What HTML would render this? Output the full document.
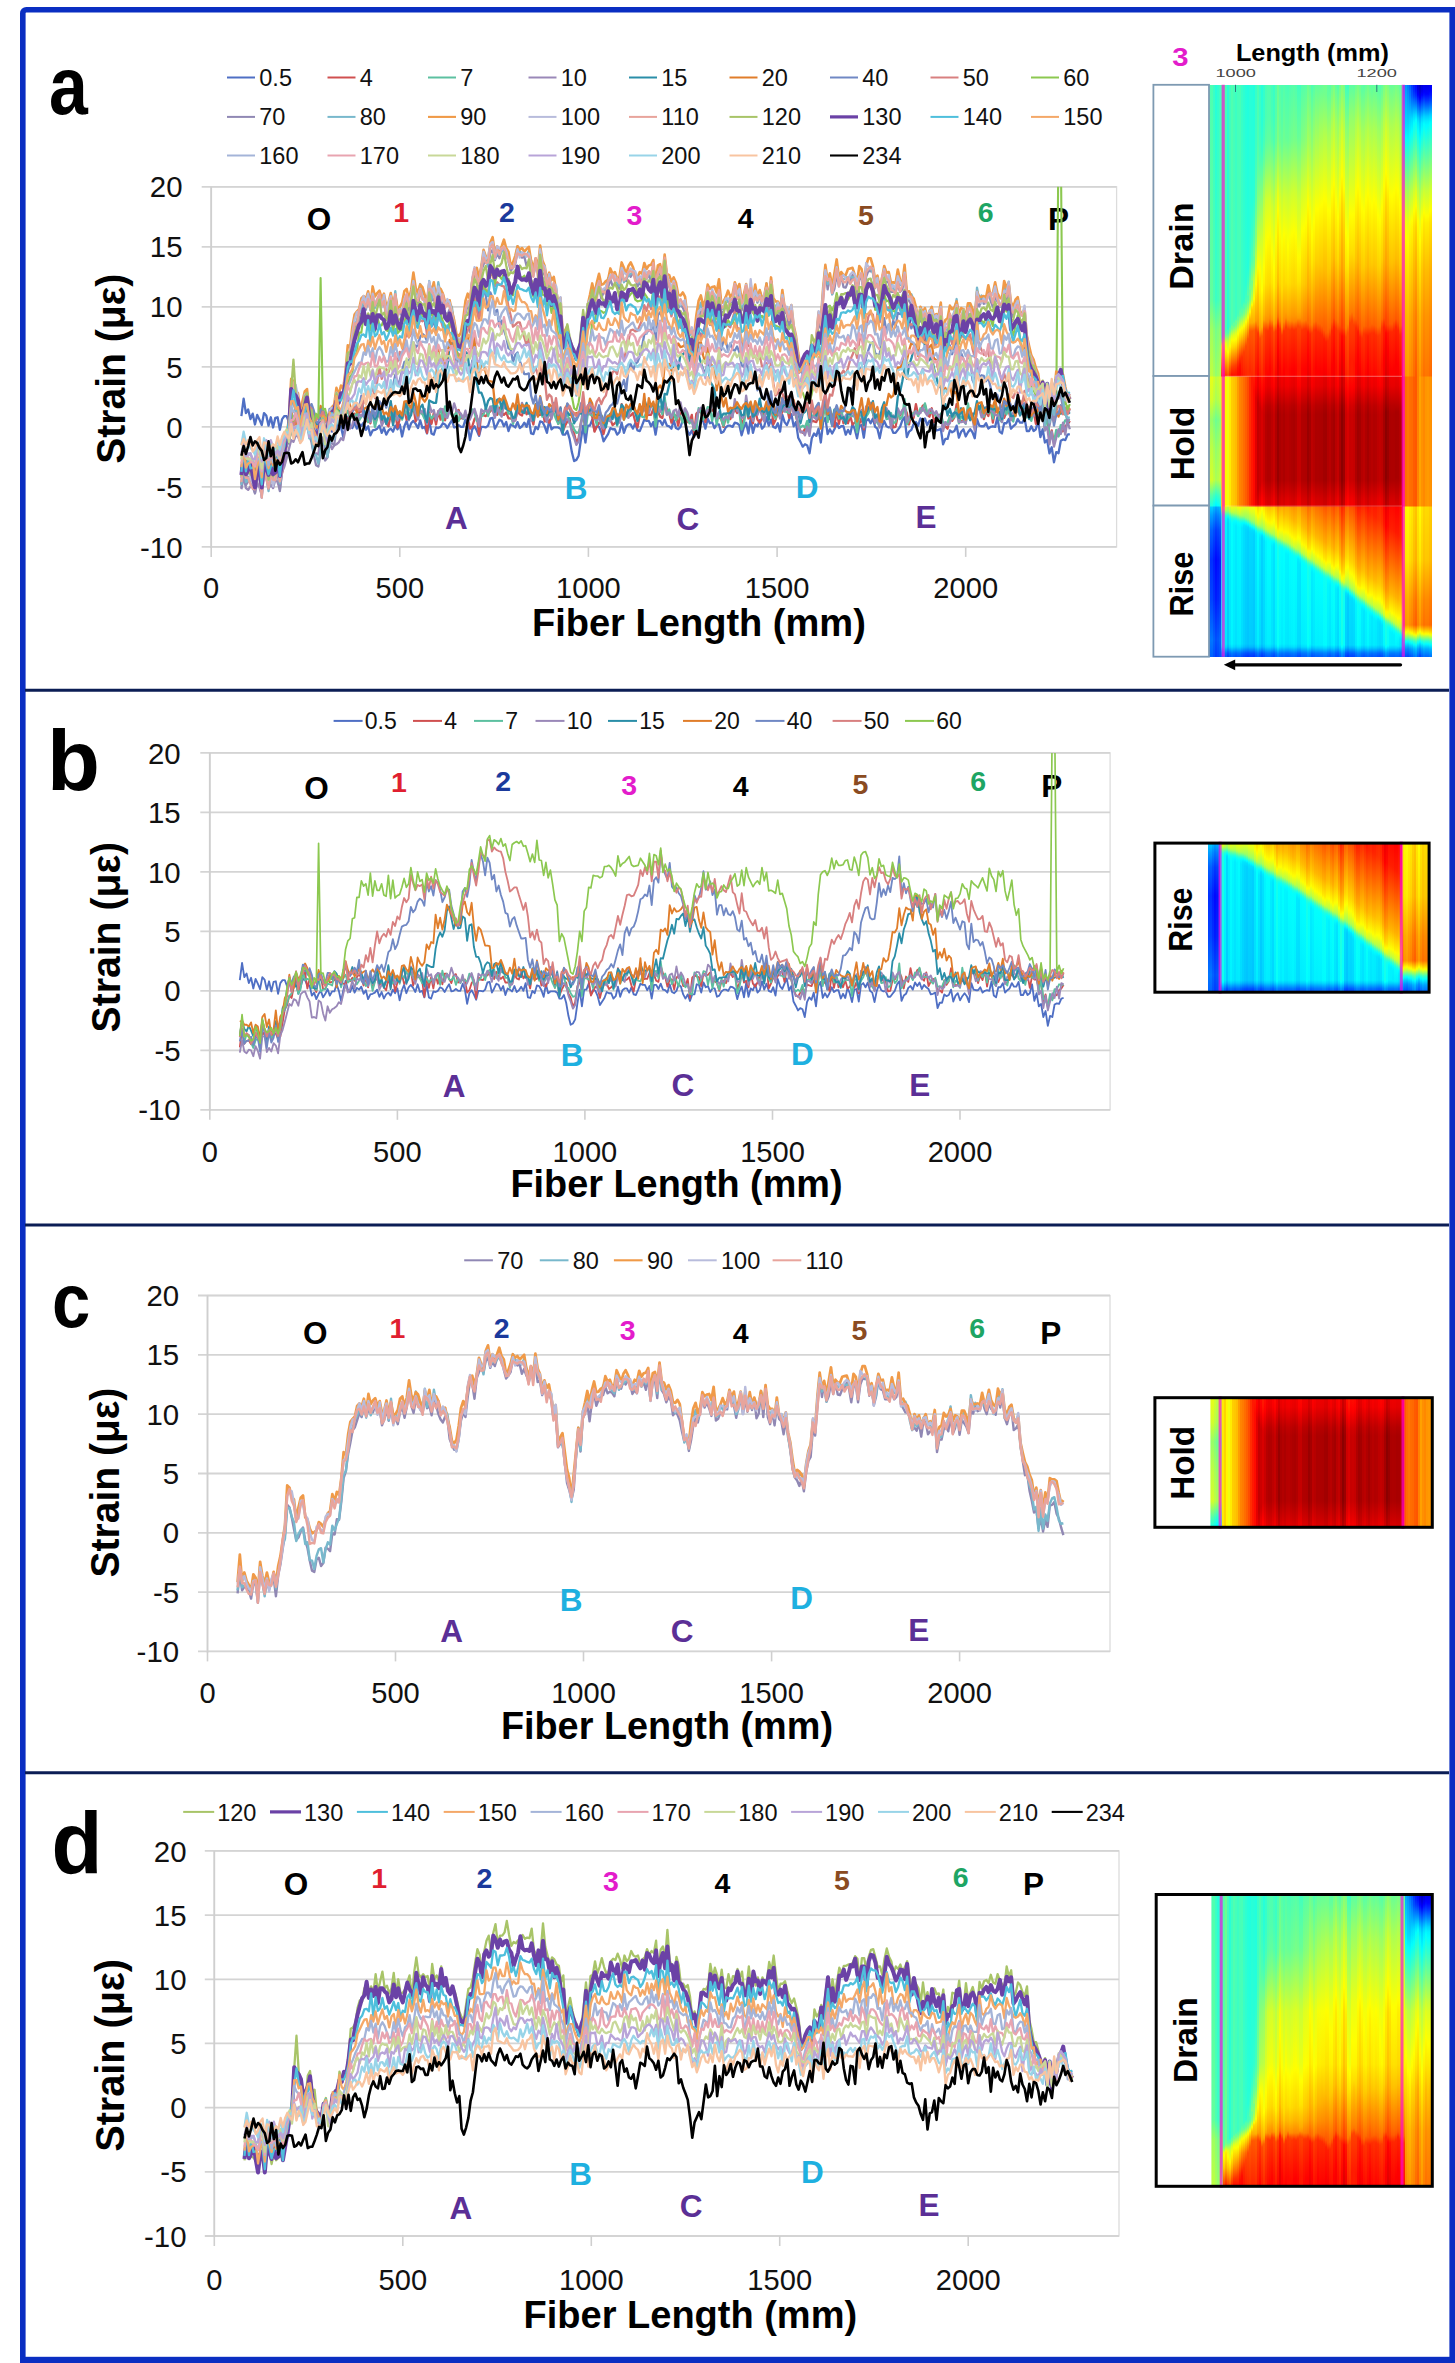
<!DOCTYPE html>
<html><head><meta charset="utf-8"><style>
html,body{margin:0;padding:0;background:#fff;}
#root{position:relative;width:1455px;height:2363px;overflow:hidden;background:#fff;font-family:"Liberation Sans", sans-serif;}
#root svg{position:absolute;left:0;top:0;}
.hm{position:absolute;}
.hm div{position:absolute;top:0;height:100%;}
</style></head><body><div id="root">
<div class="hm" style="left:1209.3px;top:84.8px;width:222.5px;height:571.9px"><div style="left:0.0px;width:2.6px;background:linear-gradient(#4effb1 0px,#63ff9c 215px,#a0ff5f 245px,#beff41 291px,#e7ff18 292px,#d3ff2c 315px,#96ff69 335px,#beff41 365px,#d3ff2c 395px,#5affa5 410px,#1cffe3 421px,#00ceff 422px,#00a1ff 430px,#0064ff 445px,#0030ff 475px,#04f 515px,#07f 555px,#0063ff 571px)"></div><div style="left:2.0px;width:2.6px;background:linear-gradient(#4effb1 0px,#63ff9c 215px,#a0ff5f 245px,#bfff40 291px,#e7ff18 292px,#d3ff2c 315px,#96ff69 335px,#beff41 365px,#d3ff2c 395px,#5affa5 410px,#1dffe2 421px,#00cfff 422px,#00a1ff 430px,#0064ff 445px,#0030ff 475px,#04f 515px,#07f 555px,#0063ff 571px)"></div><div style="left:4.0px;width:2.6px;background:linear-gradient(#3affc5 0px,#4effb1 215px,#8bff74 245px,#af5 291px,#d2ff2d 292px,#bfff40 315px,#82ff7d 335px,#af5 365px,#bfff40 395px,#46ffb9 410px,#08fff7 421px,#00baff 422px,#008dff 430px,#004fff 445px,#001cff 475px,#0030ff 515px,#0063ff 555px,#004fff 571px)"></div><div style="left:6.0px;width:2.6px;background:linear-gradient(#26ffd9 0px,#3bffc4 215px,#7f8 245px,#96ff69 291px,#bfff40 292px,#abff54 315px,#6eff91 335px,#96ff69 365px,#abff54 395px,#32ffcd 410px,#00feff 419px,#00f3ff 421px,#00a6ff 422px,#0079ff 430px,#003bff 445px,#0008ff 475px,#001cff 515px,#004fff 555px,#003bff 571px)"></div><div style="left:8.0px;width:2.6px;background:linear-gradient(#30ffcf 0px,#4fb 215px,#81ff7e 245px,#a0ff5f 291px,#c8ff37 292px,#b5ff4a 315px,#78ff87 335px,#a0ff5f 365px,#b4ff4b 395px,#3cffc3 410px,#04fffb 420px,#00fdff 421px,#00b0ff 422px,#007eff 431px,#0045ff 445px,#0012ff 475px,#0026ff 515px,#0058ff 555px,#0045ff 571px)"></div><div style="left:10.0px;width:2.6px;background:linear-gradient(#3effc1 0px,#52ffad 215px,#8fff70 245px,#aeff51 291px,#d6ff29 292px,#c3ff3c 315px,#86ff79 335px,#aeff51 365px,#c2ff3d 395px,#4affb5 410px,#0cfff3 421px,#00beff 422px,#0091ff 430px,#0053ff 445px,#0020ff 475px,#0034ff 515px,#06f 555px,#0053ff 571px)"></div><div style="left:12.0px;width:2.6px;background:linear-gradient(#56ffa9 0px,#56ffa9 250px,#5fffa0 252px,#85ff7a 255px,#a6ff59 257px,#ef1 260px,#feff01 263px,#ffd000 272px,#ff3b00 291px,#ffec00 292px,#ffec00 421px,#daff25 422px,#c2ff3d 424px,#5fa 428px,#2cffd3 430px,#13ffec 432px,#08fff7 435px,#00faff 559px,#00e6ff 562px,#0084ff 568px,#006bff 571px)"></div><div style="left:14.0px;width:2.6px;background:linear-gradient(#6cff93 0px,#6cff93 248px,#8dff72 252px,#f4ff0b 258px,#fff700 259px,#ffb900 271px,#ff1d00 291px,#ffd500 292px,#ffd500 421px,#f4ff0b 422px,#e1ff1e 424px,#cdff32 425px,#61ff9e 429px,#3bffc4 431px,#27ffd8 433px,#1effe1 436px,#1fe 559px,#09fff6 561px,#0ef 563px,#009bff 568px,#0082ff 571px)"></div><div style="left:16.0px;width:2.6px;background:linear-gradient(#46ffb9 0px,#46ffb9 245px,#4fffb0 247px,#5fffa0 248px,#5affa5 249px,#e4ff1b 258px,#feff01 264px,#ffd400 271px,#ff3800 291px,#fff800 292px,#fff800 421px,#d3ff2c 422px,#b6ff49 425px,#4bffb4 429px,#20ffdf 431px,#00feff 434px,#00f6ff 437px,#00eaff 559px,#00d6ff 562px,#0074ff 568px,#005bff 571px)"></div><div style="left:18.0px;width:2.6px;background:linear-gradient(#29ffd6 0px,#29ffd6 243px,#2cffd3 244px,#49ffb6 246px,#40ffbf 247px,#4cffb3 248px,#c2ff3d 256px,#fdff02 267px,#ff4a00 291px,#f0ff0f 292px,#f0ff0f 421px,#bf4 422px,#94ff6b 426px,#1fe 431px,#00fdff 432px,#00e4ff 434px,#00d9ff 438px,#00cdff 559px,#00b9ff 562px,#0057ff 568px,#003eff 571px)"></div><div style="left:20.0px;width:2.6px;background:linear-gradient(#40ffbf 0px,#40ffbf 241px,#46ffb9 242px,#67ff98 244px,#5bffa4 245px,#daff25 254px,#fdff02 261px,#ffda00 267px,#ff5a00 283px,#ff2700 291px,#ffeb00 292px,#ffeb00 421px,#d7ff28 422px,#b6ff49 426px,#a4ff5b 427px,#50ffaf 430px,#2fd 432px,#03fffc 434px,#00faff 435px,#00f1ff 439px,#00e5ff 559px,#00d1ff 562px,#006fff 568px,#0056ff 571px)"></div><div style="left:22.0px;width:2.6px;background:linear-gradient(#4fffb0 0px,#50ffaf 238px,#5cffa3 240px,#7dff82 242px,#6dff92 243px,#deff21 251px,#fcff03 255px,#ffdc00 262px,#ff4000 282px,#ff0c00 291px,#ffce00 292px,#ffce00 421px,#ecff13 422px,#c1ff3e 427px,#40ffbf 432px,#1bffe4 434px,#02fffd 438px,#00f4ff 559px,#00e0ff 562px,#007eff 568px,#0065ff 571px)"></div><div style="left:24.0px;width:2.6px;background:linear-gradient(#45ffba 0px,#46ffb9 235px,#52ffad 237px,#6dff92 239px,#5effa1 240px,#67ff98 241px,#e1ff1e 250px,#fdff02 255px,#ffd500 262px,#ff4000 281px,#ff0e00 291px,#ffc600 292px,#ffc600 421px,#e6ff19 422px,#caff35 426px,#b2ff4d 428px,#2fffd0 433px,#0dfff2 435px,#00fcff 437px,#00f6ff 440px,#00e9ff 559px,#00d6ff 562px,#0074ff 568px,#005bff 571px)"></div><div style="left:26.0px;width:2.6px;background:linear-gradient(#3cffc3 0px,#3cffc3 231px,#49ffb6 234px,#70ff8f 237px,#60ff9f 238px,#7eff81 241px,#dbff24 248px,#fcff03 254px,#ffda00 260px,#ff3f00 280px,#ff1f00 286px,#f10 291px,#fb0 292px,#fb0 421px,#e3ff1c 422px,#b4ff4b 428px,#a3ff5c 429px,#36ffc9 433px,#01fffe 436px,#00edff 441px,#00e1ff 559px,#00cdff 562px,#006bff 568px,#0052ff 571px)"></div><div style="left:28.0px;width:2.6px;background:linear-gradient(#46ffb9 0px,#46ffb9 228px,#53ffac 231px,#6aff95 233px,#61ff9e 234px,#a9ff56 241px,#ebff14 246px,#fdff02 249px,#ffd500 256px,#f30 277px,#ff1400 283px,#ff0700 289px,#ff0700 291px,#ff9c00 292px,#ff9c00 421px,#f1ff0e 422px,#b9ff46 429px,#38ffc7 434px,#13ffec 436px,#0ff 438px,#00f6ff 442px,#00eaff 559px,#00d6ff 562px,#0074ff 568px,#005bff 571px)"></div><div style="left:30.0px;width:2.6px;background:linear-gradient(#48ffb7 0px,#48ffb7 223px,#65ff9a 229px,#5dffa2 230px,#64ff9b 231px,#ff0 245px,#ffd300 252px,#ff3100 273px,#ff0f00 280px,#ff0500 286px,#ff0500 291px,#ff8300 292px,#ff8300 421px,#f8ff07 422px,#cdff32 428px,#b6ff49 430px,#3fc 435px,#1fe 437px,#0ff 439px,#00f8ff 442px,#00ecff 559px,#00d8ff 562px,#0076ff 568px,#005dff 571px)"></div><div style="left:32.0px;width:2.6px;background:linear-gradient(#38ffc7 0px,#39ffc6 218px,#42ffbd 221px,#5cffa3 225px,#53ffac 226px,#6aff95 230px,#fbff04 243px,#ffe200 248px,#ff6200 264px,#ff2f00 272px,#ff1400 289px,#ff1400 291px,#ff7a00 292px,#ff7a00 421px,#edff12 422px,#b1ff4e 430px,#a1ff5e 431px,#34ffcb 435px,#00fdff 438px,#00e9ff 443px,#0df 559px,#00c9ff 562px,#0067ff 568px,#004eff 571px)"></div><div style="left:34.0px;width:2.6px;background:linear-gradient(#2effd1 0px,#32ffcd 213px,#37ffc8 216px,#58ffa7 221px,#4effb1 222px,#7aff85 229px,#e3ff1c 238px,#fdff02 241px,#ff3e00 267px,#ff1f00 289px,#ff1f00 291px,#ff6c00 292px,#ff6c00 421px,#e8ff17 422px,#a2ff5d 431px,#2fd 436px,#00fcff 438px,#00e7ff 440px,#00dfff 443px,#00d2ff 559px,#00beff 562px,#005cff 568px,#0043ff 571px)"></div><div style="left:36.0px;width:2.6px;background:linear-gradient(#25ffda 0px,#2affd5 198px,#39ffc6 209px,#4fffb0 216px,#45ffba 217px,#93ff6c 228px,#fdff02 237px,#ff4b00 261px,#ff2700 287px,#ff2700 291px,#ff5d00 292px,#ff5d00 421px,#e5ff1a 422px,#9cff63 432px,#8bff74 433px,#1effe1 437px,#08fff7 438px,#00f6ff 439px,#00e0ff 441px,#00d6ff 445px,#00caff 559px,#00b6ff 562px,#0054ff 568px,#003bff 571px)"></div><div style="left:38.0px;width:2.6px;background:linear-gradient(#21ffde 0px,#25ffda 183px,#3bffc4 197px,#5dffa2 210px,#4bffb4 211px,#53ffac 215px,#90ff6f 223px,#f8ff07 232px,#fffa00 233px,#ff5600 254px,#ff2c00 287px,#ff2c00 291px,#ff4a00 292px,#ff4a00 421px,#e5ff1a 422px,#deff21 424px,#9bff64 433px,#8cff73 434px,#08fff7 439px,#00f5ff 440px,#00dcff 442px,#00d1ff 446px,#00c5ff 559px,#00b1ff 562px,#004fff 568px,#0036ff 571px)"></div><div style="left:40.0px;width:2.6px;background:linear-gradient(#28ffd7 0px,#28ffd7 144px,#36ffc9 175px,#51ffae 189px,#7eff81 204px,#6f9 205px,#7fff80 215px,#f5ff0a 226px,#fffd00 227px,#ffb900 234px,#fa0 238px,#ff6300 245px,#ff5700 247px,#ff2600 286px,#ff2c00 292px,#ff2c00 421px,#f0ff0f 422px,#dfff20 426px,#a4ff5b 434px,#97ff68 435px,#2bffd4 439px,#01fffe 441px,#00e5ff 443px,#00d8ff 447px,#0cf 559px,#00b8ff 562px,#0056ff 568px,#003dff 571px)"></div><div style="left:42.0px;width:2.6px;background:linear-gradient(#26ffd9 0px,#26ffd9 117px,#3affc5 154px,#52ffad 175px,#8cff73 195px,#73ff8c 196px,#85ff7a 204px,#beff41 215px,#f2ff0d 219px,#fffe00 220px,#ffe400 222px,#ffd000 225px,#ffab00 238px,#ff5900 246px,#ff2600 291px,#ff1800 292px,#ff1800 421px,#f3ff0c 422px,#dfff20 427px,#a5ff5a 435px,#83ff7c 437px,#18ffe7 441px,#03fffc 442px,#00f2ff 443px,#00dfff 445px,#00d7ff 448px,#00caff 559px,#00b7ff 562px,#0054ff 568px,#003cff 571px)"></div><div style="left:44.0px;width:2.6px;background:linear-gradient(#21ffde 0px,#2affd5 112px,#42ffbd 140px,#6eff91 171px,#61ff9e 172px,#76ff89 182px,#abff54 192px,#fdff02 214px,#ffd900 221px,#ffb100 237px,#ff6100 245px,#ff5d00 246px,#ff2b00 291px,#ff1c00 292px,#ff0a00 306px,#ff0a00 421px,#f3ff0c 422px,#dcff23 428px,#a3ff5c 436px,#85ff7a 438px,#31ffce 441px,#03fffc 443px,#00f1ff 444px,#00dbff 446px,#00d2ff 450px,#00c5ff 559px,#00b2ff 562px,#0050ff 568px,#0037ff 571px)"></div><div style="left:46.0px;width:2.6px;background:linear-gradient(#38ffc7 0px,#3dffc2 69px,#57ffa8 115px,#85ff7a 147px,#7fff80 148px,#89ff76 156px,#feff01 199px,#ffcb00 216px,#ff9b00 236px,#ff4700 245px,#ff1400 285px,#ff1400 291px,#ff0500 292px,#fe0000 300px,#e10000 313px,#e10000 410px,#ef0000 421px,#fff000 422px,#fffe00 426px,#f5ff0a 429px,#b2ff4d 438px,#a2ff5d 439px,#35ffca 443px,#00fdff 446px,#00efff 448px,#00e9ff 451px,#0df 559px,#00c9ff 562px,#0067ff 568px,#004eff 571px)"></div><div style="left:48.0px;width:2.6px;background:linear-gradient(#4affb5 0px,#4fffb0 56px,#62ff9d 87px,#9f6 129px,#feff01 182px,#ff9c00 234px,#ff8700 240px,#ff3600 248px,#ff0300 291px,#f20000 292px,#eb0000 301px,#c20000 318px,#c20000 404px,#de0000 421px,#ffda00 422px,#fffd00 431px,#c6ff39 439px,#b8ff47 440px,#4cffb3 444px,#2fd 446px,#08fff7 448px,#00feff 450px,#0ef 559px,#00daff 562px,#0078ff 568px,#005fff 571px)"></div><div style="left:50.0px;width:2.6px;background:linear-gradient(#38ffc7 0px,#3cffc3 47px,#4effb1 76px,#ff0 186px,#ffec00 208px,#ffaf00 239px,#ff9b00 245px,#ff4b00 253px,#ff4800 254px,#ff1a00 291px,#ff0700 292px,#fe0000 301px,#cb0000 323px,#cb0000 400px,#eb0000 414px,#f10000 421px,#ffe900 422px,#fffe00 428px,#efff10 432px,#b5ff4a 440px,#92ff6d 442px,#27ffd8 446px,#03fffc 448px,#00f6ff 449px,#00e7ff 453px,#00dbff 559px,#00c7ff 562px,#0065ff 568px,#004cff 571px)"></div><div style="left:52.0px;width:2.6px;background:linear-gradient(#26ffd9 0px,#2affd5 39px,#39ffc6 65px,#d1ff2e 154px,#ff0 205px,#ffc200 236px,#ffaf00 242px,#ff5b00 251px,#ff2800 291px,#ff1900 292px,#fe0000 309px,#d70000 327px,#d70000 396px,#fd0000 414px,#ff0500 421px,#fff700 422px,#fffe00 424px,#dfff20 433px,#a5ff5a 441px,#86ff79 443px,#32ffcd 446px,#05fffa 448px,#00f3ff 449px,#00deff 451px,#00d5ff 454px,#00c8ff 559px,#00b5ff 562px,#0053ff 568px,#003aff 571px)"></div><div style="left:54.0px;width:2.6px;background:linear-gradient(#34ffcb 0px,#37ffc8 32px,#4fb 55px,#60ff9f 75px,#a5ff5a 106px,#cbff34 128px,#ff0 182px,#fff200 198px,#ffb600 229px,#ffa200 235px,#ff4e00 244px,#ff1c00 284px,#ff1b00 291px,#ff0c00 292px,#fd0000 304px,#d30000 321px,#c90000 330px,#c90000 395px,#f10000 414px,#f70000 421px,#ffe500 422px,#fffe00 429px,#edff12 434px,#af5 443px,#9f6 444px,#16ffe9 449px,#04fffb 450px,#00f5ff 451px,#00e2ff 456px,#00d5ff 559px,#00c2ff 562px,#0060ff 568px,#0047ff 571px)"></div><div style="left:56.0px;width:2.6px;background:linear-gradient(#48ffb7 0px,#4cffb3 32px,#5bffa4 56px,#79ff86 75px,#cdff32 114px,#f6ff09 150px,#fffe00 161px,#ffdf00 199px,#ffa200 230px,#ff8e00 236px,#ff3b00 245px,#ff0900 284px,#ff0800 291px,#f80000 292px,#f00000 301px,#c00000 321px,#b60000 330px,#b60000 395px,#d00 414px,#e40000 421px,#ffce00 422px,#fffd00 435px,#c0ff3f 444px,#b1ff4e 445px,#2effd1 450px,#01fffe 453px,#00f5ff 457px,#00e8ff 559px,#00d5ff 562px,#0073ff 568px,#005aff 571px)"></div><div style="left:58.0px;width:2.6px;background:linear-gradient(#50ffaf 0px,#53ffac 32px,#63ff9c 57px,#82ff7d 76px,#d2ff2d 114px,#feff01 152px,#ffd900 200px,#ff9c00 231px,#f80 237px,#ff3400 246px,#ff0200 291px,#f20000 292px,#ea0000 301px,#ba0000 321px,#af0000 330px,#b00000 395px,#d70000 414px,#d00 421px,#ffc300 422px,#fffb00 437px,#d1ff2e 444px,#bf4 446px,#51ffae 450px,#26ffd9 452px,#0afff5 454px,#0ff 456px,#00efff 559px,#00dbff 562px,#0079ff 568px,#0060ff 571px)"></div><div style="left:60.0px;width:2.6px;background:linear-gradient(#4fffb0 0px,#53ffac 31px,#61ff9e 54px,#80ff7f 74px,#d4ff2b 114px,#fcff03 149px,#ffda00 197px,#ff9d00 228px,#ff8a00 234px,#ff3600 243px,#ff0300 283px,#ff0300 291px,#f30000 292px,#eb0000 301px,#b00 321px,#b10000 330px,#b10000 395px,#d80000 414px,#de0000 421px,#ffc000 422px,#fffb00 438px,#bdff42 447px,#28ffd7 453px,#0bfff4 455px,#0ff 457px,#0ef 559px,#00daff 562px,#0078ff 568px,#005fff 571px)"></div><div style="left:62.0px;width:2.6px;background:linear-gradient(#43ffbc 0px,#47ffb8 31px,#56ffa9 54px,#d4ff2b 123px,#ff0 167px,#ffe500 198px,#ffa800 229px,#ff9300 235px,#ff4200 243px,#ff0f00 283px,#ff0f00 291px,#f00 292px,#f70000 301px,#c60000 321px,#bc0000 330px,#bd0000 395px,#e40000 414px,#ea0000 421px,#ffc700 422px,#fffd00 437px,#f9ff06 439px,#b4ff4b 448px,#a3ff5c 449px,#36ffc9 453px,#01fffe 456px,#0ef 461px,#00e2ff 559px,#00ceff 562px,#006cff 568px,#0053ff 571px)"></div><div style="left:64.0px;width:2.6px;background:linear-gradient(#39ffc6 0px,#3effc1 33px,#4fffb0 58px,#c5ff3a 122px,#ff0 183px,#ffef00 202px,#ffb200 233px,#ff9e00 239px,#ff4e00 247px,#ff4b00 248px,#ff1900 291px,#ff0a00 292px,#fd0000 303px,#d10000 321px,#c60000 330px,#c70000 395px,#e00 414px,#f40000 421px,#ffce00 422px,#fffc00 435px,#f0ff0f 440px,#adff52 449px,#9eff61 450px,#1affe5 455px,#00f9ff 457px,#00eaff 459px,#00e4ff 462px,#00d8ff 559px,#00c4ff 562px,#0062ff 568px,#0049ff 571px)"></div><div style="left:66.0px;width:2.6px;background:linear-gradient(#4fffb0 0px,#5fa 32px,#65ff9a 57px,#cfff30 113px,#fcff03 152px,#ffd900 201px,#ff9c00 232px,#f80 238px,#ff3700 246px,#ff0300 291px,#f30000 292px,#eb0000 301px,#b00 321px,#b00000 330px,#b10000 395px,#d80000 414px,#de0000 421px,#ffb500 422px,#fffd00 442px,#c6ff39 450px,#b7ff48 451px,#4cffb3 455px,#21ffde 457px,#07fff8 459px,#00feff 461px,#0ef 559px,#00daff 562px,#0078ff 568px,#005fff 571px)"></div><div style="left:68.0px;width:2.6px;background:linear-gradient(#68ff97 0px,#7dff82 53px,#9cff63 73px,#e3ff1c 107px,#feff01 126px,#ffc100 195px,#ff8500 226px,#ff7100 232px,#ff1d00 241px,#f00 266px,#ea0000 281px,#ea0000 291px,#db0000 292px,#d30000 301px,#a50000 320px,#900 329px,#900 395px,#c00000 414px,#c60000 421px,#ff9b00 422px,#ffde00 442px,#fff900 446px,#e8ff17 450px,#d3ff2c 452px,#69ff96 456px,#3dffc2 458px,#21ffde 460px,#14ffeb 463px,#05fffa 560px,#00f2ff 562px,#0084ff 569px,#07f 571px)"></div><div style="left:70.0px;width:2.6px;background:linear-gradient(#5fa 0px,#6cff93 55px,#d5ff2a 112px,#feff01 147px,#ffd400 199px,#ff9600 230px,#ff8200 236px,#ff3100 244px,#fe0000 283px,#fc0000 291px,#ed0000 292px,#e50000 301px,#b70000 320px,#ab0000 329px,#ab0000 395px,#d20000 414px,#d90000 421px,#fa0 422px,#fffc00 445px,#c4ff3b 453px,#2fffd0 459px,#1fe 461px,#03fffc 464px,#00f4ff 559px,#00e0ff 562px,#007eff 568px,#0065ff 571px)"></div><div style="left:72.0px;width:2.6px;background:linear-gradient(#4dffb2 0px,#56ffa9 34px,#69ff96 61px,#c9ff36 113px,#faff05 156px,#ffdb00 205px,#ff9e00 236px,#ff8a00 242px,#ff3800 250px,#ff0500 291px,#f50000 292px,#ed0000 301px,#bd0000 321px,#b20000 330px,#b30000 395px,#da0000 414px,#e00000 421px,#ffaf00 422px,#fffb00 445px,#bfff40 454px,#aeff51 455px,#2bffd4 460px,#0cfff3 462px,#00feff 464px,#00ecff 559px,#00d8ff 562px,#0076ff 568px,#005dff 571px)"></div><div style="left:74.0px;width:2.6px;background:linear-gradient(#54ffab 0px,#70ff8f 57px,#d3ff2c 112px,#ff0 150px,#ffd500 200px,#ff9800 231px,#ff8500 237px,#ff3100 246px,#f00 285px,#fd0000 291px,#e00 292px,#e60000 301px,#b80000 320px,#ac0000 329px,#ac0000 395px,#d30000 414px,#d90000 421px,#ffa500 422px,#ffb600 429px,#fffa00 447px,#c9ff36 455px,#baff45 456px,#4dffb2 460px,#24ffdb 462px,#0bfff4 464px,#01fffe 467px,#00f3ff 559px,#00dfff 562px,#007dff 568px,#0064ff 571px)"></div><div style="left:76.0px;width:2.6px;background:linear-gradient(#4cffb3 0px,#6f9 53px,#cdff32 111px,#f8ff07 148px,#ffde00 196px,#ffa200 227px,#ff8e00 233px,#ff3a00 242px,#ff0800 282px,#ff0800 291px,#f70000 292px,#f00000 301px,#bf0000 321px,#b50000 330px,#b50000 395px,#d00 414px,#e30000 421px,#ffab00 422px,#ffbf00 430px,#fffb00 447px,#c2ff3d 456px,#b4ff4b 457px,#48ffb7 461px,#1effe1 463px,#03fffc 465px,#00fdff 466px,#00f5ff 469px,#00e9ff 559px,#00d6ff 562px,#0073ff 568px,#005bff 571px)"></div><div style="left:78.0px;width:2.6px;background:linear-gradient(#49ffb6 0px,#6f9 55px,#c9ff36 111px,#f6ff09 150px,#ff0 161px,#ffe000 198px,#ffa400 229px,#ff9000 235px,#ff3c00 244px,#ff0a00 284px,#ff0900 291px,#f90000 292px,#f10000 301px,#c10000 321px,#b70000 330px,#b70000 395px,#df0000 414px,#e50000 421px,#fa0 422px,#ffc300 432px,#fffc00 448px,#caff35 456px,#b5ff4a 458px,#20ffdf 464px,#03fffc 466px,#00fcff 467px,#00f4ff 470px,#00e7ff 559px,#00d4ff 562px,#0072ff 568px,#0059ff 571px)"></div><div style="left:80.0px;width:2.6px;background:linear-gradient(#4fffb0 0px,#6eff91 56px,#cf3 110px,#fbff04 151px,#ffdb00 199px,#ff9e00 230px,#ff8b00 236px,#ff3700 245px,#ff0400 285px,#ff0400 291px,#f40000 292px,#ec0000 301px,#bc0000 321px,#b10000 330px,#b20000 395px,#d90000 414px,#df0000 421px,#ffa200 422px,#ffbd00 433px,#fffb00 450px,#bdff42 459px,#29ffd6 465px,#0bfff4 467px,#00feff 469px,#00edff 559px,#00d9ff 562px,#07f 568px,#005eff 571px)"></div><div style="left:82.0px;width:2.6px;background:linear-gradient(#53ffac 0px,#73ff8c 55px,#cfff30 108px,#feff01 149px,#ffd500 199px,#ff9800 230px,#ff8400 236px,#f30 244px,#f00 285px,#f00 291px,#ef0000 292px,#e80000 301px,#b90000 320px,#ad0000 329px,#ae0000 395px,#d50000 414px,#db0000 421px,#ff9b00 422px,#ffb800 434px,#fffc00 452px,#c5ff3a 460px,#b5ff4a 461px,#48ffb7 465px,#20ffdf 467px,#08fff7 469px,#01fffe 471px,#00f1ff 559px,#0df 562px,#007bff 568px,#0062ff 571px)"></div><div style="left:84.0px;width:2.6px;background:linear-gradient(#57ffa8 0px,#79ff86 56px,#cfff30 106px,#feff01 146px,#ffd100 200px,#ff9400 231px,#ff8000 237px,#ff3000 245px,#f00 283px,#fb0000 291px,#ec0000 292px,#e40000 301px,#b60000 320px,#a00 329px,#a00 395px,#d10000 414px,#d80000 421px,#ff9400 422px,#ffb600 436px,#fffd00 454px,#ceff31 461px,#c1ff3e 462px,#56ffa9 466px,#2bffd4 468px,#0ffff0 470px,#03fffc 473px,#00f4ff 559px,#00e1ff 562px,#007fff 568px,#06f 571px)"></div><div style="left:86.0px;width:2.6px;background:linear-gradient(#51ffae 0px,#75ff8a 55px,#cdff32 107px,#feff01 150px,#ffeb00 175px,#ffd600 199px,#f90 230px,#ff8300 236px,#ff3600 244px,#ff0300 284px,#ff0300 291px,#f30000 292px,#eb0000 301px,#b00 321px,#b10000 330px,#b10000 395px,#d90000 414px,#df0000 421px,#ff9800 422px,#ffbc00 437px,#fffa00 454px,#c0ff3f 463px,#aeff51 464px,#2cffd3 469px,#0dfff2 471px,#0ff 473px,#00edff 559px,#00daff 562px,#0078ff 568px,#005fff 571px)"></div><div style="left:88.0px;width:2.6px;background:linear-gradient(#42ffbd 0px,#6f9 52px,#cbff34 115px,#fffb00 172px,#ffe500 196px,#ffa900 227px,#ff9600 233px,#ff4700 241px,#ff1500 281px,#ff1400 291px,#ff0500 292px,#fe0000 300px,#c00 321px,#c20000 330px,#c20000 395px,#ea0000 414px,#f00000 421px,#ffa500 422px,#ffcb00 438px,#fffe00 452px,#f6ff09 455px,#b5ff4a 464px,#a7ff58 465px,#24ffdb 470px,#01fffe 472px,#00f0ff 474px,#00e9ff 477px,#00dcff 559px,#00c9ff 562px,#0067ff 568px,#004eff 571px)"></div><div style="left:90.0px;width:2.6px;background:linear-gradient(#41ffbe 0px,#68ff97 52px,#caff35 114px,#fffb00 172px,#ffe400 196px,#ffa900 227px,#ff9600 233px,#ff4700 242px,#ff1700 281px,#ff1600 291px,#ff0700 292px,#fe0000 301px,#ce0000 321px,#c30000 330px,#c40000 395px,#eb0000 414px,#f10000 421px,#ffa300 422px,#ffcf00 440px,#fffd00 453px,#f1ff0e 457px,#acff53 466px,#98ff67 467px,#2cffd3 471px,#06fff9 473px,#00f8ff 474px,#00e7ff 479px,#00dbff 559px,#00c7ff 562px,#0065ff 568px,#004cff 571px)"></div><div style="left:92.0px;width:2.6px;background:linear-gradient(#53ffac 0px,#80ff7f 55px,#d1ff2e 106px,#feff01 146px,#ffe600 175px,#ffce00 199px,#ff9400 230px,#ff8200 236px,#ff3400 245px,#ff0400 284px,#ff0300 291px,#f30000 292px,#eb0000 301px,#b00 321px,#b10000 330px,#b10000 395px,#d80000 414px,#df0000 421px,#ff8d00 422px,#fb0 441px,#fffe00 459px,#c4ff3b 467px,#b6ff49 468px,#3fc 473px,#1fe 475px,#01fffe 477px,#00edff 559px,#00daff 562px,#0078ff 568px,#005fff 571px)"></div><div style="left:94.0px;width:2.6px;background:linear-gradient(#56ffa9 0px,#85ff7a 55px,#d6ff29 106px,#ff0 143px,#ffc900 199px,#ff7d00 236px,#f30 244px,#ff0200 284px,#ff0200 291px,#f20000 292px,#ea0000 301px,#ba0000 321px,#b00000 330px,#b00000 395px,#d70000 414px,#de0000 421px,#ff8900 422px,#fb0 443px,#fffa00 460px,#beff41 469px,#29ffd6 475px,#0bfff4 477px,#0ff 479px,#0ef 559px,#00dbff 562px,#0079ff 568px,#0060ff 571px)"></div><div style="left:96.0px;width:2.6px;background:linear-gradient(#5affa5 0px,#8dff72 55px,#daff25 105px,#ff0 138px,#ffc200 199px,#ff7a00 235px,#ff2f00 244px,#f00 284px,#f00 291px,#f00000 292px,#e80000 301px,#ba0000 320px,#ae0000 329px,#ae0000 395px,#d50000 414px,#db0000 421px,#ff8300 422px,#ffb800 444px,#fffc00 462px,#c6ff39 470px,#b7ff48 471px,#4affb5 475px,#21ffde 477px,#09fff6 479px,#01fffe 481px,#00f1ff 559px,#0df 562px,#007bff 568px,#0062ff 571px)"></div><div style="left:98.0px;width:2.6px;background:linear-gradient(#6cff93 0px,#a6ff59 58px,#ff0 119px,#fa0 202px,#ff6400 238px,#ff1b00 247px,#f00 271px,#eb0000 291px,#dc0000 292px,#d40000 301px,#a60000 320px,#900 329px,#9a0000 395px,#c10000 414px,#c70000 421px,#ff6c00 422px,#ffa500 446px,#ffdf00 462px,#fffa00 466px,#e7ff18 470px,#d3ff2c 472px,#3dffc2 478px,#21ffde 480px,#13ffec 483px,#04fffb 560px,#00f1ff 562px,#008fff 568px,#0076ff 571px)"></div><div style="left:100.0px;width:2.6px;background:linear-gradient(#62ff9d 0px,#a1ff5e 60px,#fffe00 129px,#ffd000 179px,#ffb000 204px,#ff6b00 240px,#ff2500 249px,#f00 281px,#f60000 291px,#e70000 292px,#df0000 301px,#b10000 320px,#a40000 329px,#a50000 395px,#c00 414px,#d20000 421px,#ff7300 422px,#ffaf00 447px,#ffec00 464px,#fffb00 466px,#ceff31 473px,#bdff42 474px,#50ffaf 478px,#28ffd7 480px,#1fe 482px,#09fff6 484px,#00faff 559px,#00e6ff 562px,#0084ff 568px,#006bff 571px)"></div><div style="left:102.0px;width:2.6px;background:linear-gradient(#4cffb3 0px,#8eff71 59px,#deff21 116px,#fffe00 150px,#ffe500 179px,#ff9000 233px,#ff7d00 240px,#ff3c00 248px,#ff0f00 291px,#fe0000 292px,#f70000 301px,#c60000 321px,#bc0000 330px,#bd0000 395px,#e40000 414px,#ea0000 421px,#f80 422px,#ffc500 448px,#ff0 464px,#bf4 474px,#96ff69 476px,#2cffd3 480px,#08fff7 482px,#00fcff 483px,#0ef 487px,#00e0ff 560px,#00c0ff 563px,#006cff 568px,#0053ff 571px)"></div><div style="left:104.0px;width:2.6px;background:linear-gradient(#57ffa8 0px,#e8ff17 113px,#ff0 137px,#ffdc00 176px,#ffb900 200px,#ff7600 237px,#ff3600 245px,#ff0900 284px,#ff0800 291px,#f80000 292px,#f00000 301px,#c00000 321px,#b50000 330px,#b60000 395px,#d00 414px,#e30000 421px,#ff7d00 422px,#ffc000 450px,#fffe00 467px,#bf4 476px,#a9ff56 477px,#27ffd8 482px,#00feff 485px,#00f4ff 489px,#00e7ff 560px,#00c7ff 563px,#0073ff 568px,#005aff 571px)"></div><div style="left:106.0px;width:2.6px;background:linear-gradient(#63ff9c 0px,#ff0 124px,#ffd000 175px,#ffad00 199px,#ff6b00 236px,#ff2b00 245px,#f00 283px,#fe0000 291px,#e00 292px,#e70000 301px,#b80000 320px,#ac0000 329px,#ad0000 395px,#d40000 414px,#da0000 421px,#ff7100 422px,#ffb600 451px,#fff900 469px,#caff35 477px,#bcff43 478px,#50ffaf 482px,#25ffda 484px,#0bfff4 486px,#02fffd 488px,#00f0ff 560px,#00d0ff 563px,#007cff 568px,#0063ff 571px)"></div><div style="left:108.0px;width:2.6px;background:linear-gradient(#61ff9e 0px,#ff0 124px,#ffce00 177px,#ffa900 201px,#ff6900 238px,#ff2b00 247px,#f00 286px,#f00 291px,#ef0000 292px,#e80000 301px,#b90000 320px,#ad0000 329px,#ae0000 395px,#d50000 414px,#db0000 421px,#ff6f00 422px,#ffb900 453px,#ff0 471px,#c0ff3f 479px,#2bffd4 485px,#0efff1 487px,#02fffd 489px,#00efff 560px,#00cfff 563px,#007bff 568px,#0062ff 571px)"></div><div style="left:110.0px;width:2.6px;background:linear-gradient(#62ff9d 0px,#a0ff5f 42px,#fffe00 121px,#ffc900 179px,#ff6500 239px,#ff2900 248px,#fe0000 286px,#fd0000 291px,#e00 292px,#e60000 301px,#b80000 320px,#ac0000 329px,#ac0000 395px,#d30000 414px,#da0000 421px,#ff6a00 422px,#ffb600 454px,#fffb00 472px,#c7ff38 480px,#b7ff48 481px,#4affb5 485px,#21ffde 487px,#09fff6 489px,#01fffe 491px,#00f1ff 560px,#00d1ff 563px,#007dff 568px,#0064ff 571px)"></div><div style="left:112.0px;width:2.6px;background:linear-gradient(#64ff9b 0px,#a5ff5a 45px,#ff0 119px,#ffc700 181px,#ff6200 241px,#ff2800 250px,#f00 287px,#fd0000 291px,#ed0000 292px,#e60000 301px,#b70000 320px,#ab0000 329px,#ac0000 395px,#d30000 414px,#d90000 421px,#f60 422px,#ffb500 455px,#ff0 474px,#cf3 481px,#beff41 482px,#53ffac 486px,#28ffd7 488px,#0dfff2 490px,#0ff 493px,#00f1ff 560px,#00d1ff 563px,#007dff 568px,#0064ff 571px)"></div><div style="left:114.0px;width:2.6px;background:linear-gradient(#6fff90 0px,#70ff8f 7px,#b0ff4f 48px,#ff0 114px,#fb0 185px,#ff5700 245px,#ff1e00 254px,#f00 282px,#f50000 291px,#e40000 292px,#d00 301px,#ae0000 320px,#a20000 329px,#a30000 395px,#ca0000 414px,#d00000 421px,#ff5a00 422px,#ffad00 457px,#ffe700 473px,#fffa00 476px,#cdff32 483px,#38ffc7 489px,#19ffe6 491px,#0afff5 494px,#00faff 560px,#00daff 563px,#0086ff 568px,#006eff 571px)"></div><div style="left:116.0px;width:2.6px;background:linear-gradient(#70ff8f 0px,#71ff8e 10px,#b5ff4a 52px,#fffe00 116px,#ffb900 188px,#f50 248px,#ff1d00 257px,#f00 284px,#f80000 291px,#e30000 292px,#dc0000 301px,#ad0000 320px,#a10000 329px,#a20000 395px,#c90000 414px,#cf0000 421px,#ff5600 422px,#ffab00 458px,#ffe800 475px,#fffd00 478px,#d3ff2c 484px,#c4ff3b 485px,#57ffa8 489px,#2dffd2 491px,#14ffeb 493px,#0cfff3 495px,#00fbff 560px,#00dbff 563px,#0087ff 568px,#006eff 571px)"></div><div style="left:118.0px;width:2.6px;background:linear-gradient(#61ff9e 0px,#62ff9d 9px,#a7ff58 51px,#ff0 125px,#ffc700 187px,#ff6300 247px,#ff2d00 256px,#ff0700 291px,#f30000 292px,#eb0000 301px,#b00 321px,#b10000 330px,#b10000 395px,#d80000 414px,#df0000 421px,#ff6200 422px,#ffba00 459px,#fffc00 477px,#d0ff2f 484px,#baff45 486px,#38ffc7 491px,#14ffeb 493px,#01fffe 495px,#00f7ff 499px,#00ecff 560px,#0cf 563px,#0078ff 568px,#005fff 571px)"></div><div style="left:120.0px;width:2.6px;background:linear-gradient(#5cffa3 0px,#5dffa2 5px,#a3ff5c 47px,#ff0 126px,#fc0 183px,#ff6700 243px,#ff3200 252px,#ff0a00 291px,#f90000 292px,#f20000 301px,#c10000 321px,#b70000 330px,#b80000 395px,#df0000 414px,#e50000 421px,#ff6500 422px,#ffc200 461px,#fffc00 477px,#b9ff46 487px,#a7ff58 488px,#24ffdb 493px,#05fffa 495px,#00fbff 496px,#00f1ff 500px,#00e5ff 560px,#00c5ff 563px,#0071ff 568px,#0058ff 571px)"></div><div style="left:122.0px;width:2.6px;background:linear-gradient(#6cff93 0px,#afff50 40px,#ff0 108px,#ffc000 176px,#ff5a00 237px,#ff2500 246px,#fe0000 282px,#fc0000 291px,#ed0000 292px,#e50000 301px,#b70000 320px,#ab0000 329px,#ab0000 395px,#d20000 414px,#d90000 421px,#ff5600 422px,#ffb500 462px,#fff800 480px,#ff0 481px,#cbff34 488px,#bcff43 489px,#4fffb0 493px,#25ffda 495px,#0bfff4 497px,#02fffd 499px,#00f2ff 560px,#00d2ff 563px,#007eff 568px,#0065ff 571px)"></div><div style="left:124.0px;width:2.6px;background:linear-gradient(#79ff86 0px,#b6ff49 36px,#ff0 99px,#ffb900 172px,#ff5300 233px,#ff1f00 242px,#f00 271px,#f60000 291px,#e60000 292px,#df0000 301px,#b00000 320px,#a40000 329px,#a50000 395px,#c00 414px,#d20000 421px,#ff4c00 422px,#ffad00 463px,#ffea00 480px,#fffd00 483px,#c8ff37 490px,#32ffcd 496px,#15ffea 498px,#06fff9 501px,#00f8ff 560px,#00d8ff 563px,#0084ff 568px,#006bff 571px)"></div><div style="left:126.0px;width:2.6px;background:linear-gradient(#61ff9e 0px,#a3ff5c 39px,#ff0 118px,#fc0 175px,#ff6700 235px,#f30 244px,#ff0b00 282px,#ff0b00 291px,#fb0000 292px,#f30000 301px,#c30000 321px,#b80000 330px,#b90000 395px,#e00000 414px,#e60000 421px,#ff5d00 422px,#ffc300 465px,#fffd00 481px,#b9ff46 491px,#a9ff56 492px,#25ffda 497px,#04fffb 499px,#00faff 500px,#0ef 504px,#00e4ff 560px,#00c4ff 563px,#0070ff 568px,#0057ff 571px)"></div><div style="left:128.0px;width:2.6px;background:linear-gradient(#54ffab 0px,#9f6 41px,#fffe00 132px,#ffd600 177px,#ff7200 237px,#ff3d00 246px,#ff1500 291px,#ff0500 292px,#fe0000 300px,#c00 321px,#c20000 330px,#c30000 395px,#ea0000 414px,#f00000 421px,#ff6400 422px,#fc0 466px,#fffe00 480px,#f5ff0a 483px,#b4ff4b 492px,#a6ff59 493px,#23ffdc 498px,#00feff 500px,#00edff 502px,#00e5ff 505px,#00daff 560px,#00baff 563px,#06f 568px,#004dff 571px)"></div><div style="left:130.0px;width:2.6px;background:linear-gradient(#6cff93 0px,#b3ff4c 43px,#fffe00 109px,#ffbc00 179px,#ff5600 240px,#f20 249px,#fe0000 282px,#f90000 291px,#ea0000 292px,#e20000 301px,#b40000 320px,#a80000 329px,#a80000 395px,#cf0000 414px,#d50000 421px,#ff4600 422px,#ffb300 468px,#ffec00 484px,#ff0 487px,#c8ff37 494px,#b5ff4a 495px,#32ffcd 500px,#13ffec 502px,#02fffd 505px,#00f5ff 560px,#00d5ff 563px,#0081ff 568px,#0068ff 571px)"></div><div style="left:132.0px;width:2.6px;background:linear-gradient(#89ff76 0px,#8aff75 5px,#d1ff2e 47px,#ff0 91px,#ffd700 120px,#ff9e00 183px,#ff3a00 243px,#ff0900 251px,#f00 257px,#dc0000 291px,#cd0000 292px,#c50000 301px,#970000 320px,#8b0000 329px,#8b0000 395px,#b20000 414px,#b90000 421px,#ff2500 422px,#ff9400 469px,#ffd100 486px,#fffa00 492px,#f5ff0a 494px,#dfff20 496px,#74ff8b 500px,#48ffb7 502px,#2cffd3 504px,#21ffde 506px,#14ffeb 559px,#01fffe 562px,#009eff 568px,#0085ff 571px)"></div><div style="left:134.0px;width:2.6px;background:linear-gradient(#78ff87 0px,#bfff40 46px,#ff0 103px,#ffe800 119px,#ffb000 182px,#ff4a00 243px,#ff1700 251px,#f00 272px,#ed0000 291px,#de0000 292px,#d60000 301px,#a80000 320px,#9c0000 329px,#9c0000 395px,#c30000 414px,#ca0000 421px,#ff3200 422px,#ffa600 471px,#ffe300 488px,#fff900 491px,#d8ff27 497px,#c8ff37 498px,#5affa5 502px,#30ffcf 504px,#17ffe8 506px,#0efff1 508px,#02fffd 560px,#00e1ff 563px,#008dff 568px,#0074ff 571px)"></div><div style="left:136.0px;width:2.6px;background:linear-gradient(#47ffb8 0px,#47ffb8 4px,#8fff70 46px,#e5ff1a 119px,#ff0 148px,#ffe100 182px,#ff7b00 243px,#ff4600 252px,#ff1f00 291px,#ff0f00 292px,#fe0000 305px,#d60000 321px,#c00 330px,#cd0000 395px,#f40000 414px,#fa0000 421px,#ff5f00 422px,#ffd500 472px,#fffc00 483px,#e8ff17 490px,#aeff51 498px,#8dff72 500px,#20ffdf 504px,#00f9ff 506px,#00e3ff 508px,#00d9ff 511px,#00d0ff 560px,#00b0ff 563px,#005cff 568px,#0043ff 571px)"></div><div style="left:138.0px;width:2.6px;background:linear-gradient(#3cffc3 0px,#83ff7c 42px,#daff25 115px,#ff0 157px,#ffec00 178px,#ff8600 239px,#ff5200 248px,#ff2a00 291px,#ff1b00 292px,#fd0000 310px,#d80000 329px,#d70000 393px,#f00 414px,#ff0600 421px,#f60 422px,#ffe100 474px,#fffd00 482px,#e0ff1f 491px,#9fff60 500px,#91ff6e 501px,#0cfff3 506px,#00f8ff 507px,#00dcff 509px,#00cdff 513px,#00c5ff 560px,#00a5ff 563px,#0051ff 568px,#0038ff 571px)"></div><div style="left:140.0px;width:2.6px;background:linear-gradient(#5cffa3 0px,#94ff6b 33px,#ff0 129px,#ffdb00 169px,#f70 229px,#ff4200 238px,#ff1a00 276px,#ff1a00 291px,#ff0a00 292px,#fe0000 303px,#d10000 321px,#c70000 330px,#c80000 395px,#ef0000 414px,#f50000 421px,#ff5200 422px,#ffd200 476px,#fffd00 488px,#efff10 493px,#af5 502px,#9f6 503px,#2bffd4 507px,#02fffd 509px,#00e9ff 511px,#0df 515px,#00d5ff 560px,#00b5ff 563px,#0061ff 568px,#0048ff 571px)"></div><div style="left:142.0px;width:2.6px;background:linear-gradient(#5dffa2 0px,#92ff6d 31px,#ff0 130px,#ffdf00 166px,#ff7900 227px,#ff4500 236px,#ff1d00 274px,#ff1c00 291px,#ff0d00 292px,#fe0000 304px,#d40000 321px,#ca0000 330px,#ca0000 395px,#f20000 414px,#f80000 421px,#ff5100 422px,#ffd300 477px,#fffd00 489px,#e9ff16 495px,#afff50 503px,#8cff73 505px,#1fffe0 509px,#00f8ff 511px,#00e4ff 513px,#00dbff 516px,#00d3ff 560px,#00b2ff 563px,#005fff 568px,#0046ff 571px)"></div><div style="left:144.0px;width:2.6px;background:linear-gradient(#5bffa4 0px,#96ff69 35px,#fffe00 129px,#ffd900 171px,#ff7400 231px,#ff4000 240px,#ff1800 278px,#ff1800 291px,#ff0800 292px,#fe0000 302px,#cf0000 321px,#c50000 330px,#c60000 395px,#ed0000 414px,#f30000 421px,#ff4900 422px,#ffcf00 479px,#fffe00 492px,#f2ff0d 496px,#b0ff4f 505px,#a1ff5e 506px,#1cffe3 511px,#00f8ff 513px,#00e7ff 515px,#00dfff 518px,#00d7ff 560px,#00b7ff 563px,#0063ff 568px,#004aff 571px)"></div><div style="left:146.0px;width:2.6px;background:linear-gradient(#6cff93 0px,#acff53 38px,#ff0 108px,#ffc300 174px,#ff5e00 234px,#ff2a00 243px,#ff0200 281px,#ff0100 291px,#f10000 292px,#ea0000 301px,#b90000 321px,#af0000 330px,#af0000 395px,#d70000 414px,#d00 421px,#ff2f00 422px,#ffba00 481px,#ff0 499px,#c1ff3e 507px,#aeff51 508px,#2affd5 513px,#01fffe 516px,#00f4ff 520px,#00edff 560px,#00cdff 563px,#007aff 568px,#0061ff 571px)"></div><div style="left:148.0px;width:2.6px;background:linear-gradient(#76ff89 0px,#bf4 41px,#ff0 101px,#ffb400 177px,#ff4e00 238px,#ff1a00 247px,#f00 271px,#f10000 291px,#e20000 292px,#da0000 301px,#ac0000 320px,#a00000 329px,#a00000 395px,#c70000 414px,#cd0000 421px,#ff1b00 422px,#ffa900 482px,#ffe600 499px,#fffa00 502px,#e1ff1e 507px,#cbff34 509px,#5fffa0 513px,#32ffcd 515px,#15ffea 517px,#09fff6 519px,#00fdff 560px,#0df 563px,#0089ff 568px,#0070ff 571px)"></div><div style="left:150.0px;width:2.6px;background:linear-gradient(#6fff90 0px,#70ff8f 5px,#b7ff48 47px,#ff0 110px,#ffb900 183px,#ff5200 244px,#ff2000 252px,#f00 282px,#f60000 291px,#e70000 292px,#df0000 301px,#b10000 320px,#a50000 329px,#a50000 395px,#c00 414px,#d20000 421px,#ff1d00 422px,#ffaf00 484px,#ffec00 501px,#fffa00 503px,#cfff30 510px,#c0ff3f 511px,#50ffaf 515px,#26ffd9 517px,#0cfff3 519px,#03fffc 521px,#00f8ff 560px,#00d8ff 563px,#0084ff 568px,#006bff 571px)"></div><div style="left:152.0px;width:2.6px;background:linear-gradient(#5fffa0 0px,#60ff9f 6px,#a7ff58 48px,#ff0 123px,#ffc800 184px,#ff6400 244px,#ff3000 253px,#ff0800 291px,#f70000 292px,#ef0000 301px,#bf0000 321px,#b50000 330px,#b50000 395px,#dc0000 414px,#e20000 421px,#ff2900 422px,#ffbd00 485px,#ff0 503px,#baff45 512px,#37ffc8 517px,#02fffd 520px,#0ef 524px,#00e8ff 560px,#00c8ff 563px,#0074ff 568px,#005bff 571px)"></div><div style="left:154.0px;width:2.6px;background:linear-gradient(#59ffa6 0px,#a0ff5f 44px,#fffe00 127px,#ffcf00 180px,#ff6900 241px,#ff3600 249px,#ff0d00 291px,#fd0000 292px,#f50000 301px,#c50000 321px,#b00 330px,#b00 395px,#e20000 414px,#e80000 421px,#ff2c00 422px,#ffc400 487px,#fffd00 503px,#bcff43 513px,#adff52 514px,#28ffd7 519px,#03fffc 521px,#00e7ff 526px,#00e2ff 560px,#00c2ff 563px,#006eff 568px,#05f 571px)"></div><div style="left:156.0px;width:2.6px;background:linear-gradient(#65ff9a 0px,#adff52 45px,#ff0 115px,#ffc200 181px,#ff5e00 241px,#ff2900 250px,#ff0100 291px,#f10000 292px,#e90000 301px,#b90000 321px,#ae0000 330px,#af0000 395px,#d60000 414px,#dc0000 421px,#ff1e00 422px,#ffb900 489px,#fffe00 507px,#c3ff3c 515px,#b1ff4e 516px,#2bffd4 521px,#0ff 524px,#00f3ff 528px,#0ef 560px,#00ceff 563px,#007aff 568px,#0061ff 571px)"></div><div style="left:158.0px;width:2.6px;background:linear-gradient(#6fff90 0px,#b7ff48 46px,#ff0 109px,#ffb800 182px,#ff5400 242px,#ff1f00 251px,#fe0000 281px,#f60000 291px,#e60000 292px,#df0000 301px,#b00000 320px,#a40000 329px,#a50000 395px,#c00 414px,#d20000 421px,#ff1200 422px,#ffad00 490px,#ffea00 507px,#fffe00 510px,#c7ff38 517px,#2dffd2 523px,#0ffff0 525px,#04fffb 527px,#00f8ff 560px,#00d8ff 563px,#0084ff 568px,#006bff 571px)"></div><div style="left:160.0px;width:2.6px;background:linear-gradient(#63ff9c 0px,#abff54 44px,#fffe00 116px,#ffc500 180px,#ff5e00 241px,#ff2c00 249px,#ff0300 291px,#f30000 292px,#eb0000 301px,#b00 321px,#b00000 330px,#b10000 395px,#d80000 414px,#de0000 421px,#ff1d00 422px,#ff2100 427px,#ffba00 492px,#ff0 510px,#c3ff3c 518px,#b4ff4b 519px,#2dffd2 524px,#00feff 527px,#00f1ff 531px,#00ecff 560px,#0cf 563px,#0078ff 568px,#005fff 571px)"></div><div style="left:162.0px;width:2.6px;background:linear-gradient(#5dffa2 0px,#a4ff5b 42px,#ff0 120px,#ffcb00 178px,#f60 239px,#ff3100 248px,#ff0900 291px,#f90000 292px,#f10000 301px,#c10000 321px,#b70000 330px,#b70000 395px,#de0000 414px,#e50000 421px,#f20 422px,#ff2900 429px,#ffbf00 493px,#fffc00 510px,#b7ff48 520px,#34ffcb 525px,#00fdff 528px,#00eaff 532px,#00e6ff 560px,#00c6ff 563px,#0072ff 568px,#0059ff 571px)"></div><div style="left:164.0px;width:2.6px;background:linear-gradient(#63ff9c 0px,#af5 43px,#ff0 115px,#ffc500 179px,#ff5f00 240px,#ff2c00 248px,#ff0300 291px,#f30000 292px,#eb0000 301px,#b00 321px,#b10000 330px,#b10000 395px,#d90000 414px,#df0000 421px,#ff1b00 422px,#ff2400 431px,#ffba00 495px,#fffe00 513px,#ceff31 520px,#b7ff48 522px,#30ffcf 527px,#0ff 530px,#00f0ff 534px,#00ecff 560px,#00cbff 563px,#0078ff 568px,#005fff 571px)"></div><div style="left:166.0px;width:2.6px;background:linear-gradient(#60ff9f 0px,#a7ff58 44px,#fffe00 119px,#ffc600 181px,#ff6200 241px,#ff2e00 250px,#ff0600 291px,#f50000 292px,#e00 301px,#bd0000 321px,#b30000 330px,#b40000 395px,#db0000 414px,#e10000 421px,#ff1b00 422px,#ff2500 432px,#fb0 496px,#fffc00 514px,#beff41 523px,#acff53 524px,#3cffc3 528px,#04fffb 531px,#00edff 536px,#00e9ff 560px,#00c9ff 563px,#0075ff 568px,#005cff 571px)"></div><div style="left:168.0px;width:2.6px;background:linear-gradient(#57ffa8 0px,#9fff60 46px,#ff0 130px,#ffd000 182px,#ff6c00 242px,#ff3700 251px,#ff0f00 291px,#f00 292px,#f70000 301px,#c70000 321px,#bc0000 330px,#bd0000 395px,#e40000 414px,#ea0000 421px,#ff2300 422px,#ff2f00 434px,#ffc600 498px,#ff0 514px,#c4ff3b 523px,#aeff51 525px,#29ffd6 530px,#02fffd 532px,#00edff 534px,#00e3ff 537px,#00e0ff 560px,#00c0ff 563px,#006cff 568px,#0053ff 571px)"></div><div style="left:170.0px;width:2.6px;background:linear-gradient(#52ffad 0px,#9aff65 45px,#fffe00 135px,#ffd500 181px,#ff7000 241px,#ff3c00 250px,#ff1400 291px,#ff0500 292px,#fe0000 300px,#c00 321px,#c10000 330px,#c20000 395px,#e90000 414px,#ef0000 421px,#ff2700 422px,#f30 435px,#ff8400 470px,#fc0 500px,#fffe00 514px,#f5ff0a 517px,#b2ff4d 526px,#a3ff5c 527px,#1bffe4 532px,#07fff8 533px,#00f7ff 534px,#00e6ff 536px,#00deff 539px,#00dbff 560px,#0bf 563px,#0067ff 568px,#004eff 571px)"></div><div style="left:172.0px;width:2.6px;background:linear-gradient(#5fffa0 0px,#9fff60 38px,#fffe00 122px,#ffcf00 174px,#ff6b00 234px,#ff3700 243px,#ff0f00 281px,#ff0f00 291px,#fe0000 292px,#f70000 301px,#c60000 321px,#bc0000 330px,#bd0000 395px,#e40000 414px,#ea0000 421px,#ff2000 422px,#ff2e00 437px,#ffc500 501px,#fffe00 517px,#f8ff07 519px,#b2ff4d 528px,#2dffd2 533px,#05fffa 535px,#00f7ff 536px,#00e3ff 540px,#00e0ff 560px,#00c0ff 563px,#006cff 568px,#0053ff 571px)"></div><div style="left:174.0px;width:2.6px;background:linear-gradient(#7f8 0px,#b6ff49 37px,#fffe00 101px,#ffb900 173px,#f50 233px,#ff2000 242px,#fe0000 273px,#f70000 291px,#e80000 292px,#e00000 301px,#b20000 320px,#a60000 329px,#a60000 395px,#cd0000 414px,#d30000 421px,#ff0800 422px,#ff1800 439px,#ffaf00 503px,#fffa00 522px,#daff25 528px,#c2ff3d 530px,#3bffc4 535px,#16ffe9 537px,#04fffb 539px,#00f7ff 560px,#00d7ff 563px,#0083ff 568px,#006aff 571px)"></div><div style="left:176.0px;width:2.6px;background:linear-gradient(#87ff78 0px,#cfff30 43px,#ff0 88px,#ffd800 116px,#ffa000 179px,#ff3c00 239px,#ff0700 248px,#f00 254px,#de0000 291px,#ce0000 292px,#c70000 301px,#8d0000 327px,#8c0000 393px,#ba0000 421px,#ec0000 422px,#f00 441px,#ff9700 505px,#ffd500 522px,#fff900 527px,#e5ff1a 531px,#d2ff2d 532px,#4bffb4 537px,#20ffdf 540px,#14ffeb 544px,#13ffec 559px,#00feff 562px,#009cff 568px,#0083ff 571px)"></div><div style="left:178.0px;width:2.6px;background:linear-gradient(#7bff84 0px,#c3ff3c 43px,#fffe00 98px,#ffe500 116px,#ffac00 179px,#ff4600 240px,#ff1400 248px,#fe0000 266px,#ea0000 291px,#da0000 292px,#d30000 301px,#900 327px,#980000 393px,#c60000 421px,#f70000 422px,#ff0900 441px,#ffa100 506px,#ffde00 523px,#fff900 527px,#e8ff17 531px,#d2ff2d 533px,#4bffb4 538px,#25ffda 540px,#1fe 542px,#08fff7 545px,#07fff8 559px,#00fdff 561px,#0090ff 568px,#07f 571px)"></div><div style="left:180.0px;width:2.6px;background:linear-gradient(#69ff96 0px,#b0ff4f 42px,#fffe00 110px,#ffbf00 178px,#ff5900 239px,#ff2600 247px,#fe0000 284px,#fc0000 291px,#ed0000 292px,#e50000 301px,#b70000 320px,#ab0000 329px,#ab0000 395px,#d20000 414px,#d90000 421px,#ff0900 422px,#ff1c00 443px,#ffb500 508px,#fffa00 526px,#c7ff38 534px,#b7ff48 535px,#2fffd0 540px,#02fffd 543px,#00f4ff 547px,#00f2ff 560px,#00d2ff 563px,#007eff 568px,#0065ff 571px)"></div><div style="left:182.0px;width:2.6px;background:linear-gradient(#67ff98 0px,#aeff51 42px,#ff0 111px,#ffc100 178px,#ff5b00 239px,#ff2800 247px,#fe0000 286px,#fe0000 291px,#ef0000 292px,#e70000 301px,#b90000 320px,#ad0000 329px,#ad0000 395px,#d40000 414px,#da0000 421px,#ff0a00 422px,#ff1f00 445px,#ffb600 509px,#ff0 528px,#bfff40 536px,#39ffc6 541px,#05fffa 544px,#00f2ff 548px,#00f0ff 560px,#00d0ff 563px,#007cff 568px,#0063ff 571px)"></div><div style="left:184.0px;width:2.6px;background:linear-gradient(#6cff93 0px,#afff50 40px,#ff0 108px,#ffc000 176px,#ff5c00 236px,#ff2700 245px,#fe0000 283px,#fe0000 291px,#e00 292px,#e70000 301px,#b80000 320px,#ac0000 329px,#ad0000 395px,#d40000 414px,#da0000 421px,#ff0800 422px,#ff1d00 446px,#ffb600 511px,#fffa00 529px,#c8ff37 537px,#b8ff47 538px,#30ffcf 543px,#01fffe 546px,#00f2ff 550px,#00f0ff 560px,#00d0ff 563px,#007cff 568px,#0063ff 571px)"></div><div style="left:186.0px;width:2.6px;background:linear-gradient(#75ff8a 0px,#b3ff4c 37px,#fffe00 103px,#ffbc00 173px,#ff5600 234px,#ff2300 242px,#fe0000 276px,#f90000 291px,#ea0000 292px,#e20000 301px,#a90000 327px,#a80000 393px,#d60000 421px,#ff0200 422px,#ff1800 447px,#ffb100 512px,#fff900 531px,#c6ff39 539px,#2bffd4 545px,#02fffd 548px,#00f5ff 560px,#00d4ff 563px,#0081ff 568px,#0068ff 571px)"></div><div style="left:188.0px;width:2.6px;background:linear-gradient(#6fff90 0px,#b3ff4c 40px,#ff0 106px,#ffbc00 176px,#ff5800 236px,#ff2400 245px,#f00 279px,#fa0000 291px,#eb0000 292px,#e30000 301px,#a00 327px,#a90000 393px,#d60000 421px,#ff0200 422px,#ff1a00 449px,#ffb200 514px,#fffd00 533px,#d6ff29 539px,#beff41 541px,#35ffca 546px,#05fffa 549px,#00edff 561px,#0080ff 568px,#0067ff 571px)"></div><div style="left:190.0px;width:2.6px;background:linear-gradient(#60ff9f 0px,#a7ff58 44px,#fffe00 119px,#ffc800 180px,#ff6200 241px,#ff2e00 250px,#ff0600 291px,#f60000 292px,#e00 301px,#be0000 321px,#b30000 330px,#b40000 395px,#db0000 414px,#e10000 421px,#ff0b00 422px,#ff2400 451px,#ffbd00 516px,#fffb00 533px,#c0ff3f 542px,#b1ff4e 543px,#28ffd7 548px,#04fffb 550px,#00ecff 554px,#00e2ff 561px,#0075ff 568px,#005cff 571px)"></div><div style="left:192.0px;width:2.6px;background:linear-gradient(#57ffa8 0px,#9fff60 44px,#ff0 128px,#ffd000 180px,#ff6c00 240px,#ff3700 249px,#ff0f00 291px,#f00 292px,#f70000 301px,#c70000 321px,#bd0000 330px,#bd0000 395px,#e40000 414px,#eb0000 421px,#ff1200 422px,#ff2f00 454px,#ffc600 518px,#fffc00 533px,#f5ff0a 536px,#baff45 544px,#acff53 545px,#24ffdb 550px,#00feff 552px,#00e6ff 555px,#00d9ff 561px,#006cff 568px,#0053ff 571px)"></div><div style="left:194.0px;width:2.6px;background:linear-gradient(#00a5ff 0px,#01fffe 47px,#b8ff47 106px,#feff01 136px,#fff900 142px,#ffa200 232px,#ff8300 291px,#ff5b00 292px,#ff5b00 421px,#ffe900 422px,#ffd500 475px,#ff9800 515px,#ff8300 540px,#ff0 548px,#d5ff2a 550px,#26ffd9 556px,#02fffd 558px,#009eff 564px,#005eff 571px)"></div><div style="left:196.0px;width:2.6px;background:linear-gradient(#0093ff 0px,#00e0ff 42px,#00feff 52px,#a7ff58 106px,#efff10 137px,#ff0 152px,#ffef00 167px,#ffb300 232px,#ff9400 291px,#ff6e00 292px,#ff6e00 421px,#fffa00 422px,#ffe600 475px,#ffa900 515px,#ff9400 540px,#fff000 546px,#feff01 547px,#deff21 549px,#15ffea 556px,#02fffd 557px,#008dff 564px,#004dff 571px)"></div><div style="left:198.0px;width:2.6px;background:linear-gradient(#007aff 0px,#02fffd 55px,#a1ff5e 106px,#e9ff16 137px,#ff0 158px,#fff500 167px,#ffb900 232px,#ff9b00 291px,#ff7800 292px,#ff7800 421px,#feff01 422px,#ffec00 475px,#ffaf00 515px,#ff9b00 540px,#fff600 546px,#d8ff27 549px,#0ffff0 556px,#00fbff 557px,#0087ff 564px,#0047ff 571px)"></div><div style="left:200.0px;width:2.6px;background:linear-gradient(#0061ff 0px,#007cff 11px,#00d6ff 34px,#02fffd 50px,#b1ff4e 106px,#f8ff07 137px,#ffe600 167px,#fa0 232px,#ff8b00 291px,#ff6e00 292px,#ff6e00 421px,#fff100 422px,#fd0 475px,#ffa000 515px,#ff8b00 540px,#fff700 547px,#e7ff18 549px,#1effe1 556px,#00f9ff 558px,#0096ff 564px,#0056ff 571px)"></div><div style="left:202.0px;width:2.6px;background:linear-gradient(#0039ff 0px,#0059ff 11px,#00dcff 34px,#0ff 46px,#baff45 106px,#fdff02 135px,#fff600 142px,#ffa000 232px,#ff8100 291px,#ff6b00 292px,#ff6b00 421px,#ffe700 422px,#ffd300 475px,#ff9600 515px,#ff8100 540px,#fffd00 548px,#f1ff0e 549px,#d7ff28 550px,#28ffd7 556px,#04fffb 558px,#00a0ff 564px,#0060ff 571px)"></div><div style="left:204.0px;width:2.6px;background:linear-gradient(#001fff 0px,#002cff 6px,#0045ff 11px,#00d6ff 30px,#01fffe 38px,#d3ff2c 107px,#ff0 126px,#ffe000 142px,#ff8a00 232px,#ff6b00 291px,#ff5d00 292px,#ff5d00 421px,#ffd100 422px,#ffbd00 475px,#ff8000 515px,#ff6b00 540px,#fff700 549px,#edff12 550px,#3effc1 556px,#0afff5 559px,#00f8ff 560px,#00b6ff 564px,#0076ff 571px)"></div><div style="left:206.0px;width:2.6px;background:linear-gradient(#0009ff 0px,#0017ff 6px,#03f 11px,#00d4ff 29px,#0ff 35px,#e0ff1f 107px,#fffe00 121px,#ffd300 142px,#ff7d00 232px,#ff5800 292px,#ff5800 421px,#ffc400 422px,#ffb000 475px,#ff7300 515px,#ff5e00 540px,#ffea00 549px,#faff05 550px,#4bffb4 556px,#06fff9 560px,#00c3ff 564px,#0083ff 571px)"></div><div style="left:208.0px;width:2.6px;background:linear-gradient(#0000da 0px,#0000e4 5px,#0000fe 10px,#00ceff 33px,#00eaff 38px,#0ff 46px,#bf4 106px,#fffe00 136px,#ffa000 232px,#ff8100 291px,#ff8300 421px,#ffe700 422px,#ffd300 475px,#ff9600 515px,#ff8100 540px,#fffd00 548px,#f1ff0e 549px,#d7ff28 550px,#28ffd7 556px,#04fffb 558px,#00a0ff 564px,#0060ff 571px)"></div><div style="left:210.0px;width:2.6px;background:linear-gradient(#0000c3 0px,#0000d6 7px,#0000fe 13px,#008fff 28px,#00beff 34px,#00d6ff 39px,#01fffe 54px,#a4ff5b 106px,#ebff14 137px,#fffe00 156px,#ffb600 232px,#ff9800 291px,#ffa300 292px,#ffa300 421px,#fffd00 422px,#ffe900 475px,#ffac00 515px,#ff9800 540px,#fff400 546px,#faff05 547px,#dbff24 549px,#1fe 556px,#00fdff 557px,#0089ff 564px,#0049ff 571px)"></div><div style="left:212.0px;width:2.6px;background:linear-gradient(#0000dc 0px,#0000e6 5px,#0001ff 10px,#00d0ff 33px,#00ecff 38px,#00feff 45px,#bdff42 106px,#ff0 135px,#ffc700 185px,#ff9e00 232px,#ff7f00 291px,#ff9200 292px,#ff9200 421px,#ffe500 422px,#ffd100 475px,#ff9400 515px,#ff7f00 540px,#fffb00 548px,#f3ff0c 549px,#d9ff26 550px,#2affd5 556px,#06fff9 558px,#00a2ff 564px,#0062ff 571px)"></div><div style="left:214.0px;width:2.6px;background:linear-gradient(#0000ec 0px,#0000fe 7px,#01f 10px,#00d1ff 31px,#0ff 39px,#cf3 106px,#ff0 128px,#ffe900 138px,#ffb600 186px,#ff8e00 232px,#ff6f00 291px,#ff8900 292px,#ff8900 421px,#ffd500 422px,#ffc100 475px,#ff8400 515px,#ff6f00 540px,#fffb00 549px,#3affc5 556px,#06fff9 559px,#00b2ff 564px,#0072ff 571px)"></div><div style="left:216.0px;width:2.6px;background:linear-gradient(#0000e5 0px,#0004ff 9px,#0032ff 15px,#00cbff 31px,#00ecff 36px,#00fbff 40px,#02fffd 43px,#c6ff39 106px,#fffe00 131px,#ffef00 138px,#ffbd00 185px,#ff9400 232px,#ff7600 291px,#ff9600 292px,#ff9600 421px,#ffdb00 422px,#ffc700 475px,#ff8a00 515px,#ff7600 540px,#fff100 548px,#fdff02 549px,#3fc 556px,#00feff 559px,#00abff 564px,#006bff 571px)"></div><div style="left:218.0px;width:2.6px;background:linear-gradient(#0000e6 0px,#0005ff 9px,#03f 15px,#0cf 31px,#00edff 36px,#00fcff 40px,#c7ff38 106px,#fffd00 131px,#fe0 138px,#ffbc00 185px,#ff9300 232px,#ff7500 291px,#ff9a00 292px,#ff9a00 421px,#ffda00 422px,#ffc600 475px,#ff8900 515px,#ff7500 540px,#fff000 548px,#feff01 549px,#34ffcb 556px,#0ff 559px,#00acff 564px,#006cff 571px)"></div><div style="left:220.0px;width:2.5px;background:linear-gradient(#0000f0 0px,#0000fe 6px,#0015ff 10px,#0046ff 16px,#00cdff 30px,#01fffe 38px,#d1ff2e 106px,#ff0 126px,#ffe400 138px,#ffb100 186px,#ff8a00 232px,#ff6b00 291px,#ff9300 292px,#ff9300 421px,#ffd000 422px,#ffbc00 475px,#ff7f00 515px,#ff6b00 540px,#fff600 549px,#edff12 550px,#3effc1 556px,#0afff5 559px,#00f8ff 560px,#00b6ff 564px,#0076ff 571px)"></div><div style="left:222.0px;width:0.5px;background:linear-gradient(#0000f5 0px,#0001ff 5px,#001bff 10px,#004cff 16px,#00d3ff 30px,#02fffd 37px,#d6ff29 106px,#fffe00 124px,#ffe000 137px,#ffad00 185px,#ff8400 232px,#f60 291px,#ff8e00 292px,#ff8e00 421px,#ffcb00 422px,#ffb700 475px,#ff7a00 515px,#f60 540px,#fff100 549px,#f2ff0d 550px,#4fb 556px,#00feff 560px,#0bf 564px,#007bff 571px)"></div></div><div class="hm" style="left:1207.5px;top:843.0px;width:222.6px;height:149.0px"><div style="left:0.0px;width:2.6px;background:linear-gradient(#00d3ff 0px,#00a0ff 9px,#0062ff 24px,#0030ff 53px,#04f 93px,#07f 132px,#0063ff 149px)"></div><div style="left:2.0px;width:2.6px;background:linear-gradient(#00d3ff 0px,#00a0ff 9px,#0062ff 24px,#0031ff 53px,#04f 93px,#07f 132px,#0063ff 149px)"></div><div style="left:4.0px;width:2.6px;background:linear-gradient(#00bfff 0px,#008bff 9px,#004eff 24px,#001cff 53px,#0030ff 93px,#0062ff 132px,#004eff 149px)"></div><div style="left:6.0px;width:2.6px;background:linear-gradient(#00abff 0px,#07f 9px,#003aff 24px,#0008ff 53px,#001cff 93px,#004eff 132px,#003bff 149px)"></div><div style="left:8.0px;width:2.6px;background:linear-gradient(#00b5ff 0px,#0081ff 9px,#04f 24px,#0012ff 53px,#0026ff 93px,#0058ff 132px,#04f 149px)"></div><div style="left:10.0px;width:2.6px;background:linear-gradient(#00c3ff 0px,#008fff 9px,#0052ff 24px,#0020ff 53px,#0034ff 93px,#06f 132px,#0052ff 149px)"></div><div style="left:12.0px;width:2.6px;background:linear-gradient(#e0ff1f 0px,#bdff42 3px,#4effb1 7px,#27ffd8 9px,#1fe 11px,#08fff7 14px,#00f9ff 137px,#00dbff 140px,#0079ff 146px,#006bff 149px)"></div><div style="left:14.0px;width:2.6px;background:linear-gradient(#faff05 0px,#df2 3px,#72ff8d 7px,#37ffc8 10px,#1fffe0 14px,#1fe 136px,#0ff 139px,#0090ff 146px,#0082ff 149px)"></div><div style="left:16.0px;width:2.6px;background:linear-gradient(#d9ff26 0px,#b2ff4d 4px,#2dffd2 9px,#0cfff3 11px,#00fdff 13px,#00e9ff 137px,#00cbff 140px,#0069ff 146px,#005bff 149px)"></div><div style="left:18.0px;width:2.6px;background:linear-gradient(#c1ff3e 0px,#a0ff5f 4px,#8eff71 5px,#20ffdf 9px,#00f8ff 11px,#00e2ff 13px,#00daff 16px,#0cf 137px,#00aeff 140px,#004cff 146px,#003eff 149px)"></div><div style="left:20.0px;width:2.6px;background:linear-gradient(#df2 0px,#b3ff4c 5px,#30ffcf 10px,#0ff 13px,#00f1ff 17px,#00e4ff 137px,#00c6ff 140px,#0064ff 146px,#0056ff 149px)"></div><div style="left:22.0px;width:2.6px;background:linear-gradient(#f1ff0e 0px,#d4ff2b 4px,#bdff42 6px,#4fffb0 10px,#17ffe8 13px,#02fffd 17px,#00f3ff 137px,#00d5ff 140px,#0073ff 146px,#0065ff 149px)"></div><div style="left:24.0px;width:2.6px;background:linear-gradient(#ecff13 0px,#bdff42 6px,#acff53 7px,#28ffd7 12px,#0ff 15px,#00f6ff 19px,#00e8ff 137px,#00cbff 140px,#0069ff 146px,#005bff 149px)"></div><div style="left:26.0px;width:2.6px;background:linear-gradient(#e8ff17 0px,#b0ff4f 7px,#2effd1 12px,#09fff6 14px,#00fcff 15px,#00edff 19px,#00e0ff 137px,#00c2ff 140px,#0060ff 146px,#0052ff 149px)"></div><div style="left:28.0px;width:2.6px;background:linear-gradient(#f6ff09 0px,#cbff34 6px,#b4ff4b 8px,#30ffcf 13px,#0efff1 15px,#00fdff 17px,#00f6ff 20px,#00e9ff 137px,#00cbff 140px,#0069ff 146px,#005bff 149px)"></div><div style="left:30.0px;width:2.6px;background:linear-gradient(#fdff02 0px,#c0ff3f 8px,#b0ff4f 9px,#2cffd3 14px,#0cfff3 16px,#00feff 18px,#00ebff 137px,#00cdff 140px,#006bff 146px,#005dff 149px)"></div><div style="left:32.0px;width:2.6px;background:linear-gradient(#f3ff0c 0px,#adff52 9px,#2bffd4 14px,#06fff9 16px,#00f8ff 17px,#00e9ff 21px,#00dcff 137px,#00beff 140px,#005cff 146px,#004eff 149px)"></div><div style="left:34.0px;width:2.6px;background:linear-gradient(#ecff13 0px,#b4ff4b 8px,#9dff62 10px,#1affe5 15px,#06fff9 16px,#00f6ff 17px,#00e5ff 19px,#00deff 22px,#00d1ff 137px,#00b3ff 140px,#0051ff 146px,#0043ff 149px)"></div><div style="left:36.0px;width:2.6px;background:linear-gradient(#e8ff17 0px,#adff52 9px,#98ff67 11px,#2dffd2 15px,#01fffe 17px,#00e4ff 19px,#00d6ff 23px,#00c9ff 137px,#00abff 140px,#0049ff 146px,#003bff 149px)"></div><div style="left:38.0px;width:2.6px;background:linear-gradient(#e8ff17 0px,#dcff23 3px,#96ff69 12px,#0ff 18px,#00e1ff 20px,#00d1ff 24px,#00c4ff 137px,#00a6ff 140px,#04f 146px,#0036ff 149px)"></div><div style="left:40.0px;width:2.6px;background:linear-gradient(#f3ff0c 0px,#e4ff1b 4px,#a0ff5f 13px,#8fff70 14px,#21ffde 18px,#00f8ff 20px,#00e2ff 22px,#00d8ff 26px,#00cbff 137px,#00adff 140px,#004bff 146px,#003dff 149px)"></div><div style="left:42.0px;width:2.6px;background:linear-gradient(#f6ff09 0px,#e4ff1b 5px,#a1ff5e 14px,#93ff6c 15px,#25ffda 19px,#00faff 21px,#00e1ff 23px,#00d6ff 27px,#00c9ff 137px,#00abff 140px,#004aff 146px,#003bff 149px)"></div><div style="left:44.0px;width:2.6px;background:linear-gradient(#f5ff0a 0px,#daff25 7px,#9fff60 15px,#91ff6e 16px,#26ffd9 20px,#00f9ff 22px,#00deff 24px,#00d2ff 28px,#00c4ff 137px,#00a7ff 140px,#0045ff 146px,#0037ff 149px)"></div><div style="left:46.0px;width:2.6px;background:linear-gradient(#ffed00 0px,#f8ff07 7px,#b9ff46 16px,#97ff68 18px,#42ffbd 21px,#16ffe9 23px,#00f8ff 25px,#00e9ff 29px,#00dcff 137px,#00beff 140px,#005cff 146px,#004eff 149px)"></div><div style="left:48.0px;width:2.6px;background:linear-gradient(#ffd700 0px,#ff0 10px,#cf3 17px,#aeff51 19px,#5affa5 22px,#2bffd4 24px,#0dfff2 26px,#0ff 28px,#00edff 137px,#00cfff 140px,#006dff 146px,#005fff 149px)"></div><div style="left:50.0px;width:2.6px;background:linear-gradient(#ffe600 0px,#ff0 7px,#f4ff0b 10px,#baff45 18px,#a1ff5e 20px,#3fc 24px,#0afff5 26px,#00fbff 27px,#00e7ff 32px,#00daff 137px,#00bcff 140px,#005aff 146px,#004cff 149px)"></div><div style="left:52.0px;width:2.6px;background:linear-gradient(#fff400 0px,#ff0 3px,#e2ff1d 11px,#a1ff5e 20px,#92ff6d 21px,#26ffd9 25px,#00faff 27px,#00e0ff 29px,#00d5ff 33px,#00c7ff 137px,#0af 140px,#0048ff 146px,#003aff 149px)"></div><div style="left:54.0px;width:2.6px;background:linear-gradient(#ffe200 0px,#feff01 8px,#f0ff0f 12px,#b0ff4f 21px,#8cff73 23px,#20ffdf 27px,#00fbff 29px,#00e9ff 31px,#00e2ff 34px,#00d4ff 137px,#00b7ff 140px,#05f 146px,#0047ff 149px)"></div><div style="left:56.0px;width:2.6px;background:linear-gradient(#ffcb00 0px,#ff0 14px,#c5ff3a 22px,#a5ff5a 24px,#51ffae 27px,#23ffdc 29px,#06fff9 31px,#00fdff 32px,#00f5ff 36px,#00e8ff 137px,#00caff 140px,#0068ff 146px,#005aff 149px)"></div><div style="left:58.0px;width:2.6px;background:linear-gradient(#ffc000 0px,#fffe00 16px,#cdff32 23px,#b2ff4d 25px,#2effd1 30px,#0efff1 32px,#01fffe 34px,#0ef 137px,#00d0ff 140px,#006eff 146px,#0060ff 149px)"></div><div style="left:60.0px;width:2.6px;background:linear-gradient(#ffbd00 0px,#fffe00 17px,#ceff31 24px,#b5ff4a 26px,#47ffb8 30px,#1effe1 32px,#01fffe 35px,#00edff 137px,#00cfff 140px,#006dff 146px,#005fff 149px)"></div><div style="left:62.0px;width:2.6px;background:linear-gradient(#ffc500 0px,#ff0 16px,#c3ff3c 25px,#adff52 27px,#29ffd6 32px,#06fff9 34px,#00faff 35px,#0ef 39px,#00e1ff 137px,#00c3ff 140px,#0061ff 146px,#0053ff 149px)"></div><div style="left:64.0px;width:2.6px;background:linear-gradient(#fc0 0px,#fdff02 15px,#edff12 19px,#bf4 26px,#a6ff59 28px,#23ffdc 33px,#00feff 35px,#00ecff 37px,#00e4ff 40px,#00d7ff 137px,#00b9ff 140px,#0057ff 146px,#0049ff 149px)"></div><div style="left:66.0px;width:2.6px;background:linear-gradient(#ffb300 0px,#fdff02 21px,#beff41 29px,#28ffd7 35px,#0bfff4 37px,#0ff 39px,#00edff 137px,#00cfff 140px,#006dff 146px,#005fff 149px)"></div><div style="left:68.0px;width:2.6px;background:linear-gradient(#f90 0px,#ffe000 21px,#faff05 26px,#e4ff1b 29px,#c8ff37 31px,#5affa5 35px,#32ffcd 37px,#1cffe3 39px,#13ffec 42px,#07fff8 136px,#0ff 138px,#00e7ff 140px,#0085ff 146px,#07f 149px)"></div><div style="left:70.0px;width:2.6px;background:linear-gradient(#ffa800 0px,#ffb700 6px,#ff0 24px,#caff35 31px,#bf4 32px,#4cffb3 36px,#23ffdc 38px,#0bfff4 40px,#01fffe 43px,#00f3ff 137px,#00d5ff 140px,#0073ff 146px,#0065ff 149px)"></div><div style="left:72.0px;width:2.6px;background:linear-gradient(#ffad00 0px,#ffbe00 7px,#fffe00 24px,#cdff32 31px,#b6ff49 33px,#32ffcd 38px,#10ffef 40px,#0ff 42px,#00f8ff 45px,#00ebff 137px,#00cdff 140px,#006bff 146px,#005dff 149px)"></div><div style="left:74.0px;width:2.6px;background:linear-gradient(#ffa300 0px,#ffb700 8px,#f9ff06 27px,#c0ff3f 34px,#5fa 38px,#29ffd6 40px,#0efff1 42px,#01fffe 45px,#00f2ff 137px,#00d4ff 140px,#0072ff 146px,#0064ff 149px)"></div><div style="left:76.0px;width:2.6px;background:linear-gradient(#fa0 0px,#ffbf00 9px,#fffe00 26px,#b9ff46 35px,#23ffdc 41px,#00feff 44px,#00f6ff 47px,#00e8ff 137px,#00caff 140px,#0069ff 146px,#005aff 149px)"></div><div style="left:78.0px;width:2.6px;background:linear-gradient(#ffa900 0px,#ffc100 10px,#ff0 27px,#baff45 36px,#a9ff56 37px,#54ffab 40px,#25ffda 42px,#06fff9 44px,#00fdff 45px,#00f4ff 49px,#00e6ff 137px,#00c9ff 140px,#0067ff 146px,#0059ff 149px)"></div><div style="left:80.0px;width:2.6px;background:linear-gradient(#ffa000 0px,#ffbe00 12px,#ff0 29px,#c2ff3d 37px,#b3ff4c 38px,#2effd1 43px,#0efff1 45px,#0ff 47px,#00ecff 137px,#00ceff 140px,#006cff 146px,#005eff 149px)"></div><div style="left:82.0px;width:2.6px;background:linear-gradient(#f90 0px,#ffb900 13px,#feff01 31px,#c9ff36 38px,#bf4 39px,#4fffb0 43px,#24ffdb 45px,#0afff5 47px,#02fffd 49px,#00f0ff 137px,#00d2ff 140px,#0070ff 146px,#0062ff 149px)"></div><div style="left:84.0px;width:2.6px;background:linear-gradient(#ff9200 0px,#ffb400 14px,#fdff02 33px,#c5ff3a 40px,#2fffd0 46px,#12ffed 48px,#03fffc 51px,#00f4ff 137px,#00d6ff 140px,#0074ff 146px,#06f 149px)"></div><div style="left:86.0px;width:2.6px;background:linear-gradient(#ff9600 0px,#ffbd00 16px,#fffe00 33px,#c4ff3b 41px,#b5ff4a 42px,#31ffce 47px,#0ffff0 49px,#01fffe 51px,#00ecff 137px,#00cfff 140px,#006dff 146px,#005fff 149px)"></div><div style="left:88.0px;width:2.6px;background:linear-gradient(#ffa400 0px,#ffcd00 17px,#fffc00 30px,#f2ff0d 34px,#abff54 43px,#29ffd6 48px,#04fffb 50px,#00f7ff 51px,#00e9ff 55px,#00dbff 137px,#00bdff 140px,#005cff 146px,#004dff 149px)"></div><div style="left:90.0px;width:2.6px;background:linear-gradient(#ffa200 0px,#ffcd00 18px,#fffc00 31px,#f3ff0c 35px,#afff50 44px,#a0ff5f 45px,#1bffe4 50px,#00faff 52px,#00e7ff 57px,#00daff 137px,#00bcff 140px,#005aff 146px,#004cff 149px)"></div><div style="left:92.0px;width:2.6px;background:linear-gradient(#ff8c00 0px,#ffbc00 20px,#fbff04 38px,#baff45 46px,#4effb1 50px,#23ffdc 52px,#08fff7 54px,#00fdff 56px,#00ecff 137px,#00cfff 140px,#006dff 146px,#005fff 149px)"></div><div style="left:94.0px;width:2.6px;background:linear-gradient(#ff8700 0px,#ffba00 21px,#ff0 39px,#c1ff3e 47px,#afff50 48px,#5affa5 51px,#2cffd3 53px,#0dfff2 55px,#01fffe 57px,#0ef 137px,#00d0ff 140px,#006eff 146px,#0060ff 149px)"></div><div style="left:96.0px;width:2.6px;background:linear-gradient(#ff8100 0px,#ffb900 23px,#fdff02 41px,#c9ff36 48px,#bf4 49px,#4effb1 53px,#24ffdb 55px,#0afff5 57px,#01fffe 59px,#00f0ff 137px,#00d2ff 140px,#0070ff 146px,#0062ff 149px)"></div><div style="left:98.0px;width:2.6px;background:linear-gradient(#ff6a00 0px,#ffa400 24px,#ffde00 40px,#ff0 45px,#d5ff2a 50px,#3fffc0 56px,#2fd 58px,#14ffeb 61px,#00feff 138px,#00e6ff 140px,#0084ff 146px,#0076ff 149px)"></div><div style="left:100.0px;width:2.6px;background:linear-gradient(#ff7100 0px,#ffae00 25px,#ffeb00 42px,#feff01 45px,#daff25 50px,#c1ff3e 52px,#3dffc2 57px,#1fe 60px,#06fff9 64px,#0ff 97px,#00f9ff 137px,#00dbff 140px,#0079ff 146px,#006bff 149px)"></div><div style="left:102.0px;width:2.6px;background:linear-gradient(#ff8600 0px,#ffc700 27px,#fdff02 43px,#b0ff4f 53px,#2effd1 58px,#00fcff 61px,#0ef 65px,#00e1ff 137px,#00c3ff 140px,#0061ff 146px,#0053ff 149px)"></div><div style="left:104.0px;width:2.6px;background:linear-gradient(#ff7c00 0px,#ffbf00 28px,#fffd00 45px,#bdff42 54px,#adff52 55px,#29ffd6 60px,#00feff 63px,#00f4ff 67px,#00e8ff 137px,#00caff 140px,#0068ff 146px,#005aff 149px)"></div><div style="left:106.0px;width:2.6px;background:linear-gradient(#ff6f00 0px,#ffb800 30px,#ff0 48px,#beff41 56px,#52ffad 60px,#26ffd9 62px,#0bfff4 64px,#02fffd 66px,#00f1ff 137px,#00d3ff 140px,#0071ff 146px,#0063ff 149px)"></div><div style="left:108.0px;width:2.6px;background:linear-gradient(#ff6d00 0px,#ffb700 31px,#fffd00 49px,#c2ff3d 57px,#2cffd3 63px,#0efff1 65px,#02fffd 67px,#00f0ff 137px,#00d2ff 140px,#0070ff 146px,#0062ff 149px)"></div><div style="left:110.0px;width:2.6px;background:linear-gradient(#ff6800 0px,#ffb500 32px,#feff01 51px,#c8ff37 58px,#b9ff46 59px,#4bffb4 63px,#2fd 65px,#09fff6 67px,#01fffe 69px,#00f2ff 137px,#00d4ff 140px,#0072ff 146px,#0064ff 149px)"></div><div style="left:112.0px;width:2.6px;background:linear-gradient(#ff6400 0px,#ffb600 34px,#fffd00 52px,#c0ff3f 60px,#54ffab 64px,#28ffd7 66px,#0dfff2 68px,#0ff 71px,#00f2ff 137px,#00d4ff 140px,#0072ff 146px,#0064ff 149px)"></div><div style="left:114.0px;width:2.6px;background:linear-gradient(#ff5800 0px,#ffac00 35px,#ffe600 51px,#feff01 55px,#ceff31 61px,#bf4 62px,#6f9 65px,#38ffc7 67px,#19ffe6 69px,#0afff5 72px,#00fbff 137px,#0df 140px,#007bff 146px,#006dff 149px)"></div><div style="left:116.0px;width:2.6px;background:linear-gradient(#ff5400 0px,#fa0 36px,#ffe800 53px,#faff05 57px,#df2 61px,#c5ff3a 63px,#57ffa8 67px,#2dffd2 69px,#14ffeb 71px,#0cfff3 73px,#00fcff 137px,#00deff 140px,#007cff 146px,#006eff 149px)"></div><div style="left:118.0px;width:2.6px;background:linear-gradient(#ff6000 0px,#ffbc00 38px,#fffb00 55px,#d0ff2f 62px,#bf4 64px,#38ffc7 69px,#13ffec 71px,#01fffe 73px,#00f7ff 76px,#00ecff 137px,#00cfff 140px,#006dff 146px,#005fff 149px)"></div><div style="left:120.0px;width:2.6px;background:linear-gradient(#ff6400 0px,#ffc100 39px,#ff0 56px,#baff45 65px,#a8ff57 66px,#39ffc6 70px,#04fffb 73px,#00f1ff 78px,#00e6ff 137px,#00c8ff 140px,#06f 146px,#0058ff 149px)"></div><div style="left:122.0px;width:2.6px;background:linear-gradient(#ff5400 0px,#ffb400 40px,#ff0 59px,#f8ff07 60px,#cbff34 66px,#bcff43 67px,#4effb1 71px,#24ffdb 73px,#0afff5 75px,#01fffe 77px,#00f3ff 137px,#00d5ff 140px,#0073ff 146px,#0065ff 149px)"></div><div style="left:124.0px;width:2.6px;background:linear-gradient(#ff4a00 0px,#ffaf00 42px,#faff05 62px,#c8ff37 68px,#30ffcf 74px,#14ffeb 76px,#06fff9 79px,#00f9ff 137px,#00dbff 140px,#0079ff 146px,#006bff 149px)"></div><div style="left:126.0px;width:2.6px;background:linear-gradient(#ff5b00 0px,#ffc200 43px,#feff01 60px,#b9ff46 69px,#a8ff57 70px,#39ffc6 74px,#03fffc 77px,#0ef 82px,#00e5ff 137px,#00c7ff 140px,#0065ff 146px,#0057ff 149px)"></div><div style="left:128.0px;width:2.6px;background:linear-gradient(#ff6200 0px,#ffcb00 44px,#fdff02 59px,#f0ff0f 62px,#b4ff4b 70px,#a6ff59 71px,#38ffc7 75px,#0dfff2 77px,#00fcff 78px,#00ecff 80px,#00e4ff 83px,#00dbff 137px,#00bdff 140px,#005bff 146px,#004dff 149px)"></div><div style="left:130.0px;width:2.6px;background:linear-gradient(#f40 0px,#ffb200 46px,#ffec00 62px,#ff0 65px,#c7ff38 72px,#30ffcf 78px,#1fe 80px,#02fffd 83px,#00f6ff 137px,#00d8ff 140px,#0076ff 146px,#0068ff 149px)"></div><div style="left:132.0px;width:2.6px;background:linear-gradient(#ff2300 0px,#ff9700 48px,#ffd100 64px,#fcff03 71px,#deff21 74px,#70ff8f 78px,#45ffba 80px,#2affd5 82px,#20ffdf 84px,#14ffeb 136px,#03fffc 139px,#0093ff 146px,#0085ff 149px)"></div><div style="left:134.0px;width:2.6px;background:linear-gradient(#ff3000 0px,#ffa500 49px,#ffe300 66px,#feff01 70px,#d6ff29 75px,#c5ff3a 76px,#56ffa9 80px,#2dffd2 82px,#16ffe9 84px,#0efff1 86px,#03fffc 137px,#00e4ff 140px,#0082ff 146px,#0074ff 149px)"></div><div style="left:136.0px;width:2.6px;background:linear-gradient(#ff5d00 0px,#ffd400 50px,#ff0 62px,#e8ff17 68px,#adff52 76px,#8aff75 78px,#34ffcb 81px,#07fff8 83px,#00e2ff 86px,#00d9ff 89px,#00d1ff 137px,#00b3ff 140px,#0051ff 146px,#0043ff 149px)"></div><div style="left:138.0px;width:2.6px;background:linear-gradient(#ff6500 0px,#ffe100 52px,#fdff02 61px,#e0ff1f 69px,#9dff62 78px,#8eff71 79px,#08fff7 84px,#00daff 87px,#00ceff 90px,#00c6ff 137px,#00a8ff 140px,#0046ff 146px,#0038ff 149px)"></div><div style="left:140.0px;width:2.6px;background:linear-gradient(#ff5100 0px,#ffd100 54px,#fdff02 67px,#ef1 71px,#a8ff57 80px,#10ffef 86px,#00fdff 87px,#00e8ff 89px,#00deff 92px,#00d6ff 137px,#00b8ff 140px,#0056ff 146px,#0048ff 149px)"></div><div style="left:142.0px;width:2.6px;background:linear-gradient(#ff4f00 0px,#ffd200 55px,#fdff02 68px,#e9ff16 73px,#adff52 81px,#9fff60 82px,#32ffcd 86px,#06fff9 88px,#00e9ff 90px,#00daff 94px,#00d3ff 137px,#00b6ff 140px,#0054ff 146px,#0046ff 149px)"></div><div style="left:144.0px;width:2.6px;background:linear-gradient(#ff4700 0px,#ffcf00 57px,#fdff02 71px,#f2ff0d 74px,#adff52 83px,#9dff62 84px,#16ffe9 89px,#03fffc 90px,#00f4ff 91px,#00dfff 96px,#00d8ff 137px,#00baff 140px,#0058ff 146px,#004aff 149px)"></div><div style="left:146.0px;width:2.6px;background:linear-gradient(#ff2d00 0px,#ffba00 59px,#feff01 77px,#beff41 85px,#24ffdb 91px,#00feff 94px,#00f4ff 98px,#0ef 137px,#00d0ff 140px,#006fff 146px,#0060ff 149px)"></div><div style="left:148.0px;width:2.6px;background:linear-gradient(#ff1a00 0px,#ffa900 60px,#ffe600 77px,#fcff03 81px,#dfff20 85px,#c7ff38 87px,#57ffa8 91px,#2cffd3 93px,#1fe 95px,#08fff7 97px,#00feff 137px,#00e0ff 140px,#007eff 146px,#0070ff 149px)"></div><div style="left:150.0px;width:2.6px;background:linear-gradient(#ff1b00 0px,#ffae00 62px,#ffe900 78px,#fbff04 82px,#cbff34 88px,#b8ff47 89px,#62ff9d 92px,#32ffcd 94px,#13ffec 96px,#05fffa 98px,#00f9ff 137px,#00dbff 140px,#0079ff 146px,#006bff 149px)"></div><div style="left:152.0px;width:2.6px;background:linear-gradient(#ff2700 0px,#ffbd00 63px,#feff01 81px,#cf3 88px,#b5ff4a 90px,#2fffd0 95px,#00fdff 98px,#0ef 102px,#00e9ff 137px,#00cbff 140px,#0069ff 146px,#005bff 149px)"></div><div style="left:154.0px;width:2.6px;background:linear-gradient(#ff2b00 0px,#ffc400 65px,#fcff03 82px,#b8ff47 91px,#a8ff57 92px,#37ffc8 96px,#00fdff 99px,#0ef 101px,#00e7ff 104px,#00e3ff 137px,#00c5ff 140px,#0063ff 146px,#05f 149px)"></div><div style="left:156.0px;width:2.6px;background:linear-gradient(#ff1d00 0px,#ffb900 67px,#feff01 85px,#beff41 93px,#23ffdc 99px,#05fffa 101px,#00fdff 102px,#00f3ff 105px,#00efff 137px,#00d1ff 140px,#006fff 146px,#0061ff 149px)"></div><div style="left:158.0px;width:2.6px;background:linear-gradient(#f10 0px,#ffad00 68px,#ffeb00 85px,#feff01 88px,#daff25 93px,#c2ff3d 95px,#39ffc6 100px,#16ffe9 102px,#06fff9 104px,#00f9ff 137px,#00dbff 140px,#0079ff 146px,#006bff 149px)"></div><div style="left:160.0px;width:2.6px;background:linear-gradient(#ff1c00 0px,#f20 6px,#fb0 70px,#feff01 88px,#bfff40 96px,#24ffdb 102px,#05fffa 104px,#00fbff 105px,#00f0ff 109px,#00edff 137px,#00cfff 140px,#006dff 146px,#005fff 149px)"></div><div style="left:162.0px;width:2.6px;background:linear-gradient(#ff2100 0px,#ff2a00 8px,#ffc000 71px,#fbff04 89px,#c9ff36 96px,#b1ff4e 98px,#2affd5 103px,#05fffa 105px,#00f8ff 106px,#00eaff 110px,#00e7ff 137px,#00c9ff 140px,#0067ff 146px,#0059ff 149px)"></div><div style="left:164.0px;width:2.6px;background:linear-gradient(#ff1a00 0px,#f20 9px,#fb0 73px,#feff01 91px,#c0ff3f 99px,#aeff51 100px,#27ffd8 105px,#05fffa 107px,#00fbff 108px,#00efff 112px,#00ecff 137px,#00cfff 140px,#006dff 146px,#005fff 149px)"></div><div style="left:166.0px;width:2.6px;background:linear-gradient(#ff1b00 0px,#ff2600 11px,#ffbc00 74px,#f9ff06 93px,#b8ff47 101px,#31ffce 106px,#00fdff 109px,#00edff 113px,#00eaff 137px,#0cf 140px,#006aff 146px,#005cff 149px)"></div><div style="left:168.0px;width:2.6px;background:linear-gradient(#ff2300 0px,#ff2e00 12px,#ff8000 47px,#ffc600 76px,#feff01 92px,#b7ff48 102px,#a7ff58 103px,#1effe1 108px,#00faff 110px,#00e4ff 114px,#00e1ff 137px,#00c3ff 140px,#0061ff 146px,#0053ff 149px)"></div><div style="left:170.0px;width:2.6px;background:linear-gradient(#ff2600 0px,#ff3400 14px,#fc0 78px,#ff0 92px,#f3ff0c 95px,#acff53 104px,#26ffd9 109px,#00fdff 111px,#00e8ff 113px,#00deff 116px,#00dcff 137px,#00beff 140px,#005cff 146px,#004eff 149px)"></div><div style="left:172.0px;width:2.6px;background:linear-gradient(#ff2000 0px,#ff2f00 16px,#ffc500 79px,#ff0 95px,#b9ff46 105px,#af5 106px,#21ffde 111px,#00fcff 113px,#00e4ff 117px,#00e1ff 137px,#00c3ff 140px,#0061ff 146px,#0053ff 149px)"></div><div style="left:174.0px;width:2.6px;background:linear-gradient(#ff0700 0px,#ff1700 17px,#ffb000 81px,#faff05 101px,#caff35 107px,#b6ff49 108px,#5fffa0 111px,#2fffd0 113px,#06fff9 116px,#00f8ff 137px,#00daff 140px,#0078ff 146px,#006aff 149px)"></div><div style="left:176.0px;width:2.6px;background:linear-gradient(#ec0000 0px,#ff0100 20px,#ff4f00 53px,#ff9800 83px,#ffd200 99px,#fffc00 105px,#df2 109px,#5fa 114px,#2fffd0 116px,#1dffe2 118px,#14ffeb 121px,#12ffed 137px,#02fffd 139px,#0091ff 146px,#0083ff 149px)"></div><div style="left:178.0px;width:2.6px;background:linear-gradient(#f60000 0px,#ff0a00 20px,#ff5c00 55px,#ffa200 84px,#ffe000 101px,#fffd00 105px,#d9ff26 110px,#c7ff38 111px,#3fffc0 116px,#13ffec 119px,#08fff7 122px,#0ff 138px,#00e7ff 140px,#0085ff 146px,#07f 149px)"></div><div style="left:180.0px;width:2.6px;background:linear-gradient(#ff0900 0px,#ff1d00 22px,#ffb300 85px,#faff05 105px,#bfff40 112px,#38ffc7 117px,#05fffa 120px,#00f4ff 124px,#00f2ff 137px,#00d5ff 140px,#0073ff 146px,#0065ff 149px)"></div><div style="left:182.0px;width:2.6px;background:linear-gradient(#ff0900 0px,#ff1e00 23px,#ffb600 87px,#fcff03 106px,#c6ff39 113px,#b5ff4a 114px,#2bffd4 119px,#00feff 122px,#00f2ff 125px,#00f1ff 137px,#00d3ff 140px,#0071ff 146px,#0063ff 149px)"></div><div style="left:184.0px;width:2.6px;background:linear-gradient(#ff0700 0px,#ff1f00 25px,#ffb700 89px,#fffe00 107px,#bfff40 115px,#38ffc7 120px,#04fffb 123px,#00f2ff 127px,#00ebff 138px,#00d3ff 140px,#0071ff 146px,#0063ff 149px)"></div><div style="left:186.0px;width:2.6px;background:linear-gradient(#ff0100 0px,#ff1900 26px,#ffb100 90px,#ffef00 107px,#fffd00 109px,#cbff34 116px,#bcff43 117px,#32ffcd 122px,#04fffb 125px,#00f0ff 138px,#00d8ff 140px,#0076ff 146px,#0068ff 149px)"></div><div style="left:188.0px;width:2.6px;background:linear-gradient(#ff0100 0px,#ff1b00 28px,#ffb300 92px,#fffa00 110px,#d9ff26 116px,#c4ff3b 118px,#27ffd8 124px,#01fffe 127px,#00efff 138px,#00d7ff 140px,#0075ff 146px,#0067ff 149px)"></div><div style="left:190.0px;width:2.6px;background:linear-gradient(#ff0a00 0px,#ff2600 30px,#ffbc00 93px,#ff0 111px,#cdff32 118px,#b6ff49 120px,#2effd1 125px,#08fff7 127px,#00faff 128px,#00ecff 131px,#00e4ff 138px,#0cf 140px,#006aff 146px,#005cff 149px)"></div><div style="left:192.0px;width:2.6px;background:linear-gradient(#f10 0px,#ff2f00 32px,#ffc700 96px,#fffe00 111px,#f8ff07 113px,#b1ff4e 122px,#2affd5 127px,#02fffd 129px,#00e7ff 132px,#00dbff 138px,#00c3ff 140px,#0061ff 146px,#0053ff 149px)"></div><div style="left:194.0px;width:2.6px;background:linear-gradient(#ffe900 0px,#ffd500 53px,#ff9800 93px,#ff8400 117px,#ff8900 118px,#fff900 125px,#dfff20 127px,#2effd1 133px,#06fff9 135px,#00a1ff 141px,#0056ff 149px)"></div><div style="left:196.0px;width:2.6px;background:linear-gradient(#fffa00 0px,#ffe600 53px,#ffa900 93px,#ff9500 117px,#ff9a00 118px,#fffa00 124px,#ceff31 127px,#06fff9 134px,#0090ff 141px,#0045ff 149px)"></div><div style="left:198.0px;width:2.6px;background:linear-gradient(#feff01 0px,#ffec00 53px,#ffaf00 93px,#ff9b00 117px,#ffa000 118px,#feff01 124px,#c8ff37 127px,#0ff 134px,#008aff 141px,#003eff 149px)"></div><div style="left:200.0px;width:2.6px;background:linear-gradient(#fff100 0px,#fd0 53px,#ff9f00 93px,#ff8c00 117px,#ff9000 118px,#fff100 124px,#fdff02 125px,#d7ff28 127px,#26ffd9 133px,#00feff 135px,#09f 141px,#004eff 149px)"></div><div style="left:202.0px;width:2.6px;background:linear-gradient(#ffe700 0px,#ffd300 53px,#ff9600 93px,#ff8200 117px,#ff8700 118px,#fff700 125px,#f7ff08 126px,#e1ff1e 127px,#30ffcf 133px,#08fff7 135px,#00f7ff 136px,#0097ff 142px,#0058ff 149px)"></div><div style="left:204.0px;width:2.6px;background:linear-gradient(#ffd100 0px,#ffbd00 53px,#ff7f00 93px,#ff6c00 117px,#ff7100 118px,#fff100 126px,#f7ff08 127px,#46ffb9 133px,#00fcff 137px,#00adff 142px,#006eff 149px)"></div><div style="left:206.0px;width:2.6px;background:linear-gradient(#ffc400 0px,#ffb000 53px,#ff7200 93px,#ff5e00 117px,#ff6300 118px,#fffa00 127px,#53ffac 133px,#0afff5 137px,#00f8ff 138px,#00baff 142px,#007bff 149px)"></div><div style="left:208.0px;width:2.6px;background:linear-gradient(#ffe700 0px,#ffd300 53px,#ff9500 93px,#ff8200 117px,#ff8700 118px,#fff700 125px,#f7ff08 126px,#e1ff1e 127px,#30ffcf 133px,#09fff6 135px,#00f7ff 136px,#0097ff 142px,#0058ff 149px)"></div><div style="left:210.0px;width:2.6px;background:linear-gradient(#fffe00 0px,#ffe900 53px,#ffac00 93px,#ff9800 117px,#ff9d00 118px,#fffe00 124px,#caff35 127px,#03fffc 134px,#008cff 141px,#0041ff 149px)"></div><div style="left:212.0px;width:2.6px;background:linear-gradient(#ffe500 0px,#ffd100 53px,#ff9300 93px,#ff8000 117px,#ff8500 118px,#fff500 125px,#f9ff06 126px,#e3ff1c 127px,#32ffcd 133px,#0bfff4 135px,#00f9ff 136px,#09f 142px,#005aff 149px)"></div><div style="left:214.0px;width:2.6px;background:linear-gradient(#ffd500 0px,#ffc100 53px,#ff8300 93px,#ff7000 117px,#ff7500 118px,#fff500 126px,#f3ff0c 127px,#42ffbd 133px,#0afff5 136px,#00f8ff 137px,#00a9ff 142px,#006aff 149px)"></div><div style="left:216.0px;width:2.6px;background:linear-gradient(#ffdc00 0px,#ffc700 53px,#ff8a00 93px,#ff7600 117px,#ff7b00 118px,#fffc00 126px,#ecff13 127px,#3cffc3 133px,#03fffc 136px,#00a2ff 142px,#0063ff 149px)"></div><div style="left:218.0px;width:2.6px;background:linear-gradient(#ffdb00 0px,#ffc600 53px,#ff8900 93px,#ff7500 117px,#ff7a00 118px,#fffa00 126px,#ef1 127px,#3dffc2 133px,#04fffb 136px,#00a3ff 142px,#0064ff 149px)"></div><div style="left:220.0px;width:2.6px;background:linear-gradient(#ffd100 0px,#ffbd00 53px,#ff7f00 93px,#ff6b00 117px,#ff7000 118px,#fff100 126px,#f7ff08 127px,#46ffb9 133px,#00fcff 137px,#00adff 142px,#006eff 149px)"></div><div style="left:222.0px;width:0.6px;background:linear-gradient(#ffcb00 0px,#ffb700 53px,#ff7a00 93px,#f60 117px,#ff6b00 118px,#ffeb00 126px,#fdff02 127px,#4cffb3 133px,#03fffc 137px,#00b3ff 142px,#0073ff 149px)"></div></div><div class="hm" style="left:1210.4px;top:1397.5px;width:223.0px;height:129.5px"><div style="left:0.0px;width:2.6px;background:linear-gradient(#e7ff18 0px,#d3ff2c 24px,#96ff69 44px,#bfff40 74px,#d3ff2c 103px,#56ffa9 119px,#1effe1 129px)"></div><div style="left:2.0px;width:2.6px;background:linear-gradient(#e7ff18 0px,#d3ff2c 24px,#96ff69 44px,#bfff40 74px,#d3ff2c 103px,#56ffa9 119px,#1effe1 129px)"></div><div style="left:4.0px;width:2.6px;background:linear-gradient(#d3ff2c 0px,#beff41 24px,#82ff7d 44px,#af5 74px,#beff41 103px,#42ffbd 119px,#0afff5 129px)"></div><div style="left:6.0px;width:2.6px;background:linear-gradient(#bfff40 0px,#abff54 24px,#6eff91 44px,#97ff68 74px,#af5 103px,#2effd1 119px,#01fffe 127px,#00f5ff 129px)"></div><div style="left:8.0px;width:2.6px;background:linear-gradient(#c9ff36 0px,#b4ff4b 24px,#78ff87 44px,#a0ff5f 74px,#b4ff4b 103px,#38ffc7 119px,#0ff 129px)"></div><div style="left:10.0px;width:2.6px;background:linear-gradient(#d7ff28 0px,#c2ff3d 24px,#86ff79 44px,#aeff51 74px,#c2ff3d 103px,#46ffb9 119px,#0efff1 129px)"></div><div style="left:12.0px;width:2.6px;background:linear-gradient(#ffec00 0px,#ffec00 129px)"></div><div style="left:14.0px;width:2.6px;background:linear-gradient(#ffd500 0px,#ffd500 129px)"></div><div style="left:16.0px;width:2.6px;background:linear-gradient(#fff900 0px,#fff900 129px)"></div><div style="left:18.0px;width:2.6px;background:linear-gradient(#f0ff0f 0px,#f0ff0f 129px)"></div><div style="left:20.0px;width:2.6px;background:linear-gradient(#ffec00 0px,#ffec00 129px)"></div><div style="left:22.0px;width:2.6px;background:linear-gradient(#ffce00 0px,#ffce00 129px)"></div><div style="left:24.0px;width:2.6px;background:linear-gradient(#ffc700 0px,#ffc700 129px)"></div><div style="left:26.0px;width:2.6px;background:linear-gradient(#ffbc00 0px,#ffbc00 129px)"></div><div style="left:28.0px;width:2.6px;background:linear-gradient(#ff9d00 0px,#ff9d00 129px)"></div><div style="left:30.0px;width:2.6px;background:linear-gradient(#ff8400 0px,#ff8400 129px)"></div><div style="left:32.0px;width:2.6px;background:linear-gradient(#ff7b00 0px,#ff7b00 129px)"></div><div style="left:34.0px;width:2.6px;background:linear-gradient(#ff6d00 0px,#ff6d00 129px)"></div><div style="left:36.0px;width:2.6px;background:linear-gradient(#ff5e00 0px,#ff5e00 129px)"></div><div style="left:38.0px;width:2.6px;background:linear-gradient(#ff4b00 0px,#ff4b00 129px)"></div><div style="left:40.0px;width:2.6px;background:linear-gradient(#ff2d00 0px,#ff2d00 129px)"></div><div style="left:42.0px;width:2.6px;background:linear-gradient(#ff1900 0px,#ff1900 129px)"></div><div style="left:44.0px;width:2.6px;background:linear-gradient(#ff1c00 0px,#ff0b00 15px,#ff0b00 129px)"></div><div style="left:46.0px;width:2.6px;background:linear-gradient(#ff0500 0px,#f00 8px,#e20000 21px,#e20000 118px,#ef0000 129px)"></div><div style="left:48.0px;width:2.6px;background:linear-gradient(#f20000 0px,#ea0000 10px,#c30000 26px,#c30000 113px,#de0000 129px)"></div><div style="left:50.0px;width:2.6px;background:linear-gradient(#ff0700 0px,#fe0000 10px,#c00 31px,#c00 109px,#ea0000 122px,#f10000 129px)"></div><div style="left:52.0px;width:2.6px;background:linear-gradient(#ff1900 0px,#ff1400 8px,#ff0100 17px,#da0000 33px,#d80000 43px,#d80000 105px,#f00 123px,#ff0500 129px)"></div><div style="left:54.0px;width:2.6px;background:linear-gradient(#ff0c00 0px,#f00 12px,#d20000 30px,#c90000 39px,#c90000 103px,#f70000 129px)"></div><div style="left:56.0px;width:2.6px;background:linear-gradient(#f80000 0px,#f20000 9px,#c10000 29px,#b60000 38px,#b60000 103px,#e40000 129px)"></div><div style="left:58.0px;width:2.6px;background:linear-gradient(#f20000 0px,#eb0000 9px,#b00 29px,#af0000 38px,#b00000 103px,#d00 129px)"></div><div style="left:60.0px;width:2.6px;background:linear-gradient(#f30000 0px,#ed0000 9px,#bc0000 29px,#b10000 38px,#b10000 103px,#de0000 129px)"></div><div style="left:62.0px;width:2.6px;background:linear-gradient(#f00 0px,#f80000 9px,#c80000 29px,#bc0000 38px,#bd0000 103px,#ea0000 129px)"></div><div style="left:64.0px;width:2.6px;background:linear-gradient(#ff0a00 0px,#f00 11px,#d00000 30px,#c60000 39px,#c70000 103px,#f40000 129px)"></div><div style="left:66.0px;width:2.6px;background:linear-gradient(#f30000 0px,#ec0000 9px,#bc0000 29px,#b10000 38px,#b10000 103px,#de0000 129px)"></div><div style="left:68.0px;width:2.6px;background:linear-gradient(#db0000 0px,#d40000 9px,#a40000 29px,#900 38px,#900 103px,#c60000 129px)"></div><div style="left:70.0px;width:2.6px;background:linear-gradient(#ed0000 0px,#e70000 9px,#b60000 29px,#ab0000 38px,#ab0000 103px,#d90000 129px)"></div><div style="left:72.0px;width:2.6px;background:linear-gradient(#f50000 0px,#e00 9px,#be0000 29px,#b30000 38px,#b30000 103px,#e00000 129px)"></div><div style="left:74.0px;width:2.6px;background:linear-gradient(#e00 0px,#e70000 9px,#b70000 29px,#ac0000 38px,#ac0000 103px,#d90000 129px)"></div><div style="left:76.0px;width:2.6px;background:linear-gradient(#f70000 0px,#f10000 9px,#c10000 29px,#b50000 38px,#b50000 103px,#e30000 129px)"></div><div style="left:78.0px;width:2.6px;background:linear-gradient(#f90000 0px,#f30000 9px,#c20000 29px,#b70000 38px,#b70000 103px,#e50000 129px)"></div><div style="left:80.0px;width:2.6px;background:linear-gradient(#f40000 0px,#ed0000 9px,#bd0000 29px,#b20000 38px,#b20000 103px,#df0000 129px)"></div><div style="left:82.0px;width:2.6px;background:linear-gradient(#ef0000 0px,#e90000 9px,#b90000 29px,#ad0000 38px,#ad0000 103px,#db0000 129px)"></div><div style="left:84.0px;width:2.6px;background:linear-gradient(#ec0000 0px,#e60000 9px,#b50000 29px,#a00 38px,#a00 103px,#d80000 129px)"></div><div style="left:86.0px;width:2.6px;background:linear-gradient(#f30000 0px,#ed0000 9px,#bc0000 29px,#b10000 38px,#b10000 103px,#df0000 129px)"></div><div style="left:88.0px;width:2.6px;background:linear-gradient(#ff0500 0px,#fe0000 9px,#cd0000 29px,#c20000 38px,#c20000 103px,#f00000 129px)"></div><div style="left:90.0px;width:2.6px;background:linear-gradient(#ff0700 0px,#fe0000 10px,#cf0000 29px,#c30000 38px,#c40000 103px,#f10000 129px)"></div><div style="left:92.0px;width:2.6px;background:linear-gradient(#f30000 0px,#ed0000 9px,#bc0000 29px,#b10000 38px,#b10000 103px,#df0000 129px)"></div><div style="left:94.0px;width:2.6px;background:linear-gradient(#f20000 0px,#ec0000 9px,#b00 29px,#b00000 38px,#b00000 103px,#de0000 129px)"></div><div style="left:96.0px;width:2.6px;background:linear-gradient(#f00000 0px,#e90000 9px,#b90000 29px,#ad0000 38px,#ae0000 103px,#db0000 129px)"></div><div style="left:98.0px;width:2.6px;background:linear-gradient(#dc0000 0px,#d50000 9px,#a50000 29px,#900 38px,#9a0000 103px,#c70000 129px)"></div><div style="left:100.0px;width:2.6px;background:linear-gradient(#e70000 0px,#e00000 9px,#b00000 29px,#a40000 38px,#a50000 103px,#d20000 129px)"></div><div style="left:102.0px;width:2.6px;background:linear-gradient(#fe0000 0px,#f80000 9px,#c80000 29px,#bc0000 38px,#bc0000 103px,#ea0000 129px)"></div><div style="left:104.0px;width:2.6px;background:linear-gradient(#f80000 0px,#f10000 9px,#c10000 29px,#b60000 38px,#b60000 103px,#e30000 129px)"></div><div style="left:106.0px;width:2.6px;background:linear-gradient(#e00 0px,#e80000 9px,#b80000 29px,#ac0000 38px,#ac0000 103px,#da0000 129px)"></div><div style="left:108.0px;width:2.6px;background:linear-gradient(#ef0000 0px,#e90000 9px,#b90000 29px,#ad0000 38px,#ad0000 103px,#db0000 129px)"></div><div style="left:110.0px;width:2.6px;background:linear-gradient(#e00 0px,#e80000 9px,#b70000 29px,#ac0000 38px,#ac0000 103px,#da0000 129px)"></div><div style="left:112.0px;width:2.6px;background:linear-gradient(#ed0000 0px,#e70000 9px,#b70000 29px,#ab0000 38px,#ab0000 103px,#d90000 129px)"></div><div style="left:114.0px;width:2.6px;background:linear-gradient(#e40000 0px,#de0000 9px,#ae0000 29px,#a20000 38px,#a20000 103px,#d00000 129px)"></div><div style="left:116.0px;width:2.6px;background:linear-gradient(#e30000 0px,#d00 9px,#ad0000 29px,#a10000 38px,#a10000 103px,#cf0000 129px)"></div><div style="left:118.0px;width:2.6px;background:linear-gradient(#f30000 0px,#ed0000 9px,#bc0000 29px,#b10000 38px,#b10000 103px,#df0000 129px)"></div><div style="left:120.0px;width:2.6px;background:linear-gradient(#f90000 0px,#f30000 9px,#c30000 29px,#b70000 38px,#b70000 103px,#e50000 129px)"></div><div style="left:122.0px;width:2.6px;background:linear-gradient(#ed0000 0px,#e70000 9px,#b60000 29px,#ab0000 38px,#ab0000 103px,#d90000 129px)"></div><div style="left:124.0px;width:2.6px;background:linear-gradient(#e60000 0px,#e00000 9px,#b00000 29px,#a40000 38px,#a40000 103px,#d20000 129px)"></div><div style="left:126.0px;width:2.6px;background:linear-gradient(#fb0000 0px,#f40000 9px,#c40000 29px,#b80000 38px,#b90000 103px,#e60000 129px)"></div><div style="left:128.0px;width:2.6px;background:linear-gradient(#ff0500 0px,#fe0000 9px,#ce0000 29px,#c20000 38px,#c20000 103px,#f00000 129px)"></div><div style="left:130.0px;width:2.6px;background:linear-gradient(#ea0000 0px,#e30000 9px,#b30000 29px,#a80000 38px,#a80000 103px,#d50000 129px)"></div><div style="left:132.0px;width:2.6px;background:linear-gradient(#cd0000 0px,#c70000 9px,#960000 29px,#8b0000 38px,#8b0000 103px,#b90000 129px)"></div><div style="left:134.0px;width:2.6px;background:linear-gradient(#de0000 0px,#d80000 9px,#a70000 29px,#9c0000 38px,#9c0000 103px,#ca0000 129px)"></div><div style="left:136.0px;width:2.6px;background:linear-gradient(#ff0f00 0px,#fe0000 14px,#d60000 30px,#c00 39px,#c00 103px,#fa0000 129px)"></div><div style="left:138.0px;width:2.6px;background:linear-gradient(#ff1b00 0px,#ff1600 8px,#f00 18px,#d00 32px,#d70000 43px,#d80000 103px,#fe0000 122px,#ff0600 129px)"></div><div style="left:140.0px;width:2.6px;background:linear-gradient(#ff0a00 0px,#f00 11px,#d10000 30px,#c70000 39px,#c70000 103px,#f50000 129px)"></div><div style="left:142.0px;width:2.6px;background:linear-gradient(#ff0d00 0px,#fe0000 13px,#d30000 30px,#ca0000 39px,#ca0000 103px,#f80000 129px)"></div><div style="left:144.0px;width:2.6px;background:linear-gradient(#ff0800 0px,#f00 10px,#cf0000 30px,#c50000 39px,#c50000 103px,#f30000 129px)"></div><div style="left:146.0px;width:2.6px;background:linear-gradient(#f10000 0px,#eb0000 9px,#b00 29px,#af0000 38px,#af0000 103px,#d00 129px)"></div><div style="left:148.0px;width:2.6px;background:linear-gradient(#e20000 0px,#dc0000 9px,#ab0000 29px,#a00000 38px,#a00000 103px,#cd0000 129px)"></div><div style="left:150.0px;width:2.6px;background:linear-gradient(#e70000 0px,#e00000 9px,#b00000 29px,#a40000 38px,#a50000 103px,#d20000 129px)"></div><div style="left:152.0px;width:2.6px;background:linear-gradient(#f70000 0px,#f10000 9px,#c00000 29px,#b50000 38px,#b50000 103px,#e20000 129px)"></div><div style="left:154.0px;width:2.6px;background:linear-gradient(#fd0000 0px,#f70000 9px,#c60000 29px,#b00 38px,#b00 103px,#e80000 129px)"></div><div style="left:156.0px;width:2.6px;background:linear-gradient(#f10000 0px,#eb0000 9px,#ba0000 29px,#af0000 38px,#af0000 103px,#dc0000 129px)"></div><div style="left:158.0px;width:2.6px;background:linear-gradient(#e60000 0px,#e00000 9px,#b00000 29px,#a40000 38px,#a40000 103px,#d20000 129px)"></div><div style="left:160.0px;width:2.6px;background:linear-gradient(#f30000 0px,#ec0000 9px,#bc0000 29px,#b00000 38px,#b10000 103px,#de0000 129px)"></div><div style="left:162.0px;width:2.6px;background:linear-gradient(#f90000 0px,#f30000 9px,#c20000 29px,#b70000 38px,#b70000 103px,#e50000 129px)"></div><div style="left:164.0px;width:2.6px;background:linear-gradient(#f30000 0px,#ed0000 9px,#bc0000 29px,#b10000 38px,#b10000 103px,#df0000 129px)"></div><div style="left:166.0px;width:2.6px;background:linear-gradient(#f50000 0px,#ef0000 9px,#bf0000 29px,#b30000 38px,#b30000 103px,#e10000 129px)"></div><div style="left:168.0px;width:2.6px;background:linear-gradient(#f00 0px,#f80000 9px,#c80000 29px,#bd0000 38px,#bd0000 103px,#ea0000 129px)"></div><div style="left:170.0px;width:2.6px;background:linear-gradient(#ff0500 0px,#fd0000 9px,#cd0000 29px,#c20000 38px,#c20000 103px,#ef0000 129px)"></div><div style="left:172.0px;width:2.6px;background:linear-gradient(#fe0000 0px,#f80000 9px,#c80000 29px,#bc0000 38px,#bd0000 103px,#ea0000 129px)"></div><div style="left:174.0px;width:2.6px;background:linear-gradient(#e80000 0px,#e10000 9px,#b10000 29px,#a50000 38px,#a60000 103px,#d30000 129px)"></div><div style="left:176.0px;width:2.6px;background:linear-gradient(#ce0000 0px,#c80000 9px,#980000 29px,#8c0000 38px,#8c0000 103px,#ba0000 129px)"></div><div style="left:178.0px;width:2.6px;background:linear-gradient(#da0000 0px,#d40000 9px,#a40000 29px,#980000 38px,#980000 103px,#c60000 129px)"></div><div style="left:180.0px;width:2.6px;background:linear-gradient(#ed0000 0px,#e70000 9px,#b60000 29px,#ab0000 38px,#ab0000 103px,#d90000 129px)"></div><div style="left:182.0px;width:2.6px;background:linear-gradient(#ef0000 0px,#e90000 9px,#b80000 29px,#ad0000 38px,#ad0000 103px,#da0000 129px)"></div><div style="left:184.0px;width:2.6px;background:linear-gradient(#e00 0px,#e80000 9px,#b80000 29px,#ac0000 38px,#ac0000 103px,#da0000 129px)"></div><div style="left:186.0px;width:2.6px;background:linear-gradient(#ea0000 0px,#e40000 9px,#b30000 29px,#a80000 38px,#a80000 103px,#d60000 129px)"></div><div style="left:188.0px;width:2.6px;background:linear-gradient(#eb0000 0px,#e50000 9px,#b40000 29px,#a90000 38px,#a90000 103px,#d60000 129px)"></div><div style="left:190.0px;width:2.6px;background:linear-gradient(#f60000 0px,#ef0000 9px,#bf0000 29px,#b30000 38px,#b40000 103px,#e10000 129px)"></div><div style="left:192.0px;width:2.6px;background:linear-gradient(#f00 0px,#f90000 9px,#c80000 29px,#bd0000 38px,#bd0000 103px,#eb0000 129px)"></div><div style="left:194.0px;width:2.6px;background:linear-gradient(#ff5b00 0px,#ff5b00 129px)"></div><div style="left:196.0px;width:2.6px;background:linear-gradient(#ff6d00 0px,#ff6d00 129px)"></div><div style="left:198.0px;width:2.6px;background:linear-gradient(#f70 0px,#f70 129px)"></div><div style="left:200.0px;width:2.6px;background:linear-gradient(#ff6d00 0px,#ff6d00 129px)"></div><div style="left:202.0px;width:2.6px;background:linear-gradient(#ff6900 0px,#ff6900 129px)"></div><div style="left:204.0px;width:2.6px;background:linear-gradient(#ff5b00 0px,#ff5b00 129px)"></div><div style="left:206.0px;width:2.6px;background:linear-gradient(#ff5600 0px,#ff5600 129px)"></div><div style="left:208.0px;width:2.6px;background:linear-gradient(#ff8100 0px,#ff8100 129px)"></div><div style="left:210.0px;width:2.6px;background:linear-gradient(#ffa100 0px,#ffa100 129px)"></div><div style="left:212.0px;width:2.6px;background:linear-gradient(#ff9000 0px,#ff9000 129px)"></div><div style="left:214.0px;width:2.6px;background:linear-gradient(#f80 0px,#f80 129px)"></div><div style="left:216.0px;width:2.6px;background:linear-gradient(#ff9500 0px,#ff9500 129px)"></div><div style="left:218.0px;width:2.6px;background:linear-gradient(#f90 0px,#f90 129px)"></div><div style="left:220.0px;width:2.6px;background:linear-gradient(#ff9200 0px,#ff9200 129px)"></div><div style="left:222.0px;width:1.0px;background:linear-gradient(#ff8e00 0px,#ff8e00 129px)"></div></div><div class="hm" style="left:1211.4px;top:1894.3px;width:222.0px;height:291.8px"><div style="left:0.0px;width:2.6px;background:linear-gradient(#4effb1 0px,#63ff9c 226px,#a0ff5f 246px,#beff41 291px)"></div><div style="left:2.0px;width:2.6px;background:linear-gradient(#4effb1 0px,#63ff9c 226px,#a0ff5f 246px,#beff41 291px)"></div><div style="left:4.0px;width:2.6px;background:linear-gradient(#3affc5 0px,#4effb1 226px,#8cff73 246px,#af5 291px)"></div><div style="left:6.0px;width:2.6px;background:linear-gradient(#26ffd9 0px,#3bffc4 226px,#78ff87 246px,#96ff69 291px)"></div><div style="left:8.0px;width:2.6px;background:linear-gradient(#30ffcf 0px,#4fb 226px,#82ff7d 246px,#a0ff5f 291px)"></div><div style="left:10.0px;width:2.6px;background:linear-gradient(#3effc1 0px,#52ffad 226px,#90ff6f 246px,#aeff51 291px)"></div><div style="left:12.0px;width:2.6px;background:linear-gradient(#56ffa9 0px,#56ffa9 249px,#5bffa4 251px,#74ff8b 253px,#afff50 256px,#eaff15 258px,#f6ff09 259px,#feff01 262px,#ffca00 274px,#ff3f00 291px)"></div><div style="left:14.0px;width:2.6px;background:linear-gradient(#6cff93 0px,#6cff93 248px,#85ff7a 251px,#fffe00 257px,#fff000 258px,#ffd600 266px,#ffac00 274px,#ff2100 291px)"></div><div style="left:16.0px;width:2.6px;background:linear-gradient(#46ffb9 0px,#46ffb9 246px,#5dffa2 248px,#5bffa4 249px,#e9ff16 257px,#feff01 263px,#ffc600 274px,#ff3c00 291px)"></div><div style="left:18.0px;width:2.6px;background:linear-gradient(#29ffd6 0px,#29ffd6 244px,#2fffd0 245px,#5affa5 247px,#4affb5 248px,#a7ff58 253px,#cdff32 256px,#fffa00 268px,#ffce00 275px,#ff4e00 291px)"></div><div style="left:20.0px;width:2.6px;background:linear-gradient(#40ffbf 0px,#40ffbf 242px,#46ffb9 243px,#6fff90 245px,#61ff9e 246px,#d8ff27 253px,#fcff03 259px,#ffea00 264px,#ffac00 274px,#ff5200 285px,#ff2a00 291px)"></div><div style="left:22.0px;width:2.6px;background:linear-gradient(#4fffb0 0px,#4fffb0 240px,#54ffab 241px,#7cff83 243px,#6fff90 244px,#e4ff1b 251px,#fcff03 254px,#fa0 269px,#ff3800 284px,#ff0e00 291px)"></div><div style="left:24.0px;width:2.6px;background:linear-gradient(#45ffba 0px,#45ffba 238px,#49ffb6 239px,#6dff92 241px,#64ff9b 242px,#e4ff1b 250px,#fdff02 254px,#ff7e00 274px,#ff3200 284px,#ff0f00 291px)"></div><div style="left:26.0px;width:2.6px;background:linear-gradient(#3cffc3 0px,#3cffc3 236px,#3fffc0 237px,#5dffa2 239px,#5affa5 240px,#daff25 248px,#fcff03 253px,#ff3800 282px,#ff1200 291px)"></div><div style="left:28.0px;width:2.6px;background:linear-gradient(#46ffb9 0px,#46ffb9 234px,#52ffad 236px,#64ff9b 237px,#63ff9c 238px,#d8ff27 245px,#f1ff0e 247px,#feff01 249px,#ffb000 259px,#ff2600 280px,#ff0d00 286px,#ff0700 291px)"></div><div style="left:30.0px;width:2.6px;background:linear-gradient(#48ffb7 0px,#48ffb7 231px,#68ff97 235px,#64ff9b 236px,#faff05 245px,#ffdf00 250px,#ff8d00 259px,#ff2000 277px,#ff0b00 282px,#ff0500 291px)"></div><div style="left:32.0px;width:2.6px;background:linear-gradient(#38ffc7 0px,#38ffc7 227px,#3dffc2 229px,#58ffa7 232px,#54ffab 233px,#6f9 235px,#e4ff1b 242px,#fcff03 244px,#ffe200 248px,#ff7b00 259px,#ff4000 269px,#ff2b00 274px,#ff1400 291px)"></div><div style="left:34.0px;width:2.6px;background:linear-gradient(#2effd1 0px,#30ffcf 222px,#34ffcb 226px,#5bffa4 230px,#53ffac 231px,#5dffa2 232px,#8dff72 236px,#df2 240px,#fbff04 242px,#ff6e00 258px,#ff4100 266px,#ff1f00 291px)"></div><div style="left:36.0px;width:2.6px;background:linear-gradient(#25ffda 0px,#28ffd7 210px,#49ffb6 226px,#43ffbc 227px,#91ff6e 234px,#f2ff0d 239px,#fffd00 240px,#ff8400 252px,#ff4b00 259px,#ff2700 291px)"></div><div style="left:38.0px;width:2.6px;background:linear-gradient(#21ffde 0px,#25ffda 197px,#38ffc7 210px,#5fffa0 222px,#4dffb2 223px,#54ffab 226px,#90ff6f 231px,#ebff14 236px,#fffe00 237px,#ffae00 243px,#ff5700 253px,#ff2c00 291px)"></div><div style="left:40.0px;width:2.6px;background:linear-gradient(#28ffd7 0px,#28ffd7 170px,#2effd1 184px,#4effb1 202px,#7fff80 217px,#67ff98 218px,#7cff83 225px,#8cff73 227px,#f8ff07 233px,#ffb700 238px,#ffac00 240px,#ff5700 247px,#ff2500 291px)"></div><div style="left:42.0px;width:2.6px;background:linear-gradient(#26ffd9 0px,#26ffd9 119px,#30ffcf 170px,#53ffac 191px,#8bff74 209px,#73ff8c 210px,#83ff7c 216px,#96ff69 220px,#bf4 225px,#c4ff3b 226px,#edff12 228px,#fffb00 229px,#ffe600 230px,#ffd200 232px,#ffad00 240px,#ff5f00 246px,#ff5900 247px,#ff2600 291px)"></div><div style="left:44.0px;width:2.6px;background:linear-gradient(#21ffde 0px,#24ffdb 93px,#4fb 170px,#6dff92 188px,#61ff9e 189px,#71ff8e 195px,#fdff02 225px,#ffd800 230px,#ffaf00 240px,#ff8000 243px,#ff5e00 246px,#ff2b00 291px)"></div><div style="left:46.0px;width:2.6px;background:linear-gradient(#38ffc7 0px,#40ffbf 80px,#7fff80 174px,#8aff75 179px,#a2ff5d 184px,#feff01 213px,#ff9c00 239px,#ff6400 243px,#ff4600 246px,#ff1400 291px)"></div><div style="left:48.0px;width:2.6px;background:linear-gradient(#4affb5 0px,#4effb1 55px,#60ff9f 86px,#85ff7a 118px,#aeff51 169px,#ff0 197px,#ffd800 217px,#ff9b00 238px,#ff8200 242px,#ff3700 248px,#ff0300 291px)"></div><div style="left:50.0px;width:2.6px;background:linear-gradient(#38ffc7 0px,#3cffc3 46px,#4cffb3 75px,#8bff74 118px,#b6ff49 169px,#f5ff0a 194px,#ff0 201px,#ffeb00 221px,#ffaf00 241px,#ff9800 246px,#ff4800 253px,#ff1a00 291px)"></div><div style="left:52.0px;width:2.6px;background:linear-gradient(#26ffd9 0px,#2affd5 39px,#38ffc7 65px,#53ffac 85px,#93ff6c 118px,#bdff42 169px,#e0ff1f 187px,#ff0 218px,#ffbf00 240px,#ffa700 244px,#ff5e00 250px,#ff5a00 251px,#ff2900 291px)"></div><div style="left:54.0px;width:2.6px;background:linear-gradient(#34ffcb 0px,#37ffc8 33px,#45ffba 57px,#63ff9c 78px,#b7ff48 118px,#daff25 170px,#ff0 198px,#fff200 213px,#ffb500 235px,#ffa000 239px,#ff6100 243px,#ff4e00 245px,#ff1b00 285px,#ff1b00 291px)"></div><div style="left:56.0px;width:2.6px;background:linear-gradient(#49ffb6 0px,#4cffb3 32px,#5affa5 56px,#78ff87 76px,#cfff30 118px,#ecff13 169px,#fffe00 183px,#ffdf00 213px,#ffbd00 227px,#ff8f00 239px,#ff3c00 245px,#ff0800 291px)"></div><div style="left:58.0px;width:2.6px;background:linear-gradient(#50ffaf 0px,#53ffac 32px,#62ff9d 57px,#80ff7f 77px,#d4ff2b 118px,#f1ff0e 169px,#ff0 178px,#ffd900 214px,#ffb900 227px,#ff8700 240px,#ff3500 246px,#ff0200 291px)"></div><div style="left:60.0px;width:2.6px;background:linear-gradient(#4fffb0 0px,#52ffad 31px,#61ff9e 55px,#7fff80 75px,#d6ff29 118px,#f3ff0c 169px,#fffe00 178px,#ffd900 212px,#ffb400 227px,#ff8a00 238px,#ff4c00 242px,#ff3600 244px,#ff0300 284px,#ff0300 291px)"></div><div style="left:62.0px;width:2.6px;background:linear-gradient(#43ffbc 0px,#47ffb8 31px,#56ffa9 55px,#74ff8b 75px,#caff35 118px,#e7ff18 169px,#fffe00 187px,#ffe500 212px,#fa0 234px,#ff9600 238px,#ff4200 244px,#ff0f00 284px,#ff0f00 291px)"></div><div style="left:64.0px;width:2.6px;background:linear-gradient(#39ffc6 0px,#3effc1 34px,#4fffb0 59px,#bf4 118px,#d8ff27 169px,#ff0 199px,#ffef00 216px,#ffb300 237px,#ff9e00 241px,#ff4b00 248px,#ff1900 291px)"></div><div style="left:66.0px;width:2.6px;background:linear-gradient(#4fffb0 0px,#5fa 33px,#65ff9a 58px,#d3ff2c 118px,#efff10 169px,#fffe00 180px,#ffd900 215px,#fb0 227px,#ff8a00 240px,#ff3500 247px,#ff0300 291px)"></div><div style="left:68.0px;width:2.6px;background:linear-gradient(#68ff97 0px,#7dff82 54px,#f1ff0e 118px,#ff0 141px,#fff000 170px,#ffc100 210px,#ff9b00 226px,#ff8500 233px,#ff6d00 237px,#ff1e00 242px,#f00 265px,#ea0000 282px,#ea0000 291px)"></div><div style="left:70.0px;width:2.6px;background:linear-gradient(#5fa 0px,#6cff93 56px,#dbff24 118px,#feff01 174px,#ffd400 213px,#ffb400 226px,#ff8300 239px,#ff3000 245px,#ff0100 283px,#fc0000 291px)"></div><div style="left:72.0px;width:2.6px;background:linear-gradient(#4dffb2 0px,#56ffa9 35px,#69ff96 62px,#cf3 117px,#e9ff16 169px,#fffe00 184px,#ffdb00 218px,#ffc500 227px,#ff8a00 243px,#ff3800 250px,#ff0500 291px)"></div><div style="left:74.0px;width:2.6px;background:linear-gradient(#54ffab 0px,#6fff90 58px,#d7ff28 117px,#ff0 176px,#ffd500 214px,#ffb800 226px,#ff8400 240px,#f30 246px,#ff3000 247px,#fd0000 291px)"></div><div style="left:76.0px;width:2.6px;background:linear-gradient(#4cffb3 0px,#6f9 54px,#d2ff2d 117px,#efff10 169px,#ff0 180px,#ffde00 211px,#ffb700 227px,#ff9000 237px,#ff3a00 243px,#ff0800 283px,#ff0800 291px)"></div><div style="left:78.0px;width:2.6px;background:linear-gradient(#49ffb6 0px,#6f9 56px,#ceff31 117px,#ebff14 169px,#ff0 183px,#ffe000 213px,#ffbd00 227px,#ff8e00 239px,#ff4f00 243px,#ff3c00 245px,#ff0900 285px,#ff0900 291px)"></div><div style="left:80.0px;width:2.6px;background:linear-gradient(#4fffb0 0px,#6eff91 57px,#d3ff2c 117px,#f0ff0f 169px,#ff0 179px,#ffda00 214px,#ffb900 227px,#ff8c00 239px,#ff5300 243px,#ff3600 246px,#ff0400 291px)"></div><div style="left:82.0px;width:2.6px;background:linear-gradient(#53ffac 0px,#73ff8c 56px,#d8ff27 117px,#fffe00 176px,#ffd600 213px,#ffb600 226px,#ff8500 239px,#ff3200 245px,#f00 285px,#f00 291px)"></div><div style="left:84.0px;width:2.6px;background:linear-gradient(#57ffa8 0px,#79ff86 57px,#dcff23 117px,#ff0 174px,#ffd100 214px,#ffb400 226px,#ff8400 239px,#ff2f00 246px,#f00 284px,#fb0000 291px)"></div><div style="left:86.0px;width:2.6px;background:linear-gradient(#51ffae 0px,#75ff8a 56px,#d8ff27 118px,#f3ff0c 169px,#fffe00 177px,#ffd600 213px,#ffb400 227px,#ff8600 239px,#ff4800 243px,#ff3500 245px,#ff0300 285px,#ff0300 291px)"></div><div style="left:88.0px;width:2.6px;background:linear-gradient(#42ffbd 0px,#6f9 53px,#cf3 118px,#e7ff18 169px,#ff0 187px,#ffe400 211px,#ffab00 233px,#ff9700 237px,#ff4c00 242px,#ff4500 243px,#ff1500 282px,#ff1400 291px)"></div><div style="left:90.0px;width:2.6px;background:linear-gradient(#41ffbe 0px,#69ff96 54px,#cf3 118px,#e7ff18 169px,#ff0 187px,#ffe300 211px,#ffab00 233px,#ff8e00 238px,#ff4700 243px,#ff1700 282px,#ff1600 291px)"></div><div style="left:92.0px;width:2.6px;background:linear-gradient(#53ffac 0px,#81ff7e 57px,#deff21 118px,#fffe00 174px,#ffce00 213px,#ffad00 227px,#ff8200 239px,#ff3500 245px,#ff0300 291px)"></div><div style="left:94.0px;width:2.6px;background:linear-gradient(#56ffa9 0px,#86ff79 56px,#e1ff1e 117px,#feff01 171px,#ffc900 213px,#ffab00 226px,#ff7e00 239px,#ff3200 245px,#ff0200 285px,#ff0200 291px)"></div><div style="left:96.0px;width:2.6px;background:linear-gradient(#5affa5 0px,#8dff72 56px,#e7ff18 117px,#fffc00 170px,#ffc200 213px,#ffa100 227px,#f70 239px,#ff3f00 243px,#ff2f00 245px,#ff0100 284px,#f00 291px)"></div><div style="left:98.0px;width:2.6px;background:linear-gradient(#6cff93 0px,#a6ff59 59px,#fcff03 118px,#ffe900 170px,#ffab00 215px,#ff9200 226px,#ff6100 241px,#ff1d00 247px,#ff1a00 248px,#f00 271px,#eb0000 291px)"></div><div style="left:100.0px;width:2.6px;background:linear-gradient(#62ff9d 0px,#a1ff5e 61px,#f2ff0d 118px,#ff0 144px,#fff300 170px,#fb0 210px,#ff9c00 226px,#ff6900 242px,#ff2500 249px,#f00 282px,#f60000 291px)"></div><div style="left:102.0px;width:2.6px;background:linear-gradient(#4cffb3 0px,#8eff71 60px,#deff21 118px,#ff0 175px,#ffcf00 210px,#ffac00 227px,#ff8100 241px,#ff3c00 248px,#ff0f00 291px)"></div><div style="left:104.0px;width:2.6px;background:linear-gradient(#57ffa8 0px,#eaff15 117px,#fffb00 170px,#ffc000 210px,#ff9d00 227px,#ff7900 239px,#ff3500 246px,#ff0800 291px)"></div><div style="left:106.0px;width:2.6px;background:linear-gradient(#63ff9c 0px,#f6ff09 117px,#fe0 170px,#ffb200 210px,#ff8f00 227px,#ff6b00 239px,#ff3f00 243px,#ff2a00 246px,#f00 284px,#fe0000 291px)"></div><div style="left:108.0px;width:2.6px;background:linear-gradient(#61ff9e 0px,#f7ff08 117px,#ffef00 170px,#ffb200 210px,#ff8f00 227px,#ff6a00 240px,#ff2b00 247px,#f00 291px)"></div><div style="left:110.0px;width:2.6px;background:linear-gradient(#63ff9c 0px,#a0ff5f 43px,#faff05 118px,#ffec00 170px,#ffaf00 210px,#ff8c00 227px,#ff6500 241px,#ff2900 248px,#fd0000 291px)"></div><div style="left:112.0px;width:2.6px;background:linear-gradient(#64ff9b 0px,#a4ff5b 45px,#fbff04 118px,#ffeb00 170px,#ffc700 196px,#ff8b00 227px,#ff6300 242px,#ff2800 250px,#fd0000 291px)"></div><div style="left:114.0px;width:2.6px;background:linear-gradient(#6fff90 0px,#70ff8f 7px,#b1ff4e 49px,#ff0 116px,#ffe300 170px,#fb0 200px,#ff8500 227px,#f50 246px,#ff1e00 253px,#ff0100 282px,#f60000 291px)"></div><div style="left:116.0px;width:2.6px;background:linear-gradient(#71ff8e 0px,#71ff8e 10px,#b5ff4a 53px,#ff0 118px,#ffe300 170px,#ffb900 203px,#ff8d00 224px,#ff5200 249px,#ff1d00 256px,#f80000 291px)"></div><div style="left:118.0px;width:2.6px;background:linear-gradient(#62ff9d 0px,#62ff9d 9px,#a7ff58 52px,#f2ff0d 118px,#ff0 137px,#fff100 170px,#ffc700 202px,#ff9200 227px,#ff6100 248px,#ff2c00 255px,#ff0800 291px)"></div><div style="left:120.0px;width:2.6px;background:linear-gradient(#5cffa3 0px,#5dffa2 5px,#a3ff5c 48px,#f3ff0c 118px,#ff0 140px,#fff200 170px,#fc0 198px,#ff9000 227px,#ff6700 244px,#f30 251px,#ff0a00 291px)"></div><div style="left:122.0px;width:2.6px;background:linear-gradient(#6cff93 0px,#afff50 41px,#feff01 110px,#ffdf00 170px,#ffc000 192px,#ff6400 236px,#ff5900 240px,#ff2600 246px,#f00 282px,#fc0000 291px)"></div><div style="left:124.0px;width:2.6px;background:linear-gradient(#79ff86 0px,#b7ff48 37px,#ff0 101px,#ffeb00 118px,#ffd500 170px,#ffb800 190px,#ff5c00 234px,#ff5400 237px,#ff1f00 243px,#f00 271px,#f60000 291px)"></div><div style="left:126.0px;width:2.6px;background:linear-gradient(#61ff9e 0px,#a2ff5d 39px,#f9ff06 114px,#ffeb00 170px,#ffcd00 191px,#ff7100 235px,#ff6500 239px,#ff3d00 243px,#f30 245px,#ff0b00 283px,#ff0b00 291px)"></div><div style="left:128.0px;width:2.6px;background:linear-gradient(#54ffab 0px,#9f6 42px,#f0ff0f 117px,#fff700 170px,#ffd600 193px,#ff7c00 236px,#ff7100 240px,#ff3c00 247px,#ff1500 291px)"></div><div style="left:130.0px;width:2.6px;background:linear-gradient(#6cff93 0px,#b3ff4c 44px,#ff0 111px,#ffde00 170px,#fb0 195px,#ff6000 238px,#ff5400 242px,#f20 249px,#f00 282px,#f90000 291px)"></div><div style="left:132.0px;width:2.6px;background:linear-gradient(#89ff76 0px,#8aff75 5px,#d1ff2e 48px,#ff0 93px,#fd0 118px,#ffc400 170px,#ff9f00 198px,#ff3a00 244px,#ff0600 251px,#ff0100 255px,#dc0000 291px)"></div><div style="left:134.0px;width:2.6px;background:linear-gradient(#78ff87 0px,#bfff40 47px,#ff0 105px,#ffe900 125px,#ffd500 170px,#ffaf00 198px,#ff7200 227px,#ff4900 244px,#ff1700 251px,#f00 273px,#ed0000 291px)"></div><div style="left:136.0px;width:2.6px;background:linear-gradient(#47ffb8 0px,#47ffb8 4px,#8fff70 47px,#e0ff1f 118px,#fffe00 175px,#ffe000 198px,#ff8400 240px,#ff7b00 244px,#ff4700 251px,#ff1f00 291px)"></div><div style="left:138.0px;width:2.6px;background:linear-gradient(#3cffc3 0px,#83ff7c 43px,#daff25 118px,#f0ff0f 169px,#ff0 180px,#ffeb00 194px,#ff9100 237px,#ff8600 241px,#ff5200 248px,#ff2a00 291px)"></div><div style="left:140.0px;width:2.6px;background:linear-gradient(#5cffa3 0px,#94ff6b 34px,#eaff15 108px,#ff0 146px,#fff500 170px,#ffdb00 188px,#ff7f00 232px,#f70 235px,#ff4600 240px,#ff3f00 242px,#ff1a00 278px,#ff1a00 291px)"></div><div style="left:142.0px;width:2.6px;background:linear-gradient(#5dffa2 0px,#91ff6e 31px,#e8ff17 106px,#ff0 147px,#fff500 170px,#ffdf00 186px,#ffc700 194px,#ff8300 230px,#f70 234px,#ff4500 239px,#ff3f00 242px,#ff1d00 275px,#ff1c00 291px)"></div><div style="left:144.0px;width:2.6px;background:linear-gradient(#5bffa4 0px,#95ff6a 35px,#edff12 110px,#ff0 145px,#fff400 170px,#ffd900 189px,#ff7d00 233px,#ff7500 236px,#ff3f00 242px,#ff1800 279px,#ff1800 291px)"></div><div style="left:146.0px;width:2.6px;background:linear-gradient(#6cff93 0px,#acff53 39px,#feff01 110px,#ffe100 170px,#ffc300 191px,#ff6900 234px,#ff5e00 238px,#ff2a00 244px,#ff0200 282px,#ff0100 291px)"></div><div style="left:148.0px;width:2.6px;background:linear-gradient(#76ff89 0px,#bf4 42px,#ff0 103px,#ffeb00 118px,#ffd400 170px,#ffb400 193px,#ff5a00 236px,#ff4f00 240px,#ff1a00 247px,#ff0100 271px,#f10000 291px)"></div><div style="left:150.0px;width:2.6px;background:linear-gradient(#6fff90 0px,#6fff90 5px,#b7ff48 48px,#feff01 112px,#ffde00 170px,#ffb700 199px,#ff7c00 227px,#ff5400 244px,#ff1f00 252px,#ff0100 282px,#f60000 291px)"></div><div style="left:152.0px;width:2.6px;background:linear-gradient(#5fffa0 0px,#5fffa0 6px,#a7ff58 49px,#f5ff0a 118px,#ff0 134px,#ffef00 170px,#ffc900 199px,#ff8e00 227px,#ff6400 245px,#ff3100 252px,#ff0800 291px)"></div><div style="left:154.0px;width:2.6px;background:linear-gradient(#59ffa6 0px,#a0ff5f 45px,#f5ff0a 118px,#fff200 170px,#ffce00 196px,#ff7400 238px,#ff6a00 242px,#ff3600 249px,#ff0d00 291px)"></div><div style="left:156.0px;width:2.6px;background:linear-gradient(#65ff9a 0px,#adff52 46px,#ff0 117px,#ffe600 170px,#ffc300 196px,#ff6900 238px,#ff5b00 243px,#ff2900 250px,#ff0100 291px)"></div><div style="left:158.0px;width:2.6px;background:linear-gradient(#6fff90 0px,#b7ff48 47px,#ff0 111px,#fff100 125px,#fd0 170px,#ffb700 198px,#ff7a00 227px,#ff5100 244px,#ff1f00 251px,#f00 281px,#f60000 291px)"></div><div style="left:160.0px;width:2.6px;background:linear-gradient(#63ff9c 0px,#abff54 45px,#ff0 118px,#ffe800 170px,#ffc400 196px,#ff6a00 238px,#ff5f00 242px,#ff2c00 249px,#ff0300 291px)"></div><div style="left:162.0px;width:2.6px;background:linear-gradient(#5dffa2 0px,#a4ff5b 43px,#fbff04 118px,#ffed00 170px,#ffcb00 194px,#ff7000 237px,#f60 241px,#ff3100 248px,#ff0900 291px)"></div><div style="left:164.0px;width:2.6px;background:linear-gradient(#63ff9c 0px,#af5 44px,#ff0 117px,#ffe700 170px,#ffc400 195px,#ff6c00 237px,#ff6100 241px,#ff2b00 249px,#ff0300 291px)"></div><div style="left:166.0px;width:2.6px;background:linear-gradient(#60ff9f 0px,#a7ff58 45px,#fbff04 118px,#ffeb00 170px,#ffc700 196px,#ff6e00 238px,#ff5e00 243px,#ff2d00 250px,#ff0600 291px)"></div><div style="left:168.0px;width:2.6px;background:linear-gradient(#57ffa8 0px,#9fff60 47px,#f0ff0f 118px,#ff0 148px,#fff500 170px,#ffd100 197px,#ff9300 227px,#ff6c00 243px,#ff3700 251px,#ff0f00 291px)"></div><div style="left:170.0px;width:2.6px;background:linear-gradient(#52ffad 0px,#9f6 45px,#edff12 118px,#fff900 170px,#ffd500 196px,#ff7c00 238px,#ff6c00 243px,#ff3c00 250px,#ff1400 291px)"></div><div style="left:172.0px;width:2.6px;background:linear-gradient(#5fffa0 0px,#9eff61 38px,#f5ff0a 113px,#ff0 130px,#fe0 170px,#ffd200 190px,#ff7600 234px,#ff6b00 238px,#ff3700 244px,#ff0f00 282px,#ff0f00 291px)"></div><div style="left:174.0px;width:2.6px;background:linear-gradient(#7f8 0px,#b6ff49 38px,#ff0 103px,#ffed00 118px,#ffd600 170px,#ffba00 190px,#ff5e00 234px,#ff5100 238px,#ff2100 243px,#f00 273px,#f70000 291px)"></div><div style="left:176.0px;width:2.6px;background:linear-gradient(#87ff78 0px,#cfff30 44px,#ff0 90px,#ffd900 118px,#ffc200 170px,#ffa100 194px,#f40 238px,#ff3c00 241px,#ff0700 248px,#f00 253px,#de0000 291px)"></div><div style="left:178.0px;width:2.6px;background:linear-gradient(#7bff84 0px,#c3ff3c 44px,#fffe00 100px,#ffe500 119px,#ffcf00 170px,#ffab00 195px,#ff5100 238px,#ff4300 242px,#ff1200 249px,#f00 265px,#ea0000 291px)"></div><div style="left:180.0px;width:2.6px;background:linear-gradient(#69ff96 0px,#b0ff4f 43px,#ff0 112px,#ffe000 170px,#ffbe00 194px,#ff6400 237px,#ff5900 241px,#ff2500 248px,#fc0000 291px)"></div><div style="left:182.0px;width:2.6px;background:linear-gradient(#67ff98 0px,#aeff51 43px,#ff0 113px,#ffe200 170px,#ffc000 194px,#f60 237px,#ff5b00 241px,#ff2700 248px,#fe0000 291px)"></div><div style="left:184.0px;width:2.6px;background:linear-gradient(#6cff93 0px,#afff50 41px,#feff01 110px,#ffe000 170px,#ffc100 192px,#ff6400 236px,#ff5700 240px,#ff2700 246px,#f00 283px,#fe0000 291px)"></div><div style="left:186.0px;width:2.6px;background:linear-gradient(#75ff8a 0px,#b3ff4c 38px,#fffe00 105px,#ffef00 118px,#ffd900 170px,#ffbd00 190px,#ff6100 234px,#f50 238px,#ff2300 243px,#f00 276px,#f90000 291px)"></div><div style="left:188.0px;width:2.6px;background:linear-gradient(#6fff90 0px,#b3ff4c 41px,#ff0 108px,#fff300 118px,#ffdc00 170px,#ffbd00 192px,#ff6100 236px,#ff5300 240px,#ff2300 246px,#ff0100 279px,#fa0000 291px)"></div><div style="left:190.0px;width:2.6px;background:linear-gradient(#60ff9f 0px,#a7ff58 45px,#fcff03 118px,#ffeb00 170px,#ffc700 196px,#ff6d00 238px,#ff6300 242px,#ff2f00 249px,#ff0600 291px)"></div><div style="left:192.0px;width:2.6px;background:linear-gradient(#57ffa8 0px,#9eff61 44px,#f3ff0c 118px,#fff400 170px,#ffd100 195px,#ff7600 238px,#ff6a00 242px,#ff3700 249px,#ff0f00 291px)"></div><div style="left:194.0px;width:2.6px;background:linear-gradient(#00a5ff 0px,#0ff 48px,#cf3 117px,#ff0 162px,#ffa200 237px,#ff8400 291px)"></div><div style="left:196.0px;width:2.6px;background:linear-gradient(#0091ff 0px,#00e0ff 43px,#01fffe 54px,#bf4 117px,#ff0 177px,#ffe300 194px,#ffb300 237px,#ff9500 291px)"></div><div style="left:198.0px;width:2.6px;background:linear-gradient(#0072ff 0px,#01fffe 56px,#b5ff4a 117px,#ff0 181px,#ffb900 237px,#ff9b00 291px)"></div><div style="left:200.0px;width:2.6px;background:linear-gradient(#0056ff 0px,#0071ff 11px,#00d6ff 35px,#02fffd 51px,#c4ff3b 117px,#f8ff07 163px,#fffe00 172px,#ffd900 194px,#ffa900 237px,#ff8b00 291px)"></div><div style="left:202.0px;width:2.6px;background:linear-gradient(#002dff 0px,#004eff 11px,#00dcff 35px,#03fffc 48px,#ceff31 117px,#ff0 160px,#ffa000 237px,#ff8200 291px)"></div><div style="left:204.0px;width:2.6px;background:linear-gradient(#0015ff 0px,#02f 6px,#003bff 11px,#00d6ff 31px,#01fffe 39px,#d2ff2d 109px,#e6ff19 118px,#ff0 140px,#ffe200 170px,#ffba00 194px,#ff8a00 237px,#ff6b00 291px)"></div><div style="left:206.0px;width:2.6px;background:linear-gradient(#0004ff 0px,#0012ff 6px,#002dff 11px,#00d6ff 30px,#01fffe 36px,#df2 108px,#feff01 128px,#ffd500 170px,#ffac00 194px,#ff7c00 237px,#ff5e00 291px)"></div><div style="left:208.0px;width:2.6px;background:linear-gradient(#0000da 0px,#0000e4 5px,#0004ff 11px,#00d0ff 34px,#00eaff 39px,#0ff 47px,#ceff31 117px,#ff0 160px,#ff9f00 237px,#ff8100 291px)"></div><div style="left:210.0px;width:2.6px;background:linear-gradient(#0000c3 0px,#0000d5 7px,#0000fc 13px,#0092ff 29px,#00c0ff 35px,#00d4ff 39px,#01fffe 55px,#b8ff47 117px,#ff0 179px,#ffb600 237px,#ff9800 291px)"></div><div style="left:212.0px;width:2.6px;background:linear-gradient(#0000dc 0px,#0000e6 5px,#00f 10px,#00d2ff 34px,#00ecff 39px,#02fffd 47px,#beff41 109px,#d2ff2d 118px,#feff01 158px,#ff9e00 237px,#ff7f00 291px)"></div><div style="left:214.0px;width:2.6px;background:linear-gradient(#0000ec 0px,#0000fe 7px,#0010ff 10px,#003fff 16px,#0cf 31px,#00efff 36px,#0ff 40px,#ceff31 109px,#e2ff1d 118px,#ff0 144px,#ffe600 170px,#ffbe00 194px,#ff8e00 237px,#ff7000 291px)"></div><div style="left:216.0px;width:2.6px;background:linear-gradient(#0000e5 0px,#0003ff 9px,#002fff 15px,#00d5ff 33px,#00f2ff 38px,#02fffd 44px,#c8ff37 109px,#dcff23 118px,#ff0 150px,#ff9400 237px,#ff7600 291px)"></div><div style="left:218.0px;width:2.6px;background:linear-gradient(#0000e6 0px,#0004ff 9px,#0031ff 15px,#00d6ff 33px,#00f3ff 38px,#0ff 43px,#c9ff36 109px,#df2 118px,#ff0 149px,#ffeb00 170px,#ffc300 194px,#ff9300 237px,#ff7500 291px)"></div><div style="left:220.0px;width:2.0px;background:linear-gradient(#0000f0 0px,#0000fe 6px,#0014ff 10px,#0043ff 16px,#00d0ff 31px,#01fffe 39px,#d3ff2c 109px,#e6ff19 118px,#ff0 140px,#ffe100 170px,#ffb900 194px,#ff8900 237px,#ff6b00 291px)"></div></div>
<svg width="1455" height="2363" viewBox="0 0 1455 2363" font-family='"Liberation Sans", sans-serif'>
<defs><clipPath id="clipa"><rect x="211.2" y="186.8" width="905.4" height="360.1"/></clipPath><clipPath id="clipb"><rect x="209.8" y="752.9" width="900.3" height="356.9"/></clipPath><clipPath id="clipc"><rect x="207.5" y="1295.5" width="902.5" height="355.9"/></clipPath><clipPath id="clipd"><rect x="214.3" y="1850.9" width="904.7" height="385.1"/></clipPath></defs>
<rect x="211.2" y="186.8" width="905.4" height="360.1" fill="none" stroke="#dcdcdc" stroke-width="1.3"/>
<line x1="201.7" y1="546.9" x2="1116.6" y2="546.9" stroke="#d4d4d4" stroke-width="1.8"/>
<text transform="translate(182.5,557.5) scale(0.98,1)" font-size="30" text-anchor="end" fill="#111">-10</text>
<line x1="201.7" y1="486.9" x2="1116.6" y2="486.9" stroke="#d4d4d4" stroke-width="1.8"/>
<text transform="translate(182.5,497.5) scale(0.98,1)" font-size="30" text-anchor="end" fill="#111">-5</text>
<line x1="201.7" y1="426.9" x2="1116.6" y2="426.9" stroke="#d4d4d4" stroke-width="1.8"/>
<text transform="translate(182.5,437.5) scale(0.98,1)" font-size="30" text-anchor="end" fill="#111">0</text>
<line x1="201.7" y1="366.9" x2="1116.6" y2="366.9" stroke="#d4d4d4" stroke-width="1.8"/>
<text transform="translate(182.5,377.5) scale(0.98,1)" font-size="30" text-anchor="end" fill="#111">5</text>
<line x1="201.7" y1="306.8" x2="1116.6" y2="306.8" stroke="#d4d4d4" stroke-width="1.8"/>
<text transform="translate(182.5,317.4) scale(0.98,1)" font-size="30" text-anchor="end" fill="#111">10</text>
<line x1="201.7" y1="246.8" x2="1116.6" y2="246.8" stroke="#d4d4d4" stroke-width="1.8"/>
<text transform="translate(182.5,257.4) scale(0.98,1)" font-size="30" text-anchor="end" fill="#111">15</text>
<line x1="201.7" y1="186.8" x2="1116.6" y2="186.8" stroke="#d4d4d4" stroke-width="1.8"/>
<text transform="translate(182.5,197.4) scale(0.98,1)" font-size="30" text-anchor="end" fill="#111">20</text>
<line x1="211.2" y1="186.8" x2="211.2" y2="547.9" stroke="#cfcfcf" stroke-width="1.8"/>
<line x1="211.2" y1="546.9" x2="211.2" y2="556.9" stroke="#cfcfcf" stroke-width="1.6"/>
<text transform="translate(211.2,598.1) scale(0.97,1)" font-size="30" text-anchor="middle" fill="#111">0</text>
<line x1="399.8" y1="546.9" x2="399.8" y2="556.9" stroke="#cfcfcf" stroke-width="1.6"/>
<text transform="translate(399.8,598.1) scale(0.97,1)" font-size="30" text-anchor="middle" fill="#111">500</text>
<line x1="588.4" y1="546.9" x2="588.4" y2="556.9" stroke="#cfcfcf" stroke-width="1.6"/>
<text transform="translate(588.4,598.1) scale(0.97,1)" font-size="30" text-anchor="middle" fill="#111">1000</text>
<line x1="777.1" y1="546.9" x2="777.1" y2="556.9" stroke="#cfcfcf" stroke-width="1.6"/>
<text transform="translate(777.1,598.1) scale(0.97,1)" font-size="30" text-anchor="middle" fill="#111">1500</text>
<line x1="965.7" y1="546.9" x2="965.7" y2="556.9" stroke="#cfcfcf" stroke-width="1.6"/>
<text transform="translate(965.7,598.1) scale(0.97,1)" font-size="30" text-anchor="middle" fill="#111">2000</text>
<text x="531.9" y="635.7" font-size="39" font-weight="bold" textLength="334.0" lengthAdjust="spacingAndGlyphs">Fiber Length (mm)</text>
<text transform="translate(125.3,463.7) rotate(-90)" x="0" y="0" font-size="40" font-weight="bold" textLength="189.9" lengthAdjust="spacingAndGlyphs">Strain (με)</text>
<text transform="translate(48.9,114.2) scale(0.853,1)" x="0" y="0" font-size="81.8" font-weight="bold">a</text>
<text x="319.0" y="229.5" font-size="31.5" text-anchor="middle" font-weight="bold" fill="#000" >O</text>
<text x="401.3" y="222.4" font-size="28.5" text-anchor="middle" font-weight="bold" fill="#e01f30" >1</text>
<text x="507.0" y="222.0" font-size="28.5" text-anchor="middle" font-weight="bold" fill="#1b3a9c" >2</text>
<text x="634.4" y="225.0" font-size="28.5" text-anchor="middle" font-weight="bold" fill="#e31ccb" >3</text>
<text x="745.7" y="228.0" font-size="28.5" text-anchor="middle" font-weight="bold" fill="#000" >4</text>
<text x="866.0" y="225.0" font-size="28.5" text-anchor="middle" font-weight="bold" fill="#8a4b22" >5</text>
<text x="985.6" y="222.0" font-size="28.5" text-anchor="middle" font-weight="bold" fill="#1ea564" >6</text>
<text x="1058.5" y="230.0" font-size="31.5" text-anchor="middle" font-weight="bold" fill="#000" >P</text>
<text x="456.3" y="529.3" font-size="31.5" text-anchor="middle" font-weight="bold" fill="#5b2f96" >A</text>
<text x="576.0" y="498.7" font-size="31.5" text-anchor="middle" font-weight="bold" fill="#1eb0e0" >B</text>
<text x="687.8" y="529.6" font-size="31.5" text-anchor="middle" font-weight="bold" fill="#5b2f96" >C</text>
<text x="807.0" y="497.8" font-size="31.5" text-anchor="middle" font-weight="bold" fill="#1eb0e0" >D</text>
<text x="926.0" y="528.3" font-size="31.5" text-anchor="middle" font-weight="bold" fill="#5b2f96" >E</text>
<rect x="209.8" y="752.9" width="900.3" height="356.9" fill="none" stroke="#dcdcdc" stroke-width="1.3"/>
<line x1="200.3" y1="1109.8" x2="1110.1" y2="1109.8" stroke="#d4d4d4" stroke-width="1.8"/>
<text transform="translate(180.7,1120.4) scale(0.98,1)" font-size="30" text-anchor="end" fill="#111">-10</text>
<line x1="200.3" y1="1050.3" x2="1110.1" y2="1050.3" stroke="#d4d4d4" stroke-width="1.8"/>
<text transform="translate(180.7,1060.9) scale(0.98,1)" font-size="30" text-anchor="end" fill="#111">-5</text>
<line x1="200.3" y1="990.8" x2="1110.1" y2="990.8" stroke="#d4d4d4" stroke-width="1.8"/>
<text transform="translate(180.7,1001.4) scale(0.98,1)" font-size="30" text-anchor="end" fill="#111">0</text>
<line x1="200.3" y1="931.3" x2="1110.1" y2="931.3" stroke="#d4d4d4" stroke-width="1.8"/>
<text transform="translate(180.7,941.9) scale(0.98,1)" font-size="30" text-anchor="end" fill="#111">5</text>
<line x1="200.3" y1="871.9" x2="1110.1" y2="871.9" stroke="#d4d4d4" stroke-width="1.8"/>
<text transform="translate(180.7,882.5) scale(0.98,1)" font-size="30" text-anchor="end" fill="#111">10</text>
<line x1="200.3" y1="812.4" x2="1110.1" y2="812.4" stroke="#d4d4d4" stroke-width="1.8"/>
<text transform="translate(180.7,823.0) scale(0.98,1)" font-size="30" text-anchor="end" fill="#111">15</text>
<line x1="200.3" y1="752.9" x2="1110.1" y2="752.9" stroke="#d4d4d4" stroke-width="1.8"/>
<text transform="translate(180.7,763.5) scale(0.98,1)" font-size="30" text-anchor="end" fill="#111">20</text>
<line x1="209.8" y1="752.9" x2="209.8" y2="1110.8" stroke="#cfcfcf" stroke-width="1.8"/>
<line x1="209.8" y1="1109.8" x2="209.8" y2="1119.8" stroke="#cfcfcf" stroke-width="1.6"/>
<text transform="translate(209.8,1161.6) scale(0.97,1)" font-size="30" text-anchor="middle" fill="#111">0</text>
<line x1="397.4" y1="1109.8" x2="397.4" y2="1119.8" stroke="#cfcfcf" stroke-width="1.6"/>
<text transform="translate(397.4,1161.6) scale(0.97,1)" font-size="30" text-anchor="middle" fill="#111">500</text>
<line x1="584.9" y1="1109.8" x2="584.9" y2="1119.8" stroke="#cfcfcf" stroke-width="1.6"/>
<text transform="translate(584.9,1161.6) scale(0.97,1)" font-size="30" text-anchor="middle" fill="#111">1000</text>
<line x1="772.5" y1="1109.8" x2="772.5" y2="1119.8" stroke="#cfcfcf" stroke-width="1.6"/>
<text transform="translate(772.5,1161.6) scale(0.97,1)" font-size="30" text-anchor="middle" fill="#111">1500</text>
<line x1="960.0" y1="1109.8" x2="960.0" y2="1119.8" stroke="#cfcfcf" stroke-width="1.6"/>
<text transform="translate(960.0,1161.6) scale(0.97,1)" font-size="30" text-anchor="middle" fill="#111">2000</text>
<text x="510.5" y="1197.4" font-size="39" font-weight="bold" textLength="332.1" lengthAdjust="spacingAndGlyphs">Fiber Length (mm)</text>
<text transform="translate(119.8,1032.4) rotate(-90)" x="0" y="0" font-size="40" font-weight="bold" textLength="190.4" lengthAdjust="spacingAndGlyphs">Strain (με)</text>
<text transform="translate(46.9,790.2) scale(1.023,1)" x="0" y="0" font-size="84.7" font-weight="bold">b</text>
<text x="316.6" y="798.8" font-size="31.5" text-anchor="middle" font-weight="bold" fill="#000" >O</text>
<text x="399.0" y="792.0" font-size="28.5" text-anchor="middle" font-weight="bold" fill="#e01f30" >1</text>
<text x="503.3" y="791.3" font-size="28.5" text-anchor="middle" font-weight="bold" fill="#1b3a9c" >2</text>
<text x="629.3" y="794.6" font-size="28.5" text-anchor="middle" font-weight="bold" fill="#e31ccb" >3</text>
<text x="740.6" y="796.2" font-size="28.5" text-anchor="middle" font-weight="bold" fill="#000" >4</text>
<text x="860.4" y="793.5" font-size="28.5" text-anchor="middle" font-weight="bold" fill="#8a4b22" >5</text>
<text x="978.2" y="791.2" font-size="28.5" text-anchor="middle" font-weight="bold" fill="#1ea564" >6</text>
<text x="1051.7" y="797.2" font-size="31.5" text-anchor="middle" font-weight="bold" fill="#000" >P</text>
<text x="454.2" y="1097.3" font-size="31.5" text-anchor="middle" font-weight="bold" fill="#5b2f96" >A</text>
<text x="572.1" y="1066.0" font-size="31.5" text-anchor="middle" font-weight="bold" fill="#1eb0e0" >B</text>
<text x="682.9" y="1095.8" font-size="31.5" text-anchor="middle" font-weight="bold" fill="#5b2f96" >C</text>
<text x="802.3" y="1065.1" font-size="31.5" text-anchor="middle" font-weight="bold" fill="#1eb0e0" >D</text>
<text x="919.8" y="1095.8" font-size="31.5" text-anchor="middle" font-weight="bold" fill="#5b2f96" >E</text>
<rect x="207.5" y="1295.5" width="902.5" height="355.9" fill="none" stroke="#dcdcdc" stroke-width="1.3"/>
<line x1="198.0" y1="1651.4" x2="1110.0" y2="1651.4" stroke="#d4d4d4" stroke-width="1.8"/>
<text transform="translate(179.1,1662.0) scale(0.98,1)" font-size="30" text-anchor="end" fill="#111">-10</text>
<line x1="198.0" y1="1592.1" x2="1110.0" y2="1592.1" stroke="#d4d4d4" stroke-width="1.8"/>
<text transform="translate(179.1,1602.7) scale(0.98,1)" font-size="30" text-anchor="end" fill="#111">-5</text>
<line x1="198.0" y1="1532.8" x2="1110.0" y2="1532.8" stroke="#d4d4d4" stroke-width="1.8"/>
<text transform="translate(179.1,1543.4) scale(0.98,1)" font-size="30" text-anchor="end" fill="#111">0</text>
<line x1="198.0" y1="1473.5" x2="1110.0" y2="1473.5" stroke="#d4d4d4" stroke-width="1.8"/>
<text transform="translate(179.1,1484.0) scale(0.98,1)" font-size="30" text-anchor="end" fill="#111">5</text>
<line x1="198.0" y1="1414.1" x2="1110.0" y2="1414.1" stroke="#d4d4d4" stroke-width="1.8"/>
<text transform="translate(179.1,1424.7) scale(0.98,1)" font-size="30" text-anchor="end" fill="#111">10</text>
<line x1="198.0" y1="1354.8" x2="1110.0" y2="1354.8" stroke="#d4d4d4" stroke-width="1.8"/>
<text transform="translate(179.1,1365.4) scale(0.98,1)" font-size="30" text-anchor="end" fill="#111">15</text>
<line x1="198.0" y1="1295.5" x2="1110.0" y2="1295.5" stroke="#d4d4d4" stroke-width="1.8"/>
<text transform="translate(179.1,1306.1) scale(0.98,1)" font-size="30" text-anchor="end" fill="#111">20</text>
<line x1="207.5" y1="1295.5" x2="207.5" y2="1652.4" stroke="#cfcfcf" stroke-width="1.8"/>
<line x1="207.5" y1="1651.4" x2="207.5" y2="1661.4" stroke="#cfcfcf" stroke-width="1.6"/>
<text transform="translate(207.5,1703.3) scale(0.97,1)" font-size="30" text-anchor="middle" fill="#111">0</text>
<line x1="395.5" y1="1651.4" x2="395.5" y2="1661.4" stroke="#cfcfcf" stroke-width="1.6"/>
<text transform="translate(395.5,1703.3) scale(0.97,1)" font-size="30" text-anchor="middle" fill="#111">500</text>
<line x1="583.5" y1="1651.4" x2="583.5" y2="1661.4" stroke="#cfcfcf" stroke-width="1.6"/>
<text transform="translate(583.5,1703.3) scale(0.97,1)" font-size="30" text-anchor="middle" fill="#111">1000</text>
<line x1="771.6" y1="1651.4" x2="771.6" y2="1661.4" stroke="#cfcfcf" stroke-width="1.6"/>
<text transform="translate(771.6,1703.3) scale(0.97,1)" font-size="30" text-anchor="middle" fill="#111">1500</text>
<line x1="959.6" y1="1651.4" x2="959.6" y2="1661.4" stroke="#cfcfcf" stroke-width="1.6"/>
<text transform="translate(959.6,1703.3) scale(0.97,1)" font-size="30" text-anchor="middle" fill="#111">2000</text>
<text x="500.9" y="1738.7" font-size="39" font-weight="bold" textLength="332.1" lengthAdjust="spacingAndGlyphs">Fiber Length (mm)</text>
<text transform="translate(119.0,1577.4) rotate(-90)" x="0" y="0" font-size="40" font-weight="bold" textLength="189.7" lengthAdjust="spacingAndGlyphs">Strain (με)</text>
<text transform="translate(51.9,1327.1) scale(0.901,1)" x="0" y="0" font-size="76.5" font-weight="bold">c</text>
<text x="315.3" y="1344.3" font-size="31.5" text-anchor="middle" font-weight="bold" fill="#000" >O</text>
<text x="397.4" y="1337.8" font-size="28.5" text-anchor="middle" font-weight="bold" fill="#e01f30" >1</text>
<text x="501.7" y="1337.8" font-size="28.5" text-anchor="middle" font-weight="bold" fill="#1b3a9c" >2</text>
<text x="627.7" y="1340.0" font-size="28.5" text-anchor="middle" font-weight="bold" fill="#e31ccb" >3</text>
<text x="740.6" y="1342.8" font-size="28.5" text-anchor="middle" font-weight="bold" fill="#000" >4</text>
<text x="859.4" y="1339.5" font-size="28.5" text-anchor="middle" font-weight="bold" fill="#8a4b22" >5</text>
<text x="977.2" y="1337.8" font-size="28.5" text-anchor="middle" font-weight="bold" fill="#1ea564" >6</text>
<text x="1050.8" y="1343.8" font-size="31.5" text-anchor="middle" font-weight="bold" fill="#000" >P</text>
<text x="451.6" y="1642.4" font-size="31.5" text-anchor="middle" font-weight="bold" fill="#5b2f96" >A</text>
<text x="571.1" y="1611.4" font-size="31.5" text-anchor="middle" font-weight="bold" fill="#1eb0e0" >B</text>
<text x="682.2" y="1642.4" font-size="31.5" text-anchor="middle" font-weight="bold" fill="#5b2f96" >C</text>
<text x="801.7" y="1609.4" font-size="31.5" text-anchor="middle" font-weight="bold" fill="#1eb0e0" >D</text>
<text x="918.8" y="1641.4" font-size="31.5" text-anchor="middle" font-weight="bold" fill="#5b2f96" >E</text>
<rect x="214.3" y="1850.9" width="904.7" height="385.1" fill="none" stroke="#dcdcdc" stroke-width="1.3"/>
<line x1="204.8" y1="2236.0" x2="1119.0" y2="2236.0" stroke="#d4d4d4" stroke-width="1.8"/>
<text transform="translate(186.5,2246.6) scale(0.98,1)" font-size="30" text-anchor="end" fill="#111">-10</text>
<line x1="204.8" y1="2171.8" x2="1119.0" y2="2171.8" stroke="#d4d4d4" stroke-width="1.8"/>
<text transform="translate(186.5,2182.4) scale(0.98,1)" font-size="30" text-anchor="end" fill="#111">-5</text>
<line x1="204.8" y1="2107.6" x2="1119.0" y2="2107.6" stroke="#d4d4d4" stroke-width="1.8"/>
<text transform="translate(186.5,2118.2) scale(0.98,1)" font-size="30" text-anchor="end" fill="#111">0</text>
<line x1="204.8" y1="2043.4" x2="1119.0" y2="2043.4" stroke="#d4d4d4" stroke-width="1.8"/>
<text transform="translate(186.5,2054.0) scale(0.98,1)" font-size="30" text-anchor="end" fill="#111">5</text>
<line x1="204.8" y1="1979.3" x2="1119.0" y2="1979.3" stroke="#d4d4d4" stroke-width="1.8"/>
<text transform="translate(186.5,1989.9) scale(0.98,1)" font-size="30" text-anchor="end" fill="#111">10</text>
<line x1="204.8" y1="1915.1" x2="1119.0" y2="1915.1" stroke="#d4d4d4" stroke-width="1.8"/>
<text transform="translate(186.5,1925.7) scale(0.98,1)" font-size="30" text-anchor="end" fill="#111">15</text>
<line x1="204.8" y1="1850.9" x2="1119.0" y2="1850.9" stroke="#d4d4d4" stroke-width="1.8"/>
<text transform="translate(186.5,1861.5) scale(0.98,1)" font-size="30" text-anchor="end" fill="#111">20</text>
<line x1="214.3" y1="1850.9" x2="214.3" y2="2237.0" stroke="#cfcfcf" stroke-width="1.8"/>
<line x1="214.3" y1="2236.0" x2="214.3" y2="2246.0" stroke="#cfcfcf" stroke-width="1.6"/>
<text transform="translate(214.3,2290.1) scale(0.97,1)" font-size="30" text-anchor="middle" fill="#111">0</text>
<line x1="402.8" y1="2236.0" x2="402.8" y2="2246.0" stroke="#cfcfcf" stroke-width="1.6"/>
<text transform="translate(402.8,2290.1) scale(0.97,1)" font-size="30" text-anchor="middle" fill="#111">500</text>
<line x1="591.3" y1="2236.0" x2="591.3" y2="2246.0" stroke="#cfcfcf" stroke-width="1.6"/>
<text transform="translate(591.3,2290.1) scale(0.97,1)" font-size="30" text-anchor="middle" fill="#111">1000</text>
<line x1="779.7" y1="2236.0" x2="779.7" y2="2246.0" stroke="#cfcfcf" stroke-width="1.6"/>
<text transform="translate(779.7,2290.1) scale(0.97,1)" font-size="30" text-anchor="middle" fill="#111">1500</text>
<line x1="968.2" y1="2236.0" x2="968.2" y2="2246.0" stroke="#cfcfcf" stroke-width="1.6"/>
<text transform="translate(968.2,2290.1) scale(0.97,1)" font-size="30" text-anchor="middle" fill="#111">2000</text>
<text x="523.6" y="2328.4" font-size="39" font-weight="bold" textLength="333.5" lengthAdjust="spacingAndGlyphs">Fiber Length (mm)</text>
<text transform="translate(124.4,2151.8) rotate(-90)" x="0" y="0" font-size="40" font-weight="bold" textLength="192.8" lengthAdjust="spacingAndGlyphs">Strain (με)</text>
<text transform="translate(51.5,1872.6) scale(0.957,1)" x="0" y="0" font-size="87.1" font-weight="bold">d</text>
<text x="296.1" y="1895.0" font-size="31.5" text-anchor="middle" font-weight="bold" fill="#000" >O</text>
<text x="379.3" y="1888.0" font-size="28.5" text-anchor="middle" font-weight="bold" fill="#e01f30" >1</text>
<text x="484.5" y="1888.0" font-size="28.5" text-anchor="middle" font-weight="bold" fill="#1b3a9c" >2</text>
<text x="611.0" y="1891.0" font-size="28.5" text-anchor="middle" font-weight="bold" fill="#e31ccb" >3</text>
<text x="722.5" y="1893.2" font-size="28.5" text-anchor="middle" font-weight="bold" fill="#000" >4</text>
<text x="842.0" y="1889.8" font-size="28.5" text-anchor="middle" font-weight="bold" fill="#8a4b22" >5</text>
<text x="960.6" y="1887.2" font-size="28.5" text-anchor="middle" font-weight="bold" fill="#1ea564" >6</text>
<text x="1033.4" y="1894.9" font-size="31.5" text-anchor="middle" font-weight="bold" fill="#000" >P</text>
<text x="460.8" y="2218.5" font-size="31.5" text-anchor="middle" font-weight="bold" fill="#5b2f96" >A</text>
<text x="580.7" y="2185.1" font-size="31.5" text-anchor="middle" font-weight="bold" fill="#1eb0e0" >B</text>
<text x="691.2" y="2216.5" font-size="31.5" text-anchor="middle" font-weight="bold" fill="#5b2f96" >C</text>
<text x="812.4" y="2182.9" font-size="31.5" text-anchor="middle" font-weight="bold" fill="#1eb0e0" >D</text>
<text x="929.0" y="2215.5" font-size="31.5" text-anchor="middle" font-weight="bold" fill="#5b2f96" >E</text>
<line x1="227.0" y1="77.5" x2="255.0" y2="77.5" stroke="#4f6fc4" stroke-width="2.0"/>
<text transform="translate(259.3,85.9) scale(1.0,1)" font-size="23.5" fill="#111">0.5</text>
<line x1="327.5" y1="77.5" x2="355.5" y2="77.5" stroke="#d05050" stroke-width="2.0"/>
<text transform="translate(359.8,85.9) scale(1.0,1)" font-size="23.5" fill="#111">4</text>
<line x1="428.0" y1="77.5" x2="456.0" y2="77.5" stroke="#5cc0a0" stroke-width="2.0"/>
<text transform="translate(460.3,85.9) scale(1.0,1)" font-size="23.5" fill="#111">7</text>
<line x1="528.5" y1="77.5" x2="556.5" y2="77.5" stroke="#9a88b8" stroke-width="2.0"/>
<text transform="translate(560.8,85.9) scale(1.0,1)" font-size="23.5" fill="#111">10</text>
<line x1="629.0" y1="77.5" x2="657.0" y2="77.5" stroke="#2a8ea8" stroke-width="2.0"/>
<text transform="translate(661.3,85.9) scale(1.0,1)" font-size="23.5" fill="#111">15</text>
<line x1="729.5" y1="77.5" x2="757.5" y2="77.5" stroke="#e07d2a" stroke-width="2.0"/>
<text transform="translate(761.8,85.9) scale(1.0,1)" font-size="23.5" fill="#111">20</text>
<line x1="830.0" y1="77.5" x2="858.0" y2="77.5" stroke="#7088c4" stroke-width="2.0"/>
<text transform="translate(862.3,85.9) scale(1.0,1)" font-size="23.5" fill="#111">40</text>
<line x1="930.5" y1="77.5" x2="958.5" y2="77.5" stroke="#d88080" stroke-width="2.0"/>
<text transform="translate(962.8,85.9) scale(1.0,1)" font-size="23.5" fill="#111">50</text>
<line x1="1031.0" y1="77.5" x2="1059.0" y2="77.5" stroke="#8cc850" stroke-width="2.0"/>
<text transform="translate(1063.3,85.9) scale(1.0,1)" font-size="23.5" fill="#111">60</text>
<line x1="227.0" y1="116.9" x2="255.0" y2="116.9" stroke="#9088b4" stroke-width="2.0"/>
<text transform="translate(259.3,125.3) scale(1.0,1)" font-size="23.5" fill="#111">70</text>
<line x1="327.5" y1="116.9" x2="355.5" y2="116.9" stroke="#78b8cc" stroke-width="2.0"/>
<text transform="translate(359.8,125.3) scale(1.0,1)" font-size="23.5" fill="#111">80</text>
<line x1="428.0" y1="116.9" x2="456.0" y2="116.9" stroke="#f09a48" stroke-width="2.1"/>
<text transform="translate(460.3,125.3) scale(1.0,1)" font-size="23.5" fill="#111">90</text>
<line x1="528.5" y1="116.9" x2="556.5" y2="116.9" stroke="#b8bcdc" stroke-width="2.0"/>
<text transform="translate(560.8,125.3) scale(1.0,1)" font-size="23.5" fill="#111">100</text>
<line x1="629.0" y1="116.9" x2="657.0" y2="116.9" stroke="#e8a49c" stroke-width="2.0"/>
<text transform="translate(661.3,125.3) scale(1.0,1)" font-size="23.5" fill="#111">110</text>
<line x1="729.5" y1="116.9" x2="757.5" y2="116.9" stroke="#a8c468" stroke-width="2.0"/>
<text transform="translate(761.8,125.3) scale(1.0,1)" font-size="23.5" fill="#111">120</text>
<line x1="830.0" y1="116.9" x2="858.0" y2="116.9" stroke="#6b42a6" stroke-width="3.2"/>
<text transform="translate(862.3,125.3) scale(1.0,1)" font-size="23.5" fill="#111">130</text>
<line x1="930.5" y1="116.9" x2="958.5" y2="116.9" stroke="#4ebfdc" stroke-width="2.0"/>
<text transform="translate(962.8,125.3) scale(1.0,1)" font-size="23.5" fill="#111">140</text>
<line x1="1031.0" y1="116.9" x2="1059.0" y2="116.9" stroke="#f4a868" stroke-width="2.0"/>
<text transform="translate(1063.3,125.3) scale(1.0,1)" font-size="23.5" fill="#111">150</text>
<line x1="227.0" y1="155.5" x2="255.0" y2="155.5" stroke="#a4b4d8" stroke-width="2.0"/>
<text transform="translate(259.3,163.9) scale(1.0,1)" font-size="23.5" fill="#111">160</text>
<line x1="327.5" y1="155.5" x2="355.5" y2="155.5" stroke="#e8a4b0" stroke-width="2.0"/>
<text transform="translate(359.8,163.9) scale(1.0,1)" font-size="23.5" fill="#111">170</text>
<line x1="428.0" y1="155.5" x2="456.0" y2="155.5" stroke="#c8d898" stroke-width="2.0"/>
<text transform="translate(460.3,163.9) scale(1.0,1)" font-size="23.5" fill="#111">180</text>
<line x1="528.5" y1="155.5" x2="556.5" y2="155.5" stroke="#b8a4d8" stroke-width="2.0"/>
<text transform="translate(560.8,163.9) scale(1.0,1)" font-size="23.5" fill="#111">190</text>
<line x1="629.0" y1="155.5" x2="657.0" y2="155.5" stroke="#98d4e8" stroke-width="2.0"/>
<text transform="translate(661.3,163.9) scale(1.0,1)" font-size="23.5" fill="#111">200</text>
<line x1="729.5" y1="155.5" x2="757.5" y2="155.5" stroke="#f8c4a0" stroke-width="2.0"/>
<text transform="translate(761.8,163.9) scale(1.0,1)" font-size="23.5" fill="#111">210</text>
<line x1="830.0" y1="155.5" x2="858.0" y2="155.5" stroke="#000000" stroke-width="2.1"/>
<text transform="translate(862.3,163.9) scale(1.0,1)" font-size="23.5" fill="#111">234</text>
<line x1="333.6" y1="720.9" x2="362.6" y2="720.9" stroke="#4f6fc4" stroke-width="2.0"/>
<text transform="translate(364.8,729.1) scale(1.0,1)" font-size="23" fill="#111">0.5</text>
<line x1="413.0" y1="720.9" x2="442.0" y2="720.9" stroke="#d05050" stroke-width="2.0"/>
<text transform="translate(444.2,729.1) scale(1.0,1)" font-size="23" fill="#111">4</text>
<line x1="474.0" y1="720.9" x2="503.0" y2="720.9" stroke="#5cc0a0" stroke-width="2.0"/>
<text transform="translate(505.2,729.1) scale(1.0,1)" font-size="23" fill="#111">7</text>
<line x1="535.5" y1="720.9" x2="564.5" y2="720.9" stroke="#9a88b8" stroke-width="2.0"/>
<text transform="translate(566.7,729.1) scale(1.0,1)" font-size="23" fill="#111">10</text>
<line x1="608.0" y1="720.9" x2="637.0" y2="720.9" stroke="#2a8ea8" stroke-width="2.0"/>
<text transform="translate(639.2,729.1) scale(1.0,1)" font-size="23" fill="#111">15</text>
<line x1="683.0" y1="720.9" x2="712.0" y2="720.9" stroke="#e07d2a" stroke-width="2.0"/>
<text transform="translate(714.2,729.1) scale(1.0,1)" font-size="23" fill="#111">20</text>
<line x1="755.5" y1="720.9" x2="784.5" y2="720.9" stroke="#7088c4" stroke-width="2.0"/>
<text transform="translate(786.7,729.1) scale(1.0,1)" font-size="23" fill="#111">40</text>
<line x1="832.6" y1="720.9" x2="861.6" y2="720.9" stroke="#d88080" stroke-width="2.0"/>
<text transform="translate(863.8,729.1) scale(1.0,1)" font-size="23" fill="#111">50</text>
<line x1="905.0" y1="720.9" x2="934.0" y2="720.9" stroke="#8cc850" stroke-width="2.0"/>
<text transform="translate(936.2,729.1) scale(1.0,1)" font-size="23" fill="#111">60</text>
<line x1="464.2" y1="1260.3" x2="492.9" y2="1260.3" stroke="#9088b4" stroke-width="2.0"/>
<text transform="translate(497.2,1268.7) scale(1.0,1)" font-size="23.5" fill="#111">70</text>
<line x1="539.8" y1="1260.3" x2="568.5" y2="1260.3" stroke="#78b8cc" stroke-width="2.0"/>
<text transform="translate(572.8,1268.7) scale(1.0,1)" font-size="23.5" fill="#111">80</text>
<line x1="613.9" y1="1260.3" x2="642.6" y2="1260.3" stroke="#f09a48" stroke-width="2.1"/>
<text transform="translate(646.9,1268.7) scale(1.0,1)" font-size="23.5" fill="#111">90</text>
<line x1="688.0" y1="1260.3" x2="716.7" y2="1260.3" stroke="#b8bcdc" stroke-width="2.0"/>
<text transform="translate(721.0,1268.7) scale(1.0,1)" font-size="23.5" fill="#111">100</text>
<line x1="772.6" y1="1260.3" x2="801.3" y2="1260.3" stroke="#e8a49c" stroke-width="2.0"/>
<text transform="translate(805.6,1268.7) scale(1.0,1)" font-size="23.5" fill="#111">110</text>
<line x1="183.2" y1="1811.9" x2="214.2" y2="1811.9" stroke="#a8c468" stroke-width="2.0"/>
<text transform="translate(217.2,1820.6) scale(0.96,1)" font-size="24.5" fill="#111">120</text>
<line x1="270.0" y1="1811.9" x2="301.0" y2="1811.9" stroke="#6b42a6" stroke-width="3.2"/>
<text transform="translate(304.0,1820.6) scale(0.96,1)" font-size="24.5" fill="#111">130</text>
<line x1="356.9" y1="1811.9" x2="387.9" y2="1811.9" stroke="#4ebfdc" stroke-width="2.0"/>
<text transform="translate(390.9,1820.6) scale(0.96,1)" font-size="24.5" fill="#111">140</text>
<line x1="443.7" y1="1811.9" x2="474.7" y2="1811.9" stroke="#f4a868" stroke-width="2.0"/>
<text transform="translate(477.7,1820.6) scale(0.96,1)" font-size="24.5" fill="#111">150</text>
<line x1="530.6" y1="1811.9" x2="561.6" y2="1811.9" stroke="#a4b4d8" stroke-width="2.0"/>
<text transform="translate(564.6,1820.6) scale(0.96,1)" font-size="24.5" fill="#111">160</text>
<line x1="617.5" y1="1811.9" x2="648.5" y2="1811.9" stroke="#e8a4b0" stroke-width="2.0"/>
<text transform="translate(651.5,1820.6) scale(0.96,1)" font-size="24.5" fill="#111">170</text>
<line x1="704.3" y1="1811.9" x2="735.3" y2="1811.9" stroke="#c8d898" stroke-width="2.0"/>
<text transform="translate(738.3,1820.6) scale(0.96,1)" font-size="24.5" fill="#111">180</text>
<line x1="791.1" y1="1811.9" x2="822.1" y2="1811.9" stroke="#b8a4d8" stroke-width="2.0"/>
<text transform="translate(825.1,1820.6) scale(0.96,1)" font-size="24.5" fill="#111">190</text>
<line x1="878.0" y1="1811.9" x2="909.0" y2="1811.9" stroke="#98d4e8" stroke-width="2.0"/>
<text transform="translate(912.0,1820.6) scale(0.96,1)" font-size="24.5" fill="#111">200</text>
<line x1="964.8" y1="1811.9" x2="995.8" y2="1811.9" stroke="#f8c4a0" stroke-width="2.0"/>
<text transform="translate(998.8,1820.6) scale(0.96,1)" font-size="24.5" fill="#111">210</text>
<line x1="1051.7" y1="1811.9" x2="1082.7" y2="1811.9" stroke="#000000" stroke-width="2.1"/>
<text transform="translate(1085.7,1820.6) scale(0.96,1)" font-size="24.5" fill="#111">234</text>
<g clip-path="url(#clipa)" fill="none" stroke-linejoin="round">
<path transform="translate(241.38,426.87) scale(2.26350,0.60017)" vector-effect="non-scaling-stroke" stroke="#4f6fc4" stroke-width="2.30" d="M0-18 l1-29 1 24 1-6 1 16 1-9 1 18 1-16 1 8 1 9 1-20 1 4 1 17 1-14 1 17 1-16 1-1 1 21 1-18 1-5 1 0 1 10 1-6 1 15 1-12 1-7 1 23 1-11 1-14 1 2 1 9 1 0 1 17 1-5 1 11 1-9 1-5 1 11 1-6 1-8 1 11 1-7 1 0 1-12 1 11 1 17 1-18 1-16 1 15 1 4 1-10 1 11 1-8 1 3 1-5 1 12 1-6 1 15 1-8 1-1 1-2 1-5 1 12 1-8 1 11 1-7 1-3 1 5 1-10 1 6 1-8 1 20 1-17 1-9 1 14 1-10 1-4 1 5 1 7 1-13 1 13 1-2 1 11 1-22 1 22 1 2 1-12 1 1 1-2 1-6 1 2 1 6 1-7 1-6 1 12 1-1 1-3 1 3 1 0 1-12 1 10 1 24 1-18 1-5 1 7 1 9 1-15 1 0 1 1 1-3 1-12 1-1 1 18 1-7 1-8 1 2 1 9 1-7 1 15 1-11 1 2 1 3 1-9 1 10 1-3 1-6 1 7 1-13 1 24 1 1 1-12 1 4 1-13 1 1 1 7 1 11 1-21 1 15 1-3 1 0 1 0 1 2 1 10 1 0 1-6 1 13 1 22 1 15 1-2 1-7 1-27 1-23 1 28 1-28 1 0 1-10 1 18 1-8 1 2 1 9 1 15 1-6 1-6 1-10 1 2 1 0 1 9 1-4 1-16 1 17 1-11 1-3 1 0 1 7 1-9 1 12 1 1 1-9 1-10 1 2 1 0 1 9 1-7 1 21 1-23 1 0 1 7 1-9 1 10 1 1 1 4 1-14 1 13 1 2 1-4 1-11 1 4 1 13 1 7 1-7 1 11 1-11 1 0 1-17 1 1 1 13 1-17 1 8 1-2 1 10 1-6 1 0 1 14 1-2 1-7 1-3 1 0 1 2 1-7 1 1 1 3 1 17 1-13 1-8 1 18 1-25 1 24 1-14 1 3 1-10 1 14 1-4 1-15 1 14 1-10 1 12 1 2 1-8 1 14 1-28 1 12 1 5 1-9 1-9 1 20 1-7 1 26 1 7 1 8 1-4 1 2 1 13 1-25 1-8 1 4 1-12 1 23 1-34 1-7 1 27 1-8 1 7 1-7 1-10 1 8 1-3 1 0 1 14 1-8 1 7 1-17 1 9 1 15 1-21 1-1 1 21 1-28 1-3 1 7 1-8 1 14 1 3 1 16 1-19 1-10 1 9 1 2 1-1 1 10 1 0 1-5 1-5 1-11 1-5 1 33 1-9 1-3 1-10 1-3 1 6 1-12 1 6 1-6 1 11 1-7 1 4 1 3 1 9 1-1 1-2 1 26 1-9 1 0 1-14 1 3 1-2 1-9 1 20 1-10 1-4 1 12 1-7 1-5 1 5 1 10 1-32 1 11 1 1 1 0 1-5 1 9 1-3 1-1 1 1 1-16 1 24 1 3 1-17 1 0 1-7 1 16 1-4 1-3 1-9 1 6 1 0 1-8 1 22 1 0 1-8 1 8 1-3 1-15 1 28 1-13 1 22 1-4 1 22 1-10 1 25 1-17 1 2 1-21 1-2 1 1 1-9 1-1"/>
<path transform="translate(241.38,426.87) scale(2.26350,0.60017)" vector-effect="non-scaling-stroke" stroke="#d05050" stroke-width="2.30" d="M0 95 l1-31 1 25 1-5 1-1 1 7 1-1 1-12 1-8 1 30 1-30 1 5 1 2 1-3 1 9 1-11 1 1 1 9 1-4 1-23 1-23 1-7 1-16 1 4 1-19 1-2 1 12 1-13 1-14 1-7 1 27 1-16 1 9 1 5 1 8 1-27 1 1 1 21 1 0 1-16 1 5 1-1 1-4 1 3 1-5 1 6 1 3 1 1 1-12 1 7 1-6 1 5 1-6 1-5 1 7 1 12 1-13 1 16 1-22 1 23 1-11 1-6 1 13 1-7 1 10 1 5 1-20 1 15 1-16 1 23 1-15 1-2 1-12 1 16 1-5 1-9 1-8 1 25 1-11 1-4 1 2 1 5 1 27 1-34 1 19 1-18 1 19 1-22 1 14 1-17 1 18 1-18 1 0 1 9 1 7 1-13 1-2 1 14 1-3 1-1 1-1 1 22 1-4 1-12 1-5 1 31 1-36 1 4 1 1 1-5 1-3 1-5 1 6 1 5 1-12 1 8 1 4 1-4 1 10 1 0 1 2 1 1 1-16 1 6 1 2 1-14 1 12 1-5 1 8 1 14 1-24 1 9 1-1 1-8 1 19 1-2 1 4 1-10 1-11 1-9 1 32 1-14 1 27 1-10 1-7 1-5 1 19 1 6 1 16 1-8 1-27 1-9 1 19 1-35 1 8 1 8 1 25 1-8 1-7 1 2 1 17 1-16 1-8 1-1 1 10 1-3 1-4 1 0 1-28 1 16 1 3 1 2 1-2 1-4 1 14 1 10 1-21 1-13 1-5 1 19 1-1 1 0 1-10 1 24 1-22 1 11 1 2 1-27 1 13 1 6 1 16 1-12 1 0 1 17 1-20 1-4 1 3 1 15 1 0 1-12 1 32 1-34 1-4 1 2 1 1 1 15 1-21 1 3 1-1 1-4 1 14 1 1 1 3 1 13 1-16 1-1 1 4 1-9 1-8 1 7 1-8 1 28 1-10 1-22 1 21 1-3 1 11 1-22 1 16 1 5 1-7 1-12 1-4 1 14 1-31 1 43 1-8 1-11 1 5 1-7 1-6 1-2 1 18 1-22 1 4 1 15 1 14 1 11 1 3 1-7 1-9 1 10 1-15 1 2 1 1 1-10 1 12 1-21 1-5 1 21 1-4 1 6 1 9 1-28 1 23 1-20 1 19 1-7 1 7 1-12 1 14 1-3 1-5 1 7 1-10 1 19 1-32 1 2 1-8 1 10 1 17 1-10 1 16 1-18 1-8 1 2 1 9 1 0 1 17 1-1 1-18 1-1 1-7 1-6 1 9 1 19 1-20 1 9 1-23 1 18 1-5 1-10 1-2 1 16 1 4 1-14 1 23 1-8 1-4 1 1 1 20 1-2 1 4 1-21 1 8 1-6 1-22 1 25 1 4 1-1 1-1 1-7 1 5 1-9 1 20 1-26 1-5 1 5 1 15 1-13 1 8 1-16 1 27 1-21 1 3 1 12 1-5 1 3 1-10 1-1 1 13 1-1 1-8 1-7 1 9 1-4 1-8 1-2 1 15 1 3 1-10 1 21 1-20 1 6 1 0 1 14 1-12 1 35 1-12 1 22 1-14 1 0 1-6 1-1 1-8 1-3 1-6"/>
<path transform="translate(241.38,426.87) scale(2.26350,0.60017)" vector-effect="non-scaling-stroke" stroke="#5cc0a0" stroke-width="2.30" d="M0 76 l1-5 1 15 1-13 1 1 1 13 1 9 1-13 1-2 1 10 1-28 1 1 1 24 1-18 1 9 1-4 1-21 1 19 1-7 1-29 1-5 1-12 1-11 1-5 1-16 1 0 1 17 1-8 1-28 1 13 1-2 1 1 1 15 1-4 1 7 1-22 1 24 1-3 1-1 1-9 1 1 1 2 1-17 1 5 1 0 1 15 1-15 1-6 1 13 1-4 1 1 1-6 1 12 1-6 1-5 1 2 1 12 1-3 1-10 1 21 1-15 1-12 1 14 1-2 1 8 1-8 1-12 1 18 1-6 1 3 1-11 1 11 1-15 1 5 1-10 1 7 1-5 1 8 1-3 1 0 1 4 1 8 1-3 1-5 1 7 1-5 1 0 1-2 1-9 1 20 1-24 1 16 1-11 1 10 1 1 1-6 1 14 1-11 1 8 1-7 1 2 1 3 1-14 1 5 1 14 1-2 1-5 1-4 1-11 1 14 1-14 1-3 1 8 1-9 1 15 1-12 1 2 1-5 1 14 1 0 1 17 1-15 1-16 1 7 1-7 1 1 1-2 1 5 1 13 1 8 1-15 1 1 1-10 1 18 1-12 1 15 1-6 1-10 1 7 1 10 1 8 1-10 1 22 1-25 1-7 1 19 1 1 1 9 1 6 1-1 1-12 1-33 1 45 1-30 1 0 1 2 1 2 1 13 1-21 1 14 1 8 1-5 1-11 1 8 1-15 1 1 1 23 1-16 1-15 1 21 1-8 1-8 1 2 1-12 1 14 1 7 1-3 1 3 1 1 1-9 1-3 1-9 1 0 1 36 1-30 1-3 1 13 1-28 1 28 1-8 1 14 1-10 1 14 1-11 1 5 1 10 1-21 1 15 1 7 1-5 1 16 1 1 1-37 1 4 1 15 1-7 1-14 1 1 1 22 1-18 1 24 1-20 1 11 1 11 1-19 1 14 1-18 1 6 1-17 1 2 1 8 1 30 1-11 1-19 1 3 1-17 1 28 1-26 1 12 1-3 1 7 1 9 1-16 1 13 1-15 1 11 1 6 1-16 1 10 1-15 1 9 1 1 1 2 1-17 1 15 1 5 1 16 1 5 1-3 1 3 1-11 1 18 1-26 1-2 1 7 1-19 1 34 1-17 1-23 1 30 1-24 1 21 1-18 1-2 1 17 1-14 1 16 1 2 1-4 1-5 1 1 1 0 1 27 1-29 1 2 1 13 1-12 1-6 1-11 1 11 1 13 1 3 1 6 1-15 1-12 1 15 1-1 1-9 1 17 1-2 1-18 1 13 1-4 1-29 1 42 1-8 1-6 1-5 1-3 1 8 1-13 1 4 1-12 1 16 1 0 1-1 1 1 1 7 1 4 1-10 1 15 1 0 1 0 1-10 1 4 1-4 1-13 1 24 1-11 1 2 1 10 1-34 1 22 1 1 1 15 1-39 1 8 1-1 1 16 1-15 1 9 1-10 1 19 1-24 1 8 1 18 1 4 1-27 1 14 1-10 1 16 1 6 1-20 1-6 1-8 1 8 1 14 1 5 1-5 1 11 1-21 1 0 1 9 1-1 1-5 1 34 1-29 1 36 1 4 1 8 1-20 1 11 1-19 1 0 1-8 1 1 1 0"/>
<path transform="translate(241.38,426.87) scale(2.26350,0.60017)" vector-effect="non-scaling-stroke" stroke="#9a88b8" stroke-width="2.30" d="M0 104 l1-21 1 19 1 3 1-6 1 1 1 10 1-17 1 8 1 13 1-37 1-1 1 27 1-7 1 6 1-14 1 4 1 13 1-30 1-9 1-14 1-15 1-15 1 3 1-11 1 2 1 9 1-19 1-4 1-1 1 10 1 7 1 27 1-1 1 2 1-30 1 3 1 19 1 12 1-24 1 11 1-6 1-2 1-3 1-7 1 3 1-17 1-16 1 14 1-6 1-14 1 13 1-17 1 3 1-6 1 10 1-11 1 17 1-14 1 10 1-7 1-6 1 23 1-8 1-2 1-4 1-25 1 22 1-7 1 15 1-8 1 4 1-13 1-14 1 31 1-16 1-14 1 18 1 11 1-16 1 4 1-6 1 25 1-33 1 13 1-3 1 16 1-14 1-4 1 1 1 12 1 2 1-13 1 4 1-15 1 12 1 2 1 3 1 8 1-13 1 20 1-6 1-9 1-8 1 12 1 17 1-28 1 4 1-4 1 4 1-9 1 6 1 13 1-17 1 8 1 7 1-21 1 7 1 0 1 4 1 18 1-2 1-20 1 6 1-15 1 10 1-8 1 5 1 23 1-7 1-5 1 2 1-14 1 6 1 10 1 10 1-24 1 19 1-18 1 1 1 20 1-23 1 32 1-10 1-2 1 5 1 16 1 10 1 12 1-6 1-28 1-21 1 10 1-15 1 8 1-8 1 15 1 4 1-7 1 16 1 5 1-14 1-1 1 3 1-12 1 5 1-5 1 14 1-17 1 2 1 3 1 4 1-21 1-1 1 10 1 3 1-8 1 8 1-7 1 8 1 0 1-12 1-3 1 20 1-16 1 9 1-6 1-9 1 20 1-4 1 8 1-11 1-2 1 12 1-24 1 20 1-10 1 7 1 13 1 1 1 12 1-12 1-18 1-4 1 1 1 10 1-7 1 3 1-19 1 4 1 26 1-11 1 7 1 6 1-5 1 3 1-11 1 9 1-30 1 19 1 2 1 10 1-1 1-36 1 25 1-7 1 24 1-22 1 12 1-11 1 13 1 9 1-28 1 22 1-26 1 18 1 0 1-4 1 13 1-27 1 15 1-10 1 11 1-18 1 23 1-6 1 25 1 10 1-1 1 6 1-14 1 15 1-32 1 1 1 3 1-18 1 26 1-22 1-9 1 10 1 7 1 0 1-4 1-2 1 4 1 1 1 9 1-8 1-5 1 5 1-6 1 9 1 3 1-7 1-8 1 29 1-35 1 5 1-11 1 8 1 25 1-10 1 18 1-19 1-8 1-5 1 7 1 26 1-21 1 6 1-18 1 10 1-7 1-4 1 24 1-9 1 0 1-2 1-7 1 4 1-1 1-9 1 7 1 6 1-10 1 0 1 8 1-5 1 10 1-2 1 25 1-15 1 5 1-3 1-16 1 0 1-2 1 16 1 0 1-1 1 3 1-22 1 11 1 4 1 19 1-37 1 1 1 14 1-5 1-12 1 1 1 4 1 3 1 5 1 1 1 0 1 11 1-19 1-3 1-14 1 33 1-13 1 2 1-16 1 7 1 7 1-14 1 18 1 4 1-8 1 6 1-9 1-10 1 17 1-4 1 30 1-6 1 29 1-21 1 25 1-15 1-14 1 8 1-19 1 20 1-26 1 2"/>
<path transform="translate(241.38,426.87) scale(2.26350,0.60017)" vector-effect="non-scaling-stroke" stroke="#2a8ea8" stroke-width="2.30" d="M0 74 l1-24 1 14 1 4 1-9 1 8 1 9 1-17 1 12 1 9 1-31 1 17 1 15 1-21 1 11 1-4 1-16 1 13 1-1 1-34 1-8 1-24 1-19 1 15 1-14 1 14 1-2 1-14 1-10 1-1 1 1 1-2 1 25 1 6 1 0 1-18 1 3 1 7 1-3 1-5 1-6 1 6 1-13 1 4 1 11 1 7 1-18 1-13 1 11 1 3 1-12 1 12 1 1 1-14 1 11 1 11 1-9 1 6 1 1 1 8 1-5 1-22 1 28 1-8 1 15 1-13 1-25 1 40 1-29 1 8 1 7 1 2 1-16 1-9 1 27 1-7 1-19 1 3 1 15 1-11 1-5 1 16 1 13 1-36 1 2 1 2 1 0 1-31 1-18 1-9 1 7 1-11 1-32 1-8 1 20 1 18 1-14 1 13 1-1 1-19 1 3 1 38 1-26 1-2 1 38 1 17 1 0 1 10 1 17 1-13 1-5 1 2 1 21 1-20 1-2 1 17 1-19 1 19 1 2 1 2 1 11 1-1 1-19 1 0 1 10 1 2 1-17 1 18 1-3 1 14 1-27 1 18 1-14 1 14 1-13 1 14 1-7 1 0 1-5 1 5 1 15 1-20 1 41 1-38 1 4 1 4 1 0 1 14 1-8 1-10 1 2 1-19 1 25 1-11 1 0 1-5 1 11 1 1 1 0 1 0 1 9 1 12 1-17 1-6 1 9 1-18 1 27 1-15 1-18 1 5 1 14 1-11 1 0 1-5 1 9 1 15 1-10 1-4 1-22 1 12 1 0 1-1 1-3 1 22 1-20 1-17 1 24 1-26 1 1 1-16 1-15 1-11 1-15 1 15 1-25 1 1 1-6 1-4 1 21 1-17 1 27 1-20 1-1 1 13 1 11 1 8 1-19 1 31 1 6 1 8 1 27 1-1 1 20 1-6 1 0 1-1 1 0 1-8 1 0 1-1 1-1 1 14 1-1 1-21 1 24 1-23 1 23 1-3 1-8 1-19 1 21 1 1 1-7 1 20 1-29 1 18 1 4 1-13 1 7 1-8 1-4 1-4 1 8 1-7 1 7 1-4 1 12 1 19 1-16 1-3 1-9 1 26 1-22 1 5 1 6 1-16 1 25 1-22 1-18 1 29 1 2 1 17 1-26 1 5 1 2 1 7 1-2 1 11 1-18 1 2 1-12 1 4 1 18 1-15 1 2 1 21 1-19 1-10 1-1 1-10 1 28 1-6 1 10 1-20 1-10 1 24 1-9 1 8 1 1 1 1 1-34 1-8 1-18 1-21 1 17 1-23 1-11 1-15 1-1 1-8 1-8 1-15 1 28 1 13 1 9 1-6 1 20 1 13 1 18 1-3 1 41 1-10 1 19 1-11 1 13 1-7 1 1 1 8 1-16 1 18 1-2 1-6 1 10 1-7 1-6 1-19 1 14 1-9 1 6 1 2 1 1 1-2 1 2 1-1 1 4 1 1 1 12 1-18 1 2 1-14 1 25 1 0 1-1 1-18 1 18 1-8 1-9 1 9 1 14 1-11 1 1 1-14 1 0 1 3 1-4 1 22 1-21 1 30 1-15 1 9 1-6 1-3 1 0 1-2 1 1 1-3 1 4"/>
<path transform="translate(241.38,426.87) scale(2.26350,0.60017)" vector-effect="non-scaling-stroke" stroke="#e07d2a" stroke-width="2.30" d="M0 52 l1-2 1 7 1 0 1 3 1-7 1 18 1-14 1 3 1 20 1-36 1-5 1 22 1-13 1 26 1-9 1-32 1 34 1-24 1-6 1-25 1-7 1-32 1 20 1 2 1-26 1 11 1-5 1-15 1-6 1 8 1 13 1 16 1-4 1-2 1-20 1 13 1 5 1-1 1 0 1-5 1 3 1-11 1 25 1-19 1 4 1-1 1-28 1 15 1 8 1-8 1 11 1-8 1-4 1 7 1-3 1-2 1 17 1-12 1-7 1 6 1-8 1 6 1 11 1-3 1 6 1-15 1 7 1-9 1 14 1-5 1 7 1-23 1-1 1 7 1 4 1-25 1 15 1 23 1-37 1 9 1 5 1-6 1-30 1 8 1-12 1 2 1-48 1 23 1-18 1 20 1-17 1-25 1 9 1 8 1 7 1 11 1 1 1-4 1-31 1-6 1 18 1 5 1-21 1 40 1 24 1-23 1 4 1 13 1 14 1 0 1 1 1 37 1-1 1-8 1 3 1-8 1 10 1 12 1 2 1-11 1 10 1-25 1 29 1-12 1 3 1-2 1 1 1 11 1 2 1-15 1 20 1-34 1 17 1 6 1 5 1-15 1 4 1-1 1-6 1 29 1-14 1 18 1-21 1-9 1 5 1 16 1-4 1-2 1 2 1-10 1-2 1 16 1-8 1-22 1 8 1 24 1 0 1-15 1 12 1 12 1-10 1-2 1-1 1-12 1 0 1 13 1-2 1-10 1 18 1-25 1 6 1-7 1-2 1 12 1 6 1-16 1 18 1-35 1 42 1-35 1 14 1-8 1 17 1-39 1-5 1 7 1-41 1 3 1-5 1 11 1-50 1 14 1-9 1 6 1-1 1-3 1-6 1 17 1-4 1 20 1-7 1-23 1-1 1 22 1 13 1-26 1 25 1 5 1 3 1 38 1-24 1 33 1 18 1-14 1 22 1-6 1 1 1-2 1-8 1 7 1 4 1-7 1-3 1 7 1-9 1 17 1-18 1 9 1 6 1-3 1 2 1-13 1 14 1-15 1 1 1 22 1-15 1 3 1-17 1 8 1-3 1 8 1-12 1 3 1 20 1-1 1 11 1-11 1-8 1-2 1 15 1-19 1 18 1-3 1-14 1 42 1-39 1-13 1 28 1-8 1 15 1-3 1-7 1 3 1-14 1 5 1 4 1 2 1 0 1-4 1 1 1 18 1-20 1-19 1 29 1-8 1-20 1 18 1-11 1 15 1-8 1 24 1 1 1-28 1 0 1-19 1 6 1-3 1-21 1-26 1 1 1-7 1-34 1 29 1-18 1-12 1 3 1 0 1 19 1-42 1 0 1 4 1 35 1-12 1-4 1 23 1 3 1 17 1-11 1 51 1-11 1 9 1-15 1 20 1-8 1 4 1 31 1-4 1-3 1 19 1-15 1-4 1 18 1 9 1-33 1-3 1-1 1 18 1-6 1-2 1-5 1 3 1-13 1 22 1-9 1 0 1-14 1 12 1-19 1 25 1-3 1 14 1-25 1 8 1-7 1-7 1 14 1 11 1 5 1-7 1 3 1-6 1-13 1 11 1 19 1-27 1 19 1-8 1 21 1-21 1 11 1-12 1-2 1 11 1-14 1 6"/>
<path transform="translate(241.38,426.87) scale(2.26350,0.60017)" vector-effect="non-scaling-stroke" stroke="#7088c4" stroke-width="2.30" d="M0 85 l1-21 1 25 1-5 1 0 1-7 1 14 1-13 1 1 1 23 1-46 1 14 1 26 1-27 1 18 1-8 1-21 1 28 1-31 1-17 1-8 1-29 1-20 1 5 1-10 1-3 1 18 1-14 1-21 1 2 1 15 1-11 1 11 1 18 1 3 1-22 1-3 1 14 1 4 1-17 1 0 1 10 1-10 1 19 1-9 1 8 1-24 1-3 1 9 1 5 1-6 1-8 1 7 1-20 1 35 1 5 1-22 1 24 1-23 1 16 1-12 1-14 1 7 1-8 1 12 1-15 1-18 1-4 1-18 1 17 1-8 1-16 1-14 1-2 1-1 1-6 1-24 1 9 1-5 1-13 1-5 1 3 1 9 1-40 1 16 1-9 1 16 1-26 1 4 1 12 1 21 1-8 1-14 1 1 1 27 1 14 1 13 1 8 1-16 1-43 1-6 1 15 1-20 1-42 1 21 1 15 1-29 1-17 1 12 1 24 1-30 1 9 1 28 1-8 1 28 1-10 1 16 1 11 1 19 1 2 1 21 1-12 1-4 1 14 1 11 1 11 1 0 1-1 1 37 1 13 1-14 1 23 1-19 1 18 1 9 1-11 1 5 1 1 1-13 1 10 1 10 1-9 1 22 1-1 1-31 1 7 1 8 1 11 1 2 1-8 1-20 1-4 1 40 1-32 1-5 1 12 1 1 1 3 1-12 1 20 1 6 1-14 1-4 1-7 1-3 1-7 1 6 1-14 1-15 1-10 1 18 1-37 1-10 1 14 1-12 1-3 1-10 1-16 1-20 1-2 1-6 1 3 1-18 1 33 1-42 1-5 1 9 1-48 1 24 1 10 1 8 1-27 1 40 1 5 1-4 1 10 1 5 1 14 1 25 1-8 1 9 1-2 1-40 1 10 1-6 1-15 1-29 1 31 1-2 1-12 1 23 1-9 1 42 1-16 1 0 1 17 1-12 1 10 1 2 1-7 1 10 1 21 1 3 1-18 1 32 1-3 1 14 1-6 1 20 1-6 1 17 1 2 1-13 1 24 1-22 1 32 1 4 1-20 1 19 1-24 1 9 1-5 1 8 1-15 1 17 1 10 1-1 1 12 1-15 1-3 1-6 1 11 1-5 1 4 1-7 1-6 1 26 1-18 1-23 1 29 1-6 1 30 1-23 1-11 1 12 1-3 1 1 1-11 1-22 1-1 1-5 1-7 1 4 1-31 1 5 1 14 1-35 1-13 1-11 1-2 1 18 1 3 1-1 1-27 1-33 1 23 1-13 1 10 1-16 1 11 1-24 1 2 1-3 1-35 1 64 1-19 1 17 1-11 1 22 1 19 1-23 1 16 1-13 1 8 1-1 1-8 1 23 1-15 1 7 1-23 1 44 1-15 1 10 1-12 1 15 1-13 1-16 1 36 1-9 1 10 1 10 1-14 1 2 1 37 1 8 1-43 1 31 1-4 1 1 1 9 1-6 1 16 1 20 1-10 1 3 1 12 1 24 1-26 1 5 1-5 1 7 1 6 1-9 1-10 1 16 1-5 1-1 1 15 1 0 1-5 1-3 1-13 1 8 1 13 1-18 1 24 1-12 1 18 1-23 1 33 1-19 1-1 1-14 1 4 1 9 1-1 1-4"/>
<path transform="translate(241.38,426.87) scale(2.26350,0.60017)" vector-effect="non-scaling-stroke" stroke="#d88080" stroke-width="2.30" d="M0 78 l1-31 1 30 1-6 1 4 1 14 1-8 1-11 1 8 1 7 1-35 1 14 1 13 1-12 1 8 1-7 1 1 1 9 1-13 1-24 1-15 1-15 1-33 1 26 1-19 1-16 1 31 1-25 1-2 1-13 1 8 1 4 1 19 1 0 1-9 1 2 1-7 1 12 1 5 1-13 1-9 1 4 1-1 1 7 1 1 1 5 1-16 1-19 1 30 1-13 1 3 1-5 1 7 1-1 1-16 1 5 1-21 1 11 1-23 1 24 1-28 1-24 1 20 1-11 1-5 1 5 1-13 1 10 1-22 1 7 1-16 1 5 1-21 1-15 1 7 1-6 1-40 1 14 1 12 1-9 1 2 1-3 1 25 1-36 1 18 1-20 1 20 1-14 1 7 1 13 1 3 1 3 1-12 1 8 1 31 1 14 1-3 1 12 1-23 1-14 1-14 1-7 1-22 1-25 1 21 1 17 1-24 1-32 1 5 1 4 1-29 1-1 1 20 1-7 1 4 1 2 1 1 1 11 1 23 1 15 1 18 1-3 1-4 1 0 1 13 1 12 1 13 1-12 1 23 1 35 1-9 1 13 1-17 1 18 1 4 1 36 1-9 1 4 1 24 1-22 1 26 1-2 1 10 1-18 1 3 1-6 1 8 1 4 1 5 1-7 1 0 1-33 1 35 1-12 1-3 1 4 1 6 1-14 1-6 1 10 1-9 1-5 1-17 1-8 1-14 1-3 1 6 1-19 1-19 1 15 1-17 1-15 1-18 1-1 1 3 1-1 1-9 1-9 1-25 1 10 1-15 1 12 1-25 1 37 1-33 1 0 1 27 1-46 1 31 1 3 1 18 1-15 1 16 1 8 1 10 1-9 1 4 1 18 1 27 1-18 1 36 1-29 1-20 1 8 1-11 1 1 1-32 1 8 1 13 1-11 1 14 1-22 1 27 1-7 1-8 1 7 1 3 1-14 1-14 1 28 1 4 1 17 1 15 1-34 1 29 1 2 1 10 1 7 1 6 1-9 1 18 1 1 1-6 1 18 1-19 1 34 1 21 1-4 1-10 1 11 1 7 1-2 1-1 1-2 1 12 1 6 1 3 1 6 1 2 1-6 1-10 1 25 1-29 1 23 1-8 1-5 1 15 1-24 1-13 1 24 1-22 1 2 1-18 1-16 1 7 1-9 1-6 1 7 1-11 1-14 1-8 1-11 1 16 1-28 1-10 1 15 1-26 1-20 1-6 1 3 1 25 1-28 1 16 1-19 1-15 1 10 1-1 1 14 1 6 1-9 1-20 1 14 1 3 1-5 1 41 1-17 1 2 1-3 1 16 1 16 1-14 1 13 1-19 1 30 1-22 1-6 1-2 1 24 1-12 1-14 1 47 1-23 1 13 1-27 1 15 1-17 1-11 1 24 1-8 1-1 1 5 1-2 1-6 1 24 1 14 1-35 1 14 1 9 1 8 1-1 1-5 1 26 1 1 1-16 1 9 1 16 1 16 1-15 1 13 1-4 1 28 1 4 1-11 1 2 1 20 1-3 1-20 1 25 1 2 1 9 1-5 1-10 1 4 1 0 1-10 1 27 1-14 1 17 1-8 1 4 1-8 1-8 1 2 1 12 1-11 1 11 1-10"/>
<path transform="translate(241.38,426.87) scale(2.26350,0.60017)" vector-effect="non-scaling-stroke" stroke="#8cc850" stroke-width="2.10" d="M0 76 l1-36 1 37 1-3 1 4 1 6 1-2 1-22 1 9 1 19 1-41 1 17 1 6 1-2 1-6 1 10 1-10 1 10 1-13 1-26 1-7 1-33 1-15 1 12 1-8 1-14 1 16 1-5 1-18 1 1 1 5 1 11 1 16 1-16 1 7 1-233 1 219 1-1 1 17 1-2 1-3 1-10 1-4 1 8 1 0 1 7 1-20 1-33 1-14 1-4 1-33 1-2 1-34 1 0 1-28 1 9 1-4 1 19 1-37 1 39 1-26 1 16 1 0 1-11 1 19 1 2 1-35 1 39 1-31 1 30 1-4 1-2 1-12 1-15 1 15 1-6 1-27 1 21 1 16 1-30 1 16 1-3 1 21 1-32 1 12 1-4 1 9 1-24 1 17 1 12 1 7 1 7 1-14 1 9 1 28 1 11 1 14 1-2 1-26 1-18 1-13 1 2 1-33 1-6 1 6 1 9 1-22 1-25 1 14 1 10 1-37 1-6 1 22 1-15 1 3 1 5 1-10 1 13 1-4 1 16 1 12 1-27 1-3 1-2 1 3 1-4 1 9 1-1 1 13 1 14 1-13 1 14 1-37 1 33 1 1 1 25 1-22 1 26 1-13 1 24 1 26 1 9 1 61 1-13 1 7 1 19 1 19 1 20 1 3 1-13 1-25 1-34 1 17 1-51 1-6 1-34 1 1 1-21 1 1 1 0 1 3 1-2 1-17 1 0 1-2 1 4 1 6 1 8 1-34 1 18 1-5 1-2 1-5 1-5 1 14 1 3 1-1 1-1 1-12 1 6 1 6 1 9 1-29 1 36 1-34 1 2 1 15 1-28 1 41 1-14 1 12 1-4 1 12 1 26 1-14 1 6 1 4 1 16 1 14 1 6 1 13 1-19 1-24 1-15 1 6 1-2 1-23 1 28 1-28 1 20 1-2 1 4 1 21 1-10 1-1 1-11 1 6 1 0 1-11 1-6 1-8 1 21 1-3 1-24 1 26 1-30 1 16 1 8 1 8 1-6 1-4 1 6 1-28 1 22 1-14 1 31 1-1 1 2 1 3 1-22 1 24 1-2 1 13 1 13 1 29 1 15 1 28 1 5 1 4 1 11 1-3 1 8 1-14 1-18 1-6 1-37 1 6 1-52 1-33 1-5 1-2 1 8 1-9 1-20 1 18 1-14 1 8 1 0 1-1 1-7 1-1 1 16 1 1 1-22 1 12 1 19 1-34 1-5 1-1 1 10 1 29 1-12 1 18 1-5 1-28 1 13 1-2 1 16 1 2 1 1 1-24 1 15 1 11 1-23 1 30 1-7 1 1 1 3 1 18 1 17 1-13 1 2 1 5 1 7 1-21 1 3 1 22 1-5 1 3 1-12 1 43 1-27 1 6 1-23 1 3 1 3 1-11 1 28 1-17 1-1 1-7 1-17 1 7 1 2 1 17 1-31 1 5 1 3 1 4 1-9 1-8 1 11 1 11 1-38 1 13 1 6 1 20 1-34 1 9 1-10 1 34 1 16 1-16 1-18 1 41 1 18 1-11 1 52 1 11 1 7 1 7 1 9 1-4 1 18 1 2 1 15 1-26 1 27 1-8 1 10 1-16 1-446 1 0 1 449 1-12 1 14 1-9"/>
<path transform="translate(241.38,426.87) scale(2.26350,0.60017)" vector-effect="non-scaling-stroke" stroke="#9088b4" stroke-width="2.30" d="M0 102 l1-35 1 30 1-6 1-4 1 11 1 13 1-26 1 2 1 31 1-50 1 16 1 18 1-17 1 10 1-10 1-9 1 31 1-35 1-19 1-26 1-24 1-50 1 4 1 17 1 20 1 18 1-4 1-11 1-6 1 22 1 13 1 21 1 17 1 2 1-21 1-3 1 14 1-5 1-26 1 2 1 4 1-30 1 2 1-26 1 1 1-31 1-39 1-12 1-29 1-19 1-21 1-5 1-12 1-12 1 7 1-19 1 17 1-9 1 2 1 1 1-12 1 14 1-9 1 29 1-10 1-17 1 19 1-21 1 25 1-9 1 11 1-20 1-10 1 19 1-18 1-27 1 25 1 12 1-22 1 9 1 7 1 6 1-25 1 17 1-4 1 16 1-26 1 9 1 15 1 9 1 5 1-10 1 5 1 33 1 10 1 8 1-1 1-17 1-31 1-14 1 8 1-34 1-26 1 3 1 26 1-35 1-10 1-7 1 8 1-20 1-5 1 17 1-11 1 8 1-13 1-1 1 6 1 14 1 15 1-5 1-6 1-21 1 6 1 4 1-2 1 16 1-8 1 11 1 8 1-11 1 7 1-26 1 33 1-2 1 24 1-10 1 10 1-4 1 12 1 31 1-9 1 58 1-6 1-1 1 33 1 34 1 12 1 16 1-17 1-55 1-39 1 30 1-56 1-8 1-17 1 30 1-31 1-16 1 21 1-10 1-7 1-1 1-14 1 11 1-3 1 2 1 6 1-24 1 9 1 2 1-13 1 6 1-7 1 7 1 16 1-6 1 5 1-24 1 11 1-5 1 12 1-20 1 38 1-31 1-3 1 30 1-49 1 36 1 6 1 14 1-9 1 6 1 25 1-6 1 5 1 10 1 19 1 16 1-9 1 25 1-18 1-25 1-12 1 7 1-18 1-22 1 15 1-9 1 10 1 13 1-35 1 43 1-3 1-11 1 3 1-9 1 1 1-27 1 10 1 11 1 20 1-19 1-12 1 25 1-25 1 21 1-16 1 13 1-17 1 31 1-8 1-36 1 42 1-47 1 47 1 12 1-20 1 22 1-33 1 22 1 4 1 22 1-21 1 22 1 27 1 31 1 14 1 5 1 9 1-11 1 20 1-32 1-19 1-7 1-47 1 11 1-49 1-47 1 31 1-22 1 30 1-9 1-24 1 20 1-19 1 20 1 1 1-10 1 0 1-11 1 10 1 23 1-26 1-3 1 29 1-30 1-10 1 1 1-2 1 30 1-12 1 28 1-15 1-27 1 15 1 2 1 15 1 0 1-1 1-10 1 11 1-4 1-21 1 33 1 7 1 7 1 1 1 7 1 21 1-3 1 5 1-13 1 23 1-27 1 3 1 20 1-5 1-1 1-20 1 56 1-21 1 0 1-18 1-4 1 8 1-24 1 28 1-9 1-20 1 31 1-25 1 5 1 6 1 11 1-38 1 5 1-13 1 9 1-2 1-19 1 16 1 10 1-17 1 8 1 5 1 5 1-30 1 18 1-20 1 37 1 11 1-15 1-11 1 36 1-3 1-7 1 32 1 30 1 24 1-2 1 28 1 17 1 20 1-6 1 32 1-18 1 24 1-20 1 12 1-36 1-1 1-5 1 20 1 8 1 15 1 13"/>
<path transform="translate(241.38,426.87) scale(2.26350,0.60017)" vector-effect="non-scaling-stroke" stroke="#78b8cc" stroke-width="2.30" d="M0 97 l1-40 1 35 1-3 1-3 1 3 1 13 1-25 1 7 1 27 1-55 1 27 1 24 1-31 1 18 1-8 1-16 1 24 1-29 1-20 1-25 1-10 1-52 1 0 1 15 1 9 1 32 1-12 1-7 1-2 1 26 1-3 1 30 1 1 1 14 1-22 1-11 1-2 1 24 1-22 1-12 1 4 1-32 1 8 1-11 1-9 1-35 1-39 1-6 1-35 1-33 1-5 1-14 1-7 1-13 1 13 1-23 1 27 1-30 1 26 1-14 1-8 1 16 1-6 1 25 1-17 1-18 1 30 1-36 1 35 1-8 1 11 1-24 1-2 1 12 1-14 1-31 1 25 1 5 1-21 1 15 1 3 1 20 1-43 1 31 1-19 1 24 1-34 1 20 1-1 1 21 1-2 1-2 1 5 1 28 1 25 1 3 1 6 1-22 1-35 1-13 1 2 1-38 1-18 1 10 1 7 1-22 1-16 1 0 1 16 1-33 1-2 1 19 1-7 1 3 1-5 1-8 1 12 1 8 1 13 1-3 1-8 1-23 1 9 1 3 1 3 1 2 1-9 1 16 1 23 1-12 1 6 1-25 1 17 1 9 1 22 1-16 1 27 1-7 1-1 1 42 1-14 1 58 1-10 1 11 1 17 1 29 1 19 1 30 1-37 1-39 1-49 1 38 1-56 1-10 1-21 1 13 1-21 1-4 1 13 1-3 1-2 1-18 1-2 1 0 1 6 1 4 1 5 1-32 1 26 1-7 1-4 1-3 1-2 1 1 1 15 1 0 1-4 1-19 1 18 1-13 1 8 1-19 1 47 1-39 1-5 1 32 1-42 1 36 1-2 1 15 1-16 1 9 1 25 1 8 1-6 1 9 1 11 1 36 1-11 1 22 1-34 1-18 1-14 1 15 1-12 1-23 1 11 1-5 1 0 1 16 1-35 1 44 1-1 1-19 1 8 1-9 1-3 1-13 1 13 1-1 1 21 1-8 1-25 1 23 1-23 1 22 1-15 1 17 1-18 1 14 1 1 1-27 1 29 1-33 1 36 1 9 1-10 1 14 1-24 1 20 1-2 1 14 1-6 1 32 1 20 1 27 1 19 1-7 1 4 1-2 1 20 1-33 1-20 1-11 1-45 1 12 1-46 1-43 1 27 1-10 1 27 1-24 1-20 1 27 1-12 1 5 1-4 1 0 1-1 1 1 1-2 1 19 1-17 1-8 1 31 1-36 1 0 1-4 1 10 1 22 1-6 1 19 1-11 1-29 1 12 1 0 1 9 1 10 1 3 1-24 1 15 1-1 1-18 1 32 1 10 1-8 1 10 1 23 1 15 1-10 1 3 1-5 1 8 1-17 1-1 1 11 1 4 1 4 1-16 1 49 1-19 1 0 1-25 1 7 1-13 1-20 1 39 1-6 1-13 1 18 1-19 1-9 1 12 1 12 1-53 1 21 1-8 1 7 1 1 1-11 1 7 1 7 1-13 1-1 1 22 1-6 1-27 1 9 1-18 1 49 1-1 1-12 1-4 1 21 1 3 1-10 1 53 1 14 1 14 1 19 1 16 1 11 1 30 1-5 1 41 1-39 1 35 1-24 1 11 1-29 1-9 1-2 1 17 1 22 1 6 1-1"/>
<path transform="translate(241.38,426.87) scale(2.26350,0.60017)" vector-effect="non-scaling-stroke" stroke="#f09a48" stroke-width="2.60" d="M0 83 l1-46 1 45 1-15 1 14 1 7 1 8 1-26 1 6 1 22 1-49 1 24 1 12 1-18 1 17 1-1 1-17 1 19 1-29 1-17 1-26 1-26 1-67 1 4 1 16 1 4 1 32 1-19 1-16 1-4 1 37 1 4 1 15 1 8 1-2 1-3 1-14 1 3 1 5 1-13 1-10 1-4 1-28 1 12 1-16 1 5 1-29 1-43 1 4 1-34 1-21 1-5 1-4 1-18 1-4 1 5 1-13 1 23 1-31 1 17 1-6 1-4 1 13 1-8 1 20 1-5 1-16 1 21 1-17 1 21 1-2 1-7 1-19 1-4 1 17 1-15 1-29 1 25 1 9 1-14 1 4 1 13 1 11 1-30 1 14 1-16 1 25 1-16 1 2 1 8 1 14 1 5 1-8 1 18 1 15 1 23 1 4 1-6 1-23 1-30 1-12 1 10 1-31 1-19 1-3 1 17 1-19 1-28 1 11 1 6 1-29 1-9 1 27 1-12 1 9 1-9 1-11 1 14 1 6 1 24 1-6 1-11 1-16 1 6 1-3 1 6 1-4 1-4 1 23 1 13 1-17 1 16 1-37 1 25 1 9 1 24 1-13 1 13 1-6 1 21 1 22 1-8 1 62 1-8 1-7 1 31 1 30 1 15 1 31 1-38 1-38 1-40 1 22 1-48 1-17 1-19 1 18 1-19 1-15 1 18 1-1 1-5 1-2 1-19 1 9 1-3 1 11 1-2 1-25 1 9 1 10 1-13 1-6 1 8 1 13 1 4 1-9 1 3 1-18 1 10 1-6 1-1 1-8 1 40 1-31 1-2 1 20 1-36 1 32 1 2 1 11 1-7 1 9 1 20 1 1 1-5 1 7 1 30 1 27 1-2 1 11 1-35 1-24 1-9 1 17 1-9 1-26 1 7 1-3 1-1 1 10 1-22 1 40 1-3 1-7 1-11 1 10 1-4 1-20 1 12 1-9 1 27 1-10 1-17 1 24 1-23 1 24 1-24 1 21 1-12 1 13 1-3 1-21 1 29 1-39 1 34 1 6 1 0 1 14 1-33 1 29 1 1 1 8 1-13 1 34 1 17 1 29 1 23 1-6 1 3 1 5 1 19 1-37 1-22 1-11 1-42 1 12 1-52 1-39 1 26 1-12 1 23 1-23 1-23 1 30 1-9 1 5 1 0 1-10 1-1 1-1 1 12 1 12 1-27 1 5 1 23 1-28 1-13 1 0 1 13 1 23 1-7 1 19 1-14 1-21 1 11 1-1 1 18 1-1 1 2 1-23 1 17 1 6 1-31 1 45 1-1 1 9 1 3 1 14 1 20 1-20 1 9 1-7 1 15 1-8 1-9 1 18 1-6 1 3 1-22 1 52 1-23 1-3 1-21 1 6 1-3 1-10 1 21 1-10 1 2 1 13 1-23 1 0 1 9 1 14 1-42 1 9 1-1 1-1 1 2 1-20 1 17 1-4 1-18 1 18 1 7 1 3 1-30 1 11 1-8 1 32 1 9 1-13 1-4 1 23 1 6 1-10 1 45 1 17 1 16 1 7 1 14 1 9 1 27 1-14 1 29 1-25 1 32 1-28 1 14 1-38 1 2 1 0 1 3 1 20 1 17 1-5"/>
<path transform="translate(241.38,426.87) scale(2.26350,0.60017)" vector-effect="non-scaling-stroke" stroke="#b8bcdc" stroke-width="2.30" d="M0 86 l1-26 1 20 1-7 1 13 1 8 1 3 1-16 1-1 1 37 1-59 1 18 1 19 1-18 1 22 1-21 1-9 1 19 1-20 1-18 1-25 1-37 1-50 1-7 1-1 1 20 1 28 1-2 1-30 1 8 1 17 1 5 1 23 1 13 1 3 1-25 1 2 1 3 1 3 1-25 1-5 1 2 1-27 1 5 1 1 1-3 1-34 1-34 1-4 1-28 1-24 1-13 1-2 1-14 1-11 1 11 1-15 1 23 1-23 1 15 1-2 1-7 1 17 1-21 1 31 1-18 1-11 1 25 1-23 1 35 1-15 1 6 1-23 1-8 1 15 1-14 1-23 1 27 1-2 1-12 1 13 1 10 1 4 1-39 1 18 1-8 1 24 1-26 1 13 1 6 1 14 1-12 1 6 1 15 1 21 1 23 1 0 1 11 1-20 1-40 1-9 1 6 1-48 1-18 1 18 1 6 1-21 1-29 1 12 1-3 1-22 1-3 1 28 1-21 1 4 1 2 1-5 1 7 1 18 1 7 1 4 1-12 1-20 1 14 1-9 1 2 1 5 1-5 1 17 1 21 1-21 1 15 1-39 1 25 1 4 1 33 1-21 1 27 1-11 1 4 1 34 1-15 1 65 1-1 1-4 1 39 1 26 1 15 1 21 1-32 1-42 1-45 1 23 1-54 1-7 1-9 1 9 1-20 1-10 1 16 1-4 1-3 1-8 1-12 1 5 1-4 1 9 1 2 1-24 1 8 1 3 1-2 1-8 1 4 1 1 1 13 1-5 1 2 1-14 1 7 1-2 1 4 1-12 1 44 1-34 1-9 1 21 1-34 1 24 1 14 1 7 1-10 1 12 1 21 1 6 1-4 1-3 1 30 1 25 1-10 1 20 1-23 1-24 1-3 1-1 1-2 1-30 1 13 1-13 1 10 1 20 1-27 1 26 1-1 1-13 1 0 1 5 1-3 1-26 1 17 1-9 1 26 1-6 1-27 1 37 1-46 1 34 1-15 1 10 1-3 1 14 1-15 1-10 1 15 1-25 1 35 1 19 1-20 1 14 1-27 1 21 1-1 1 17 1-20 1 36 1 19 1 35 1 13 1 7 1 1 1 0 1 8 1-31 1-20 1-10 1-48 1 19 1-52 1-35 1 16 1 0 1 18 1-16 1-23 1 22 1-6 1-3 1 6 1 1 1-8 1-4 1 4 1 12 1-9 1-3 1 27 1-46 1 6 1 2 1 1 1 24 1-8 1 34 1-29 1-20 1 18 1-8 1 23 1-6 1 5 1-20 1 10 1 5 1-21 1 44 1-3 1 5 1 9 1 6 1 15 1-16 1 9 1-5 1 13 1-13 1-2 1 14 1-5 1 5 1-19 1 51 1-23 1 1 1-13 1 2 1-9 1-12 1 22 1-3 1-11 1 15 1-15 1 1 1 11 1 9 1-51 1 16 1 3 1-8 1 8 1-14 1-2 1 2 1-14 1 21 1 12 1-8 1-18 1 3 1-17 1 38 1 11 1-12 1-6 1 21 1 3 1-16 1 51 1 28 1 8 1 13 1 10 1 14 1 18 1-11 1 37 1-37 1 42 1-22 1-5 1-22 1-9 1 1 1 12 1 11 1 16 1-4"/>
<path transform="translate(241.38,426.87) scale(2.26350,0.60017)" vector-effect="non-scaling-stroke" stroke="#e8a49c" stroke-width="2.30" d="M0 92 l1-35 1 28 1 0 1 11 1 7 1 1 1-20 1-4 1 38 1-52 1 20 1 17 1-23 1 8 1 1 1-21 1 23 1-19 1-26 1-35 1-14 1-60 1-11 1 20 1 9 1 27 1-10 1-19 1-8 1 25 1 18 1 31 1-2 1 1 1-22 1-11 1 15 1 1 1-19 1-7 1-4 1-26 1 14 1-16 1 6 1-40 1-29 1-3 1-16 1-34 1 3 1-24 1-13 1-2 1 10 1-14 1 17 1-21 1 15 1-10 1-10 1 20 1-8 1 26 1-6 1-24 1 20 1-27 1 36 1-10 1 7 1-17 1-16 1 20 1-11 1-25 1 24 1 3 1-18 1 16 1-1 1 14 1-31 1 3 1 8 1 15 1-15 1 9 1-11 1 23 1-7 1 5 1 13 1 18 1 25 1-1 1 3 1-21 1-33 1-13 1-1 1-34 1-19 1 16 1 9 1-26 1-18 1 9 1-1 1-25 1-5 1 21 1-12 1 8 1-11 1-2 1 15 1 6 1 15 1-1 1-11 1-13 1 2 1 2 1-3 1 0 1 5 1 14 1 19 1-31 1 32 1-34 1 14 1 9 1 25 1-13 1 28 1-20 1 16 1 35 1-10 1 54 1-8 1-7 1 44 1 22 1 18 1 16 1-20 1-55 1-39 1 26 1-44 1-10 1-16 1 7 1 0 1-32 1 19 1-2 1 5 1-22 1-3 1-9 1 13 1-6 1 9 1-20 1 15 1-3 1-12 1 0 1 1 1 15 1 2 1-6 1 11 1-21 1 10 1-13 1 6 1-19 1 50 1-31 1-12 1 27 1-43 1 32 1 14 1 12 1-16 1 14 1 20 1-7 1 8 1 7 1 8 1 34 1-4 1 18 1-23 1-21 1 6 1-18 1-1 1-33 1 18 1-11 1 11 1 15 1-29 1 31 1-3 1-4 1 7 1-14 1-3 1-23 1 24 1-3 1 10 1-7 1-22 1 26 1-22 1 26 1-11 1 6 1-8 1 9 1-7 1-16 1 23 1-34 1 34 1 23 1-13 1 3 1-18 1 13 1 11 1 12 1-15 1 29 1 22 1 35 1 13 1-7 1 9 1 6 1 11 1-27 1-22 1-19 1-43 1 17 1-41 1-41 1 6 1-2 1 24 1-16 1-24 1 29 1-17 1 10 1 0 1-8 1 11 1-7 1-1 1 17 1-19 1-8 1 31 1-33 1-5 1-4 1 6 1 29 1-6 1 18 1-30 1-9 1 11 1 4 1 16 1 1 1 6 1-20 1 15 1-9 1-19 1 37 1 0 1 0 1 14 1 11 1 18 1-20 1 11 1-6 1 13 1-14 1 9 1 5 1-2 1 13 1-32 1 55 1-23 1-1 1-23 1 14 1-10 1-16 1 35 1-20 1-4 1 17 1-25 1 1 1 12 1 17 1-49 1 9 1-2 1 1 1 1 1-12 1-3 1 17 1-16 1 7 1 13 1-4 1-15 1 4 1-17 1 40 1 4 1-7 1-6 1 14 1 4 1-8 1 48 1 24 1 8 1 19 1 8 1 11 1 20 1-14 1 43 1-41 1 40 1-30 1 8 1-35 1-2 1 4 1 8 1 26 1-1 1-1"/>
<path transform="translate(241.38,426.87) scale(2.26350,0.60017)" vector-effect="non-scaling-stroke" stroke="#a8c468" stroke-width="2.30" d="M0 82 l1-32 1 16 1 10 1 2 1 5 1 5 1-19 1 0 1 32 1-52 1 18 1 21 1-18 1 12 1-4 1-2 1-2 1-12 1-21 1-20 1-29 1-53 1-51 1 57 1 15 1 32 1-7 1-35 1-7 1 32 1-3 1 36 1 4 1 8 1-26 1-9 1 18 1-3 1-12 1-15 1 8 1-37 1 11 1-5 1-6 1-23 1-44 1-2 1-6 1-24 1-12 1 2 1-21 1-6 1 13 1-10 1 10 1-29 1 27 1-16 1-15 1 26 1-4 1 12 1-8 1-24 1 33 1-23 1 22 1-1 1-5 1-11 1-11 1 35 1-39 1-24 1 26 1 5 1-5 1 5 1-2 1 23 1-42 1 24 1-6 1 9 1-23 1 27 1 1 1 10 1-5 1 3 1 3 1 14 1 17 1 9 1 4 1-24 1-24 1-2 1-15 1-24 1-21 1 9 1 27 1-32 1-17 1-8 1 25 1-29 1-14 1 31 1-13 1 0 1-5 1-18 1 22 1 17 1-6 1 2 1-5 1 0 1-8 1 6 1-2 1 1 1-15 1 34 1 7 1-5 1-3 1-41 1 36 1 14 1 14 1-11 1 3 1 8 1 2 1 25 1-10 1 67 1-17 1-15 1 20 1 15 1 7 1 14 1-11 1-33 1-36 1 34 1-44 1-2 1-21 1 19 1-10 1-14 1 14 1 10 1-3 1-16 1-4 1 2 1-10 1 9 1 14 1-20 1 9 1-4 1-12 1 7 1 2 1-2 1 13 1-7 1-3 1-13 1 9 1-6 1 3 1-19 1 52 1-38 1-5 1 18 1-44 1 48 1 8 1 19 1-33 1 13 1 31 1-2 1 6 1-4 1 18 1 32 1-9 1 12 1-16 1-23 1-8 1 1 1-7 1-33 1 21 1-15 1 12 1 16 1-25 1 28 1 1 1-22 1 18 1-15 1 2 1-13 1 14 1-10 1 32 1-8 1-32 1 32 1-25 1 23 1-13 1 19 1-19 1 8 1-4 1-28 1 14 1-24 1 30 1 26 1-12 1 0 1-4 1 15 1 12 1 7 1-7 1 14 1 17 1 33 1 0 1-8 1-5 1-7 1 19 1-46 1 11 1-5 1-13 1 10 1-32 1-22 1 28 1-24 1 23 1-20 1-21 1 9 1-12 1 0 1-2 1 0 1-3 1-10 1 4 1 33 1-34 1 0 1 19 1-21 1-11 1-1 1 13 1 15 1-1 1 13 1-25 1-16 1 13 1 7 1 19 1-11 1 4 1-7 1 11 1-7 1-9 1 22 1 20 1-12 1 6 1 6 1 23 1-32 1 27 1-12 1 18 1-20 1-4 1 9 1-1 1 16 1-22 1 52 1-25 1 8 1-30 1 1 1 5 1-25 1 41 1-2 1-35 1 27 1-12 1-9 1 15 1 16 1-39 1 11 1-12 1-2 1 5 1-13 1 12 1 2 1-15 1 10 1 6 1 3 1-31 1 16 1-10 1 40 1-5 1-16 1 4 1 11 1 6 1-15 1 52 1 15 1 20 1 0 1 13 1 24 1-1 1-11 1 37 1-29 1 37 1-37 1 19 1-27 1-12 1 9 1 7 1 24 1-1 1 6"/>
<path transform="translate(241.38,426.87) scale(2.26350,0.60017)" vector-effect="non-scaling-stroke" stroke="#6b42a6" stroke-width="4.00" d="M0 80 l1-31 1 30 1-7 1-14 1 23 1 20 1-29 1-4 1 33 1-42 1 10 1 11 1-18 1 17 1-3 1-26 1 32 1-21 1-20 1-26 1-6 1-72 1 7 1 4 1 8 1 28 1-8 1-9 1-16 1 32 1 17 1 7 1 4 1 6 1-23 1 3 1 9 1 1 1-27 1-4 1-4 1-15 1 3 1-16 1 4 1-22 1-32 1 1 1-23 1-17 1-13 1-12 1-5 1-21 1 25 1-13 1 10 1-14 1 25 1-23 1 0 1 5 1 3 1 14 1-5 1-23 1 20 1-14 1 14 1 8 1-16 1-15 1 10 1 7 1 6 1-38 1 18 1 14 1-25 1 12 1 3 1 22 1-39 1 14 1-2 1 7 1-30 1 26 1-12 1 20 1 5 1-12 1 14 1 16 1 19 1 6 1 3 1-13 1-24 1-9 1 0 1-34 1-21 1 7 1 22 1-36 1-6 1 10 1-4 1-29 1 6 1 13 1-13 1 9 1-6 1-1 1 14 1 5 1 20 1-11 1-10 1-25 1 19 1 3 1-1 1 2 1-12 1 19 1 15 1-23 1 25 1-40 1 29 1 0 1 20 1-17 1 25 1-15 1 12 1 25 1-3 1 52 1-11 1-12 1 12 1 10 1 8 1 12 1-17 1-10 1-42 1 39 1-38 1-19 1-11 1 12 1 9 1-20 1 5 1-1 1 5 1-25 1 11 1 6 1-14 1 27 1-6 1-22 1 3 1 10 1-17 1 0 1-2 1 7 1 6 1-12 1 14 1-26 1 3 1 9 1 4 1-20 1 40 1-26 1-10 1 24 1-34 1 37 1-8 1 24 1-28 1 31 1 2 1 9 1 4 1 9 1 17 1 15 1-6 1 18 1-20 1-32 1 0 1 4 1 2 1-35 1 20 1-18 1 15 1 5 1-16 1 34 1 1 1-19 1 3 1-8 1-4 1-17 1 18 1 1 1 18 1 0 1-26 1 29 1-40 1 15 1-1 1 21 1-21 1 1 1 5 1-21 1 10 1-15 1 41 1 1 1-8 1 12 1-18 1 27 1 4 1 6 1-1 1 10 1 19 1 34 1-8 1-14 1-8 1-4 1 20 1-30 1 5 1 7 1-33 1 16 1-32 1-31 1 44 1-27 1 21 1-8 1-33 1 1 1-10 1 16 1-9 1-14 1 2 1-12 1 25 1 8 1-21 1 0 1 33 1-41 1-10 1 1 1 11 1 24 1-1 1 17 1-23 1-26 1 11 1 5 1 9 1 12 1-7 1-10 1 1 1 14 1-24 1 43 1 5 1-26 1 18 1 21 1 16 1-18 1 8 1-16 1 27 1-39 1 18 1 9 1-13 1 22 1-26 1 44 1-14 1 2 1-15 1-2 1-23 1-2 1 34 1-5 1-20 1 18 1-17 1-4 1 8 1 28 1-36 1 3 1-8 1-4 1 8 1-11 1 9 1 2 1-5 1-14 1 23 1-9 1-19 1 7 1-6 1 41 1-5 1-8 1-5 1 11 1 8 1-12 1 52 1 16 1 9 1 6 1 7 1 10 1 18 1-19 1 39 1-37 1 43 1-33 1 6 1-21 1-7 1-11 1 22 1 18 1 3 1 6"/>
<path transform="translate(241.38,426.87) scale(2.26350,0.60017)" vector-effect="non-scaling-stroke" stroke="#4ebfdc" stroke-width="2.30" d="M0 75 l1-36 1 35 1-22 1 17 1-1 1-2 1-5 1 1 1 34 1-47 1 12 1 18 1-13 1-3 1 6 1-19 1 32 1-39 1-10 1-24 1-16 1-29 1-25 1 23 1 8 1 20 1-13 1-2 1-13 1 25 1 7 1 19 1 11 1 2 1-28 1-11 1 18 1 1 1-22 1-7 1 14 1-32 1-3 1 0 1-9 1-13 1-33 1-10 1 1 1-17 1-14 1-4 1-10 1-1 1 4 1-28 1 37 1-31 1 21 1-4 1-16 1 17 1-4 1 13 1-9 1-11 1 13 1-11 1 23 1-11 1 2 1-23 1-5 1 23 1-28 1-12 1 25 1 4 1-20 1 5 1 0 1 16 1-30 1 26 1-16 1 20 1-25 1 13 1 2 1 21 1-16 1 13 1 0 1 8 1 20 1-1 1 2 1-6 1-40 1 3 1-2 1-18 1-18 1 1 1 13 1-5 1-28 1 4 1 5 1-27 1 2 1 21 1-15 1 0 1-1 1-11 1 14 1 24 1-8 1 14 1-13 1-18 1 6 1 1 1 2 1 1 1-6 1 16 1 8 1-16 1 24 1-32 1 32 1-14 1 28 1-24 1 7 1-2 1 12 1 19 1 19 1 45 1-14 1-34 1 16 1 19 1 2 1 10 1 0 1-23 1-31 1 40 1-54 1-2 1-11 1 15 1 1 1-21 1 15 1 1 1-7 1-13 1-8 1 17 1 4 1-3 1 3 1-24 1 1 1 17 1-9 1-1 1 3 1 2 1 11 1-5 1-9 1-14 1 7 1-4 1 12 1-21 1 50 1-42 1 2 1 23 1-40 1 38 1-4 1 7 1-9 1 12 1 22 1-16 1 22 1-6 1 14 1 23 1 1 1 13 1-37 1-15 1 2 1 5 1 3 1-42 1 14 1-13 1 19 1 16 1-32 1 42 1-22 1 2 1-1 1 1 1-8 1-9 1 15 1-16 1 30 1-3 1-29 1 25 1-21 1 17 1-17 1 4 1-5 1 18 1-13 1-16 1 12 1-9 1 20 1 12 1-2 1 6 1-16 1 28 1-3 1 20 1-18 1 24 1 18 1 8 1 3 1-6 1-2 1-16 1 11 1-29 1 21 1-9 1-19 1 31 1-40 1-32 1 35 1-13 1 8 1-3 1-22 1 2 1-12 1-1 1 1 1-4 1 2 1-3 1-8 1 24 1-24 1-16 1 38 1-27 1-9 1 3 1 0 1 7 1 13 1 15 1-16 1-16 1 15 1 2 1-1 1 15 1-8 1-15 1 6 1 14 1-21 1 40 1-17 1 0 1 9 1 4 1 18 1 0 1-4 1-10 1 20 1-15 1 9 1-2 1 12 1-1 1-25 1 56 1-23 1 10 1-30 1 7 1-1 1-24 1 25 1-11 1 4 1 6 1-8 1-7 1 4 1 25 1-40 1 0 1 0 1 6 1-5 1-6 1 13 1 5 1-10 1 4 1 7 1-12 1-17 1 8 1-12 1 34 1 16 1-13 1-13 1 21 1 4 1-11 1 28 1 25 1 16 1 2 1 4 1 13 1 15 1-10 1 31 1-42 1 36 1-35 1 19 1-30 1 2 1-3 1-2 1 23 1 7 1-3"/>
<path transform="translate(241.38,426.87) scale(2.26350,0.60017)" vector-effect="non-scaling-stroke" stroke="#f4a868" stroke-width="2.30" d="M0 67 l1-32 1 33 1-7 1-2 1-2 1 30 1-22 1-16 1 35 1-55 1 27 1 13 1-17 1 12 1-11 1 7 1 1 1-9 1-29 1-14 1-5 1-47 1 0 1 13 1-3 1 38 1-26 1-16 1-1 1 23 1 7 1 14 1 10 1 2 1-22 1-8 1 17 1 7 1-36 1 11 1-5 1-33 1 19 1 4 1-12 1-22 1-24 1-4 1-6 1-19 1-7 1-8 1-7 1-1 1 16 1-22 1 10 1-16 1 20 1-13 1-10 1 15 1-5 1 18 1-17 1-4 1 20 1-26 1 17 1-11 1 15 1-14 1-23 1 18 1-12 1-22 1 26 1 10 1-20 1 18 1-2 1 3 1-20 1 13 1-8 1 11 1-13 1 5 1-2 1 21 1-20 1 7 1 12 1 0 1 25 1 5 1-5 1-20 1-5 1-11 1 5 1-26 1-23 1 21 1 0 1-1 1-36 1 16 1-3 1-17 1 0 1 18 1-15 1 10 1 0 1-21 1 16 1 19 1-6 1 4 1-1 1-32 1 12 1 6 1 0 1 4 1 11 1 0 1 20 1-13 1 9 1-38 1 17 1 13 1 16 1-9 1 9 1-25 1 33 1 13 1-5 1 50 1-22 1-5 1 0 1 13 1 9 1 7 1-10 1-19 1-29 1 41 1-42 1-11 1-6 1 13 1 2 1-11 1 9 1 3 1-1 1-18 1 10 1 0 1-11 1 6 1 11 1-43 1 24 1 5 1 3 1-15 1 3 1 1 1 12 1-9 1 7 1-18 1 16 1-15 1 10 1-15 1 29 1-26 1-5 1 24 1-28 1 25 1 8 1 12 1-22 1 10 1 15 1 6 1-7 1 24 1-3 1 12 1 3 1 15 1-31 1-15 1 9 1-9 1 3 1-31 1 9 1-1 1 17 1 9 1-15 1 19 1-7 1 11 1-24 1 12 1-8 1-15 1 13 1-4 1 19 1 5 1-28 1 22 1-24 1 24 1-14 1 11 1-12 1 4 1 4 1-36 1 26 1-12 1 25 1 8 1-4 1 20 1-30 1 15 1-2 1 16 1-13 1 16 1 16 1 18 1-3 1-8 1-9 1 0 1 20 1-23 1-9 1 5 1-8 1 11 1-22 1-28 1 29 1-17 1 13 1-14 1-16 1 13 1-21 1 12 1-4 1-1 1 1 1-7 1-8 1 20 1-23 1-9 1 37 1-28 1-2 1-5 1 13 1 24 1-28 1 23 1-4 1-43 1 28 1-7 1 26 1 3 1-12 1-6 1 2 1 11 1-26 1 32 1 16 1-10 1 0 1 4 1 17 1-18 1 6 1 3 1 1 1-9 1 2 1 14 1-1 1-1 1-15 1 56 1-16 1-16 1-8 1 4 1-13 1-18 1 37 1-15 1-8 1 16 1-18 1 4 1 10 1 7 1-47 1 27 1 3 1-10 1-3 1-18 1 15 1 6 1-6 1-2 1 3 1 20 1-32 1 12 1 7 1 10 1 2 1-2 1-5 1 6 1 14 1-19 1 28 1 26 1-2 1 30 1-9 1-2 1 19 1-13 1 32 1-33 1 21 1-19 1 20 1-24 1-7 1-3 1 8 1 17 1 2 1 8"/>
<path transform="translate(241.38,426.87) scale(2.26350,0.60017)" vector-effect="non-scaling-stroke" stroke="#a4b4d8" stroke-width="2.30" d="M0 43 l1-5 1 13 1-3 1-4 1 13 1 7 1-10 1-1 1 21 1-35 1-1 1 26 1-18 1 13 1-12 1 0 1 7 1-7 1-26 1-9 1 7 1-53 1 9 1 3 1 9 1 23 1 0 1-32 1 0 1 20 1-1 1 21 1 3 1 6 1-33 1 12 1-2 1 5 1-25 1-5 1 2 1-6 1 12 1-12 1-8 1-24 1-10 1-8 1-10 1-7 1-8 1-7 1 0 1-17 1 4 1-15 1 18 1-14 1 23 1-19 1-6 1 6 1 10 1 9 1-2 1-23 1 15 1-20 1 16 1 11 1-14 1-3 1-16 1 24 1-18 1-24 1 16 1 8 1-3 1-1 1 1 1 0 1-17 1 17 1-9 1 20 1-24 1 10 1 1 1 17 1-15 1 6 1 2 1 5 1 14 1 2 1 11 1-15 1-27 1-1 1 11 1-27 1-13 1 4 1 19 1-18 1-11 1 0 1 7 1-23 1-15 1 23 1-2 1 11 1-11 1-6 1-5 1 14 1 13 1-1 1-11 1-4 1 1 1 5 1 4 1-8 1-2 1 24 1-6 1-12 1 20 1-40 1 37 1-4 1 18 1-25 1 16 1 3 1 3 1 17 1 9 1 32 1-20 1-11 1 16 1 17 1-6 1 17 1-16 1-10 1-29 1 24 1-21 1-6 1-20 1 18 1-7 1-1 1 3 1 1 1 12 1-15 1-12 1 3 1 8 1-9 1 9 1-25 1 24 1-11 1-3 1-4 1-3 1 9 1 4 1 0 1-8 1-4 1 18 1-28 1 19 1-12 1 17 1-5 1-13 1 25 1-30 1 18 1-3 1 13 1-11 1 15 1 3 1 3 1-2 1 4 1 28 1 13 1-8 1 8 1-5 1-17 1-14 1 3 1 3 1-33 1 14 1-2 1 7 1 18 1-30 1 25 1 1 1 6 1 0 1-14 1-3 1-14 1 8 1-12 1 42 1-19 1-21 1 19 1-14 1 11 1-3 1 7 1-11 1 12 1-8 1-19 1 19 1-23 1 31 1 7 1-14 1 9 1-6 1 12 1-2 1 11 1-10 1 20 1 5 1 27 1 2 1-14 1-12 1 11 1 12 1-23 1 1 1-1 1-8 1 18 1-37 1-26 1 29 1-13 1 20 1-17 1-20 1 7 1 0 1-3 1 11 1-12 1 6 1-23 1 7 1 19 1-22 1-3 1 35 1-38 1 1 1-6 1 4 1 19 1-1 1 19 1-26 1-2 1 9 1-16 1 21 1-11 1 10 1-16 1 15 1-2 1-11 1 18 1-1 1 6 1 2 1 11 1 9 1-8 1 0 1-7 1 30 1-25 1 14 1-2 1-5 1 12 1-23 1 39 1-20 1 15 1-21 1-6 1 2 1-10 1 24 1-16 1-1 1 10 1-10 1 10 1 0 1 0 1-42 1 31 1-12 1-6 1 0 1-7 1 23 1 1 1-14 1-2 1 24 1-2 1-28 1 7 1-10 1 34 1 6 1-14 1-5 1 1 1 16 1-11 1 37 1 7 1 14 1-5 1 1 1 21 1-4 1-4 1 22 1-20 1 21 1-31 1 8 1-18 1 6 1-9 1 8 1 30 1-1 1 4"/>
<path transform="translate(241.38,426.87) scale(2.26350,0.60017)" vector-effect="non-scaling-stroke" stroke="#e8a4b0" stroke-width="2.30" d="M0 61 l1-33 1 22 1 1 1 6 1 3 1 6 1-18 1-11 1 36 1-40 1 21 1 1 1-5 1 2 1-6 1-6 1 20 1-31 1-6 1-12 1-2 1-20 1-1 1-11 1 16 1 20 1-18 1-14 1 1 1 28 1 3 1 4 1 2 1 6 1-29 1-5 1 17 1 11 1-35 1 6 1 1 1-16 1 8 1-3 1 8 1-35 1-22 1 10 1-12 1-13 1-1 1-12 1-10 1 4 1-3 1-1 1 7 1-23 1 22 1 0 1-16 1 9 1-9 1 16 1-2 1-14 1 16 1-22 1 27 1-7 1-15 1-6 1-7 1 15 1-10 1-14 1 11 1 6 1-19 1 8 1 7 1 17 1-28 1 22 1-18 1 17 1-20 1 10 1-1 1 19 1-19 1 0 1-7 1 23 1 11 1 6 1-7 1 0 1-28 1 0 1 13 1-26 1-17 1 20 1 5 1-28 1-2 1 7 1 3 1-22 1 0 1 11 1-6 1-1 1 18 1-28 1 20 1 1 1 13 1 7 1-14 1-12 1 1 1 6 1-3 1-2 1-10 1 9 1 28 1-26 1 20 1-35 1 28 1-1 1 28 1-26 1 14 1-14 1 3 1 31 1-4 1 32 1-9 1-17 1 15 1 1 1 5 1 18 1-12 1-23 1-14 1 28 1-32 1-11 1 5 1 15 1-8 1-27 1 25 1 5 1-6 1-10 1-1 1 0 1-16 1 15 1 1 1-13 1 11 1 7 1-16 1-1 1-1 1 6 1 13 1-12 1-4 1-4 1-4 1-1 1 2 1 5 1 16 1-3 1-34 1 37 1-39 1 33 1-9 1 13 1-11 1 10 1 17 1 1 1-5 1 4 1 14 1 15 1-21 1 30 1-21 1-16 1 2 1-12 1 8 1-21 1 20 1-12 1 12 1 0 1-6 1 15 1-4 1 2 1 2 1-6 1-8 1-12 1 3 1-3 1 31 1-14 1-15 1 25 1-23 1 25 1-21 1 17 1-16 1 17 1-17 1-16 1 27 1-26 1 12 1 27 1-11 1 10 1-9 1-1 1 4 1 14 1-22 1 22 1 12 1 7 1 25 1-24 1-8 1-10 1 28 1-36 1 8 1 26 1-39 1 27 1-30 1-31 1 27 1-7 1 9 1-5 1-8 1 4 1-12 1 2 1 2 1-14 1 15 1-9 1 4 1 9 1-25 1 9 1 18 1-15 1-9 1 0 1 4 1 9 1 7 1 4 1 0 1-38 1 23 1-2 1 3 1 5 1 13 1-25 1-6 1 19 1-10 1 27 1-8 1 6 1-11 1 21 1 1 1-10 1 3 1 2 1 7 1-14 1 5 1 11 1-3 1 13 1-29 1 61 1-37 1 6 1-5 1 7 1-21 1-17 1 38 1-22 1 2 1 14 1-20 1 5 1 11 1 3 1-30 1 7 1 2 1-6 1 10 1-20 1 22 1-11 1 9 1 1 1 1 1 7 1-23 1 7 1-12 1 20 1 3 1-6 1-4 1 16 1 2 1-10 1 32 1 24 1-21 1 17 1 2 1-1 1 8 1-17 1 36 1-28 1 27 1-23 1 18 1-41 1-3 1 3 1 13 1 14 1 4 1 3"/>
<path transform="translate(241.38,426.87) scale(2.26350,0.60017)" vector-effect="non-scaling-stroke" stroke="#c8d898" stroke-width="2.30" d="M0 54 l1-33 1 30 1 3 1-1 1 2 1-1 1-23 1 14 1 24 1-34 1-2 1 17 1-10 1 6 1 2 1-15 1 18 1-28 1-10 1-9 1 21 1-28 1 6 1-4 1 0 1 12 1-7 1-19 1-4 1 28 1-15 1 30 1-3 1 5 1-26 1-3 1 32 1-24 1-4 1-15 1 5 1-18 1 5 1 8 1-7 1-21 1-8 1-7 1-15 1-6 1 9 1-17 1 4 1-19 1 21 1-25 1 20 1-11 1 15 1-15 1-4 1 2 1 0 1 12 1-9 1-13 1 20 1-22 1 22 1-5 1-2 1 1 1-20 1 15 1-18 1-24 1 35 1 2 1-18 1 2 1 14 1 3 1-32 1 23 1-12 1 23 1-22 1 17 1-22 1 14 1-4 1 0 1 9 1 7 1 15 1-11 1 0 1 6 1-17 1-11 1 6 1-11 1-7 1 7 1 7 1-14 1-15 1 8 1-6 1-20 1 3 1 17 1-10 1 3 1-8 1-11 1 19 1 11 1 11 1 1 1-3 1-34 1 20 1-7 1-6 1 14 1-11 1 17 1 17 1-19 1 13 1-24 1 9 1 12 1 17 1-11 1-8 1 6 1-7 1 27 1-5 1 32 1-5 1-19 1 17 1 3 1-7 1 7 1 12 1-26 1-13 1 26 1-49 1 12 1-6 1 10 1 2 1-7 1 5 1 2 1-2 1 0 1-14 1-2 1 8 1 9 1-7 1-16 1-3 1 18 1-19 1 8 1-4 1 18 1 3 1-16 1 15 1-22 1 13 1-16 1 6 1-13 1 35 1-19 1-3 1 5 1-22 1 14 1 10 1 12 1-26 1 25 1 4 1-4 1 3 1 7 1 10 1 16 1-7 1 15 1-12 1-16 1 2 1-8 1 4 1-15 1 7 1 3 1 6 1 5 1-27 1 38 1-14 1-4 1 5 1-5 1-9 1-7 1 8 1-6 1 12 1 2 1-15 1 17 1-22 1 12 1-3 1 13 1-17 1 8 1 3 1-21 1 25 1-18 1 8 1 15 1 1 1-2 1-12 1 7 1 3 1 1 1-11 1 28 1 5 1 10 1 2 1 0 1-12 1-8 1 20 1-23 1 6 1 2 1-8 1 1 1-19 1-15 1 26 1-14 1 10 1-16 1-2 1 16 1-16 1-5 1 3 1-7 1 6 1-2 1 2 1 4 1-11 1-1 1 25 1-35 1 2 1 2 1 0 1 27 1-7 1 7 1-19 1-11 1 17 1-5 1 16 1-4 1 0 1-21 1 10 1 9 1-14 1 29 1-1 1 2 1-4 1 7 1-2 1-10 1 3 1 4 1 4 1 6 1-12 1 16 1 9 1-11 1-17 1 44 1-15 1 3 1-19 1-1 1-4 1-15 1 36 1-19 1-4 1 23 1-14 1-19 1 26 1 2 1-25 1 7 1-9 1 5 1 0 1-4 1-2 1 18 1-22 1 15 1 7 1-13 1-14 1 8 1 0 1 21 1 0 1-13 1-1 1 21 1 3 1-20 1 29 1 12 1 4 1-4 1 8 1-6 1-4 1-5 1 40 1-40 1 39 1-29 1 5 1-28 1 4 1 8 1-2 1 19 1 9 1-5"/>
<path transform="translate(241.38,426.87) scale(2.26350,0.60017)" vector-effect="non-scaling-stroke" stroke="#b8a4d8" stroke-width="2.30" d="M0 43 l1-14 1 20 1-5 1 0 1 10 1 0 1-23 1 2 1 25 1-28 1-8 1 27 1-27 1 12 1 12 1-7 1 9 1-22 1-6 1-4 1-2 1-21 1 11 1-4 1-2 1 28 1-24 1-2 1-22 1 39 1-13 1 13 1 9 1 2 1-24 1-6 1 15 1 13 1-22 1-17 1 5 1-8 1-2 1 0 1 8 1-23 1-19 1 8 1-5 1-6 1-19 1-2 1 1 1-6 1 11 1-6 1-3 1-15 1 21 1-11 1-2 1 2 1-8 1 28 1-23 1 3 1-8 1-5 1 26 1 2 1-23 1 3 1-11 1 11 1-4 1-22 1 29 1-10 1-15 1 1 1 9 1 14 1-29 1 15 1-5 1 9 1-8 1-8 1 5 1 12 1-15 1-1 1 7 1 8 1-12 1 16 1 6 1-5 1-15 1 17 1-9 1-7 1-27 1 23 1 2 1-16 1-1 1 1 1 6 1-21 1-17 1 34 1-17 1 4 1 7 1-15 1 19 1 5 1-6 1 3 1-12 1-6 1 1 1 7 1-5 1 1 1-2 1 20 1 11 1-13 1 5 1-25 1 16 1 17 1 8 1-16 1 9 1-24 1 22 1 5 1 8 1 28 1-21 1-8 1 11 1-10 1 15 1 15 1-3 1-14 1-30 1 39 1-44 1 1 1-1 1 19 1-2 1-12 1 21 1-10 1 0 1-13 1 4 1 4 1-2 1 3 1 1 1-27 1 22 1-7 1-9 1 0 1 2 1 13 1-4 1-3 1-7 1-4 1-2 1 4 1 9 1-12 1 24 1-33 1 3 1 21 1-27 1 16 1 6 1 14 1-32 1 34 1-5 1 3 1 8 1 1 1 3 1 23 1-7 1 10 1-21 1-17 1 1 1 10 1 13 1-36 1 16 1-16 1 7 1 18 1-18 1 25 1-2 1-20 1 4 1-2 1-2 1 7 1-5 1 1 1 21 1-8 1-24 1 11 1-6 1 0 1 13 1 3 1-2 1 10 1-17 1-14 1 11 1-7 1 16 1 6 1-4 1 12 1-25 1 16 1 7 1-1 1-14 1 26 1-7 1 16 1-1 1 1 1-11 1-5 1 20 1-27 1 8 1 5 1-29 1 31 1-27 1-18 1 37 1-21 1 17 1-17 1-4 1-1 1-6 1 15 1-9 1-10 1 6 1-1 1 6 1 5 1-18 1 0 1 14 1-14 1-6 1 5 1 6 1 3 1 3 1 10 1-7 1-36 1 24 1-7 1 13 1-8 1 19 1-8 1 3 1-9 1-13 1 27 1 0 1-7 1 4 1 7 1 8 1 1 1-10 1 3 1 1 1 1 1-12 1 24 1-9 1 2 1-12 1 33 1-14 1 4 1-6 1-9 1 10 1-24 1 28 1-13 1-7 1 16 1-24 1 3 1 11 1 5 1-27 1 23 1-13 1-3 1 3 1-6 1 6 1 27 1-41 1 13 1 17 1 7 1-12 1-8 1-1 1 18 1 5 1-10 1-7 1 38 1-28 1-12 1 40 1-6 1 9 1 1 1 6 1-13 1 7 1-1 1 12 1-25 1 20 1-9 1 10 1-37 1-5 1 6 1 5 1 18 1 10 1-6"/>
<path transform="translate(241.38,426.87) scale(2.26350,0.60017)" vector-effect="non-scaling-stroke" stroke="#98d4e8" stroke-width="2.30" d="M0 30 l1-22 1 18 1 3 1 6 1 4 1 7 1-21 1 3 1 24 1-33 1 17 1 10 1-17 1 16 1-11 1-13 1 17 1-17 1-6 1-6 1 1 1-12 1 13 1 2 1-15 1 27 1-10 1-16 1 1 1 11 1 0 1 11 1-5 1 12 1-27 1-7 1 17 1 4 1-18 1-2 1 6 1-17 1 9 1-2 1-2 1-19 1-7 1-6 1-2 1 8 1-12 1-16 1 8 1-21 1 23 1-14 1 15 1-23 1 18 1-12 1-1 1 6 1-10 1 27 1-10 1-20 1 21 1-22 1 11 1 1 1 3 1-19 1-14 1 24 1-10 1-21 1 13 1 5 1-12 1 14 1 6 1-2 1-11 1-5 1 5 1 15 1-23 1-4 1 3 1 18 1 0 1-18 1 2 1 11 1 10 1 0 1-1 1-1 1-26 1 5 1 21 1-12 1-27 1 26 1-2 1-17 1 11 1-9 1 4 1-24 1 6 1 17 1-25 1 14 1 6 1-8 1 10 1 1 1-1 1 3 1 3 1-19 1 12 1-8 1-13 1 15 1-10 1 17 1 17 1-8 1-1 1-27 1 19 1 8 1 22 1-26 1 4 1-3 1 3 1 19 1-7 1 22 1-7 1-16 1 8 1 11 1-6 1 16 1-10 1-10 1-15 1 20 1-12 1-8 1-3 1 14 1 2 1-18 1 14 1 11 1-15 1 4 1-12 1 2 1 2 1 1 1-9 1-4 1 7 1 13 1-18 1-7 1 5 1 3 1 4 1-4 1 1 1-10 1 2 1-11 1 11 1-12 1 31 1-30 1 14 1 11 1-30 1 18 1 11 1 0 1-9 1 11 1 8 1 0 1 1 1-7 1 14 1 4 1 3 1 12 1-22 1-6 1 5 1-3 1 1 1-14 1 16 1-16 1-2 1 16 1-17 1 30 1-5 1-4 1 4 1 0 1-4 1-13 1-9 1 17 1 9 1 4 1-23 1 19 1-26 1 21 1 1 1 0 1 0 1 8 1-21 1-8 1 15 1-12 1 6 1 17 1-17 1 28 1-32 1-3 1 13 1 16 1-29 1 27 1 3 1 20 1-8 1-6 1-4 1-12 1 20 1-15 1 0 1 15 1-28 1 30 1-20 1-30 1 14 1-3 1 24 1-13 1-18 1 26 1-7 1 3 1-6 1-4 1 6 1-6 1 12 1 0 1-25 1-1 1 27 1-24 1-7 1 2 1-4 1 21 1-6 1 8 1-7 1-19 1 6 1-3 1 11 1 9 1 17 1-18 1-2 1 0 1-15 1 29 1-3 1-1 1-5 1 3 1 9 1-8 1-8 1 13 1 6 1-7 1-4 1 8 1 9 1 2 1-22 1 36 1-7 1 4 1-19 1 0 1-2 1-22 1 30 1 6 1-18 1 14 1-23 1 5 1-1 1 23 1-30 1 13 1-1 1 5 1-2 1-21 1 19 1 2 1-11 1 12 1 18 1-9 1-6 1-2 1-19 1 27 1 2 1-6 1-18 1 17 1-1 1-12 1 33 1 3 1-13 1 20 1-5 1 4 1 8 1-24 1 18 1-18 1 15 1-27 1 14 1-5 1-13 1 15 1-6 1 11 1 15 1-2"/>
<path transform="translate(241.38,426.87) scale(2.26350,0.60017)" vector-effect="non-scaling-stroke" stroke="#f8c4a0" stroke-width="2.30" d="M0 31 l1-11 1 10 1-8 1 1 1 18 1-5 1-14 1-5 1 31 1-22 1 1 1 12 1-5 1-5 1 4 1-17 1 14 1-14 1-8 1 7 1 4 1-24 1 25 1-15 1 7 1 15 1-5 1-16 1-18 1 17 1 0 1 24 1-1 1 1 1-15 1-18 1 12 1 7 1-8 1-6 1 7 1-25 1 0 1 12 1-7 1-14 1-14 1 12 1-5 1-7 1 0 1 7 1-8 1-14 1 18 1-22 1 17 1-12 1 4 1-10 1 2 1 2 1-6 1 21 1-14 1-8 1 10 1-2 1 0 1 4 1-5 1-12 1-8 1 23 1-13 1-11 1 7 1-9 1-2 1 7 1 0 1 16 1-32 1 9 1 1 1 22 1-32 1-5 1 9 1 6 1 5 1-12 1 1 1-1 1 11 1-5 1 4 1 2 1-5 1-3 1 25 1-31 1-8 1 3 1 12 1-13 1 0 1-2 1 13 1-33 1-7 1 20 1 1 1 2 1 1 1-8 1 10 1 4 1 5 1 0 1-1 1-4 1-11 1 14 1-14 1-2 1-7 1 22 1 8 1 5 1-2 1-31 1 13 1 9 1 2 1-7 1 20 1-21 1 5 1 17 1-9 1 31 1-11 1-18 1 13 1-2 1 0 1 15 1 3 1-29 1-17 1 34 1-21 1 3 1-15 1 24 1-11 1 2 1 7 1 17 1-8 1-5 1-10 1 12 1-8 1-6 1 7 1-23 1 14 1 2 1-8 1-7 1 5 1 3 1 12 1-14 1 6 1-30 1 11 1 6 1 15 1-17 1 26 1-27 1-4 1 22 1-28 1 16 1 4 1 15 1-19 1-3 1 24 1-17 1 6 1-12 1 19 1 16 1-7 1 15 1-10 1-13 1-5 1 11 1 2 1-13 1 12 1-27 1 18 1 8 1-16 1 23 1 6 1-10 1-7 1 9 1-12 1-5 1-6 1 4 1 27 1-2 1-16 1 0 1-15 1 20 1-11 1 19 1-22 1 19 1-14 1-11 1 12 1-17 1 30 1 12 1-18 1 8 1-20 1 11 1-6 1-2 1-12 1 27 1-12 1 18 1 12 1-18 1-6 1 4 1 29 1-34 1 10 1 6 1-21 1 34 1-31 1-15 1 32 1-26 1 8 1 0 1-7 1 7 1 1 1-7 1 3 1 0 1 1 1-6 1-6 1 29 1-29 1-5 1 22 1-23 1 1 1 1 1-3 1 28 1-2 1 2 1-18 1-15 1 9 1 6 1 5 1 7 1 1 1-17 1 8 1-6 1 6 1 3 1 2 1 0 1 10 1-11 1 22 1-28 1 17 1-18 1 16 1-6 1 0 1 9 1 13 1-12 1-14 1 45 1-15 1-3 1-12 1-8 1 11 1-21 1 22 1-5 1-10 1 7 1-6 1 9 1 16 1-4 1-34 1 12 1-5 1 8 1-6 1-4 1 7 1 6 1-1 1 8 1-2 1 4 1-14 1-1 1-13 1 39 1-12 1 6 1-10 1 0 1 11 1 1 1 11 1-4 1 9 1-5 1 2 1-8 1-2 1-4 1 17 1-29 1 21 1-33 1 26 1-17 1-1 1-3 1 3 1 17 1 13 1-1"/>
<path transform="translate(241.38,426.87) scale(2.26350,0.60017)" vector-effect="non-scaling-stroke" stroke="#000000" stroke-width="2.60" d="M0 48 l1-16 1 13 1-13 1-15 1 14 1-7 1 3 1 8 1 5 1 15 1-3 1-28 1 25 1-14 1 38 1-17 1 7 1-5 1-14 1-1 1 1 1 17 1-2 1-5 1 5 1-9 1-8 1 21 1-2 1 0 1-9 1-10 1-12 1 2 1-20 1 40 1-13 1-5 1-19 1 8 1-11 1-2 1-6 1-23 1 21 1-22 1 25 1-21 1-6 1 10 1-2 1 11 1 18 1-13 1-21 1-14 1-8 1 8 1 3 1-19 1 20 1-1 1-17 1 10 1-11 1-4 1-5 1-1 1 1 1 0 1-10 1 12 1-28 1 43 1-3 1-20 1-1 1 4 1-1 1 10 1 0 1-17 1 10 1-20 1 14 1-7 1 5 1-5 1-6 1-18 1 68 1-15 1 20 1 14 1-10 1 51 1 9 1-11 1-15 1-27 1-13 1-29 1-29 1 2 1 8 1-11 1 10 1-12 1 11 1 4 1 4 1-17 1-9 1 8 1 10 1-8 1 12 1 3 1-6 1-7 1 1 1-5 1 17 1 4 1 2 1-4 1-10 1-5 1-4 1 27 1-16 1-16 1 18 1-37 1 33 1 2 1 8 1-10 1 11 1-10 1-5 1 18 1-9 1 4 1 1 1 13 1-49 1 28 1-6 1-8 1 16 1-26 1 34 1-20 1-4 1 14 1-10 1 3 1 19 1-3 1-8 1 9 1-27 1 26 1 30 1-35 1-5 1 18 1-5 1 14 1 2 1-7 1 22 1-19 1-21 1 2 1 3 1-30 1 18 1 3 1 5 1 10 1-14 1 26 1-3 1-12 1-15 1 3 1-5 1-5 1 5 1 41 1-6 1 13 1 9 1 10 1 27 1 32 1-24 1-8 1-8 1 11 1-27 1-27 1 20 1-2 1-8 1-39 1 47 1-31 1 17 1-34 1 15 1-5 1-12 1 20 1-14 1-9 1 2 1 13 1-18 1 2 1 9 1-8 1-2 1 0 1-19 1 28 1 0 1 15 1 3 1-17 1 14 1 10 1 5 1-13 1 10 1-19 1-4 1-15 1 41 1-14 1-10 1 22 1 8 1-14 1 6 1 11 1-16 1-16 1 17 1-34 1 0 1 5 1 1 1-33 1 40 1 5 1-7 1-9 1 5 1-3 1-23 1 3 1 29 1 18 1 7 1-29 1 1 1 27 1-51 1-5 1 10 1 7 1-8 1 24 1-14 1-5 1-21 1 36 1-15 1 17 1-21 1 6 1-17 1-2 1 21 1-14 1 34 1-18 1 19 1 2 1 13 1 2 1-1 1 22 1 8 1 5 1 13 1 9 1-32 1 47 1-25 1-2 1-18 1 30 1-34 1 5 1 3 1-28 1 5 1-3 1-14 1 10 1-41 1 14 1 19 1-21 1-2 1 30 1-17 1-5 1 0 1 9 1 1 1-6 1-22 1 24 1-9 1 38 1-37 1 15 1-9 1 12 1 3 1-11 1-22 1 10 1 24 1 12 1-6 1 10 1-29 1 17 1 7 1 19 1-27 1 21 1-24 1 2 1 12 1 21 1-19 1 14 1-21 1 3 1 13 1-33 1 13 1-7 1-10 1-13 1 14 1-6 1 8 1 9"/>
</g>
<g clip-path="url(#clipb)" fill="none" stroke-linejoin="round">
<path transform="translate(239.81,990.83) scale(2.25075,0.59483)" vector-effect="non-scaling-stroke" stroke="#4f6fc4" stroke-width="1.84" d="M0-18 l1-29 1 24 1-6 1 16 1-9 1 18 1-16 1 8 1 9 1-20 1 4 1 17 1-14 1 17 1-16 1-1 1 21 1-18 1-5 1 0 1 10 1-6 1 15 1-12 1-7 1 23 1-11 1-14 1 2 1 9 1 0 1 17 1-5 1 11 1-9 1-5 1 11 1-6 1-8 1 11 1-7 1 0 1-12 1 11 1 17 1-18 1-16 1 15 1 4 1-10 1 11 1-8 1 3 1-5 1 12 1-6 1 15 1-8 1-1 1-2 1-5 1 12 1-8 1 11 1-7 1-3 1 5 1-10 1 6 1-8 1 20 1-17 1-9 1 14 1-10 1-4 1 5 1 7 1-13 1 13 1-2 1 11 1-22 1 22 1 2 1-12 1 1 1-2 1-6 1 2 1 6 1-7 1-6 1 12 1-1 1-3 1 3 1 0 1-12 1 10 1 24 1-18 1-5 1 7 1 9 1-15 1 0 1 1 1-3 1-12 1-1 1 18 1-7 1-8 1 2 1 9 1-7 1 15 1-11 1 2 1 3 1-9 1 10 1-3 1-6 1 7 1-13 1 24 1 1 1-12 1 4 1-13 1 1 1 7 1 11 1-21 1 15 1-3 1 0 1 0 1 2 1 10 1 0 1-6 1 13 1 22 1 15 1-2 1-7 1-27 1-23 1 28 1-28 1 0 1-10 1 18 1-8 1 2 1 9 1 15 1-6 1-6 1-10 1 2 1 0 1 9 1-4 1-16 1 17 1-11 1-3 1 0 1 7 1-9 1 12 1 1 1-9 1-10 1 2 1 0 1 9 1-7 1 21 1-23 1 0 1 7 1-9 1 10 1 1 1 4 1-14 1 13 1 2 1-4 1-11 1 4 1 13 1 7 1-7 1 11 1-11 1 0 1-17 1 1 1 13 1-17 1 8 1-2 1 10 1-6 1 0 1 14 1-2 1-7 1-3 1 0 1 2 1-7 1 1 1 3 1 17 1-13 1-8 1 18 1-25 1 24 1-14 1 3 1-10 1 14 1-4 1-15 1 14 1-10 1 12 1 2 1-8 1 14 1-28 1 12 1 5 1-9 1-9 1 20 1-7 1 26 1 7 1 8 1-4 1 2 1 13 1-25 1-8 1 4 1-12 1 23 1-34 1-7 1 27 1-8 1 7 1-7 1-10 1 8 1-3 1 0 1 14 1-8 1 7 1-17 1 9 1 15 1-21 1-1 1 21 1-28 1-3 1 7 1-8 1 14 1 3 1 16 1-19 1-10 1 9 1 2 1-1 1 10 1 0 1-5 1-5 1-11 1-5 1 33 1-9 1-3 1-10 1-3 1 6 1-12 1 6 1-6 1 11 1-7 1 4 1 3 1 9 1-1 1-2 1 26 1-9 1 0 1-14 1 3 1-2 1-9 1 20 1-10 1-4 1 12 1-7 1-5 1 5 1 10 1-32 1 11 1 1 1 0 1-5 1 9 1-3 1-1 1 1 1-16 1 24 1 3 1-17 1 0 1-7 1 16 1-4 1-3 1-9 1 6 1 0 1-8 1 22 1 0 1-8 1 8 1-3 1-15 1 28 1-13 1 22 1-4 1 22 1-10 1 25 1-17 1 2 1-21 1-2 1 1 1-9 1-1"/>
<path transform="translate(239.81,990.83) scale(2.25075,0.59483)" vector-effect="non-scaling-stroke" stroke="#d05050" stroke-width="1.84" d="M0 95 l1-31 1 25 1-5 1-1 1 7 1-1 1-12 1-8 1 30 1-30 1 5 1 2 1-3 1 9 1-11 1 1 1 9 1-4 1-23 1-23 1-7 1-16 1 4 1-19 1-2 1 12 1-13 1-14 1-7 1 27 1-16 1 9 1 5 1 8 1-27 1 1 1 21 1 0 1-16 1 5 1-1 1-4 1 3 1-5 1 6 1 3 1 1 1-12 1 7 1-6 1 5 1-6 1-5 1 7 1 12 1-13 1 16 1-22 1 23 1-11 1-6 1 13 1-7 1 10 1 5 1-20 1 15 1-16 1 23 1-15 1-2 1-12 1 16 1-5 1-9 1-8 1 25 1-11 1-4 1 2 1 5 1 27 1-34 1 19 1-18 1 19 1-22 1 14 1-17 1 18 1-18 1 0 1 9 1 7 1-13 1-2 1 14 1-3 1-1 1-1 1 22 1-4 1-12 1-5 1 31 1-36 1 4 1 1 1-5 1-3 1-5 1 6 1 5 1-12 1 8 1 4 1-4 1 10 1 0 1 2 1 1 1-16 1 6 1 2 1-14 1 12 1-5 1 8 1 14 1-24 1 9 1-1 1-8 1 19 1-2 1 4 1-10 1-11 1-9 1 32 1-14 1 27 1-10 1-7 1-5 1 19 1 6 1 16 1-8 1-27 1-9 1 19 1-35 1 8 1 8 1 25 1-8 1-7 1 2 1 17 1-16 1-8 1-1 1 10 1-3 1-4 1 0 1-28 1 16 1 3 1 2 1-2 1-4 1 14 1 10 1-21 1-13 1-5 1 19 1-1 1 0 1-10 1 24 1-22 1 11 1 2 1-27 1 13 1 6 1 16 1-12 1 0 1 17 1-20 1-4 1 3 1 15 1 0 1-12 1 32 1-34 1-4 1 2 1 1 1 15 1-21 1 3 1-1 1-4 1 14 1 1 1 3 1 13 1-16 1-1 1 4 1-9 1-8 1 7 1-8 1 28 1-10 1-22 1 21 1-3 1 11 1-22 1 16 1 5 1-7 1-12 1-4 1 14 1-31 1 43 1-8 1-11 1 5 1-7 1-6 1-2 1 18 1-22 1 4 1 15 1 14 1 11 1 3 1-7 1-9 1 10 1-15 1 2 1 1 1-10 1 12 1-21 1-5 1 21 1-4 1 6 1 9 1-28 1 23 1-20 1 19 1-7 1 7 1-12 1 14 1-3 1-5 1 7 1-10 1 19 1-32 1 2 1-8 1 10 1 17 1-10 1 16 1-18 1-8 1 2 1 9 1 0 1 17 1-1 1-18 1-1 1-7 1-6 1 9 1 19 1-20 1 9 1-23 1 18 1-5 1-10 1-2 1 16 1 4 1-14 1 23 1-8 1-4 1 1 1 20 1-2 1 4 1-21 1 8 1-6 1-22 1 25 1 4 1-1 1-1 1-7 1 5 1-9 1 20 1-26 1-5 1 5 1 15 1-13 1 8 1-16 1 27 1-21 1 3 1 12 1-5 1 3 1-10 1-1 1 13 1-1 1-8 1-7 1 9 1-4 1-8 1-2 1 15 1 3 1-10 1 21 1-20 1 6 1 0 1 14 1-12 1 35 1-12 1 22 1-14 1 0 1-6 1-1 1-8 1-3 1-6"/>
<path transform="translate(239.81,990.83) scale(2.25075,0.59483)" vector-effect="non-scaling-stroke" stroke="#5cc0a0" stroke-width="1.84" d="M0 76 l1-5 1 15 1-13 1 1 1 13 1 9 1-13 1-2 1 10 1-28 1 1 1 24 1-18 1 9 1-4 1-21 1 19 1-7 1-29 1-5 1-12 1-11 1-5 1-16 1 0 1 17 1-8 1-28 1 13 1-2 1 1 1 15 1-4 1 7 1-22 1 24 1-3 1-1 1-9 1 1 1 2 1-17 1 5 1 0 1 15 1-15 1-6 1 13 1-4 1 1 1-6 1 12 1-6 1-5 1 2 1 12 1-3 1-10 1 21 1-15 1-12 1 14 1-2 1 8 1-8 1-12 1 18 1-6 1 3 1-11 1 11 1-15 1 5 1-10 1 7 1-5 1 8 1-3 1 0 1 4 1 8 1-3 1-5 1 7 1-5 1 0 1-2 1-9 1 20 1-24 1 16 1-11 1 10 1 1 1-6 1 14 1-11 1 8 1-7 1 2 1 3 1-14 1 5 1 14 1-2 1-5 1-4 1-11 1 14 1-14 1-3 1 8 1-9 1 15 1-12 1 2 1-5 1 14 1 0 1 17 1-15 1-16 1 7 1-7 1 1 1-2 1 5 1 13 1 8 1-15 1 1 1-10 1 18 1-12 1 15 1-6 1-10 1 7 1 10 1 8 1-10 1 22 1-25 1-7 1 19 1 1 1 9 1 6 1-1 1-12 1-33 1 45 1-30 1 0 1 2 1 2 1 13 1-21 1 14 1 8 1-5 1-11 1 8 1-15 1 1 1 23 1-16 1-15 1 21 1-8 1-8 1 2 1-12 1 14 1 7 1-3 1 3 1 1 1-9 1-3 1-9 1 0 1 36 1-30 1-3 1 13 1-28 1 28 1-8 1 14 1-10 1 14 1-11 1 5 1 10 1-21 1 15 1 7 1-5 1 16 1 1 1-37 1 4 1 15 1-7 1-14 1 1 1 22 1-18 1 24 1-20 1 11 1 11 1-19 1 14 1-18 1 6 1-17 1 2 1 8 1 30 1-11 1-19 1 3 1-17 1 28 1-26 1 12 1-3 1 7 1 9 1-16 1 13 1-15 1 11 1 6 1-16 1 10 1-15 1 9 1 1 1 2 1-17 1 15 1 5 1 16 1 5 1-3 1 3 1-11 1 18 1-26 1-2 1 7 1-19 1 34 1-17 1-23 1 30 1-24 1 21 1-18 1-2 1 17 1-14 1 16 1 2 1-4 1-5 1 1 1 0 1 27 1-29 1 2 1 13 1-12 1-6 1-11 1 11 1 13 1 3 1 6 1-15 1-12 1 15 1-1 1-9 1 17 1-2 1-18 1 13 1-4 1-29 1 42 1-8 1-6 1-5 1-3 1 8 1-13 1 4 1-12 1 16 1 0 1-1 1 1 1 7 1 4 1-10 1 15 1 0 1 0 1-10 1 4 1-4 1-13 1 24 1-11 1 2 1 10 1-34 1 22 1 1 1 15 1-39 1 8 1-1 1 16 1-15 1 9 1-10 1 19 1-24 1 8 1 18 1 4 1-27 1 14 1-10 1 16 1 6 1-20 1-6 1-8 1 8 1 14 1 5 1-5 1 11 1-21 1 0 1 9 1-1 1-5 1 34 1-29 1 36 1 4 1 8 1-20 1 11 1-19 1 0 1-8 1 1 1 0"/>
<path transform="translate(239.81,990.83) scale(2.25075,0.59483)" vector-effect="non-scaling-stroke" stroke="#9a88b8" stroke-width="1.84" d="M0 104 l1-21 1 19 1 3 1-6 1 1 1 10 1-17 1 8 1 13 1-37 1-1 1 27 1-7 1 6 1-14 1 4 1 13 1-30 1-9 1-14 1-15 1-15 1 3 1-11 1 2 1 9 1-19 1-4 1-1 1 10 1 7 1 27 1-1 1 2 1-30 1 3 1 19 1 12 1-24 1 11 1-6 1-2 1-3 1-7 1 3 1-17 1-16 1 14 1-6 1-14 1 13 1-17 1 3 1-6 1 10 1-11 1 17 1-14 1 10 1-7 1-6 1 23 1-8 1-2 1-4 1-25 1 22 1-7 1 15 1-8 1 4 1-13 1-14 1 31 1-16 1-14 1 18 1 11 1-16 1 4 1-6 1 25 1-33 1 13 1-3 1 16 1-14 1-4 1 1 1 12 1 2 1-13 1 4 1-15 1 12 1 2 1 3 1 8 1-13 1 20 1-6 1-9 1-8 1 12 1 17 1-28 1 4 1-4 1 4 1-9 1 6 1 13 1-17 1 8 1 7 1-21 1 7 1 0 1 4 1 18 1-2 1-20 1 6 1-15 1 10 1-8 1 5 1 23 1-7 1-5 1 2 1-14 1 6 1 10 1 10 1-24 1 19 1-18 1 1 1 20 1-23 1 32 1-10 1-2 1 5 1 16 1 10 1 12 1-6 1-28 1-21 1 10 1-15 1 8 1-8 1 15 1 4 1-7 1 16 1 5 1-14 1-1 1 3 1-12 1 5 1-5 1 14 1-17 1 2 1 3 1 4 1-21 1-1 1 10 1 3 1-8 1 8 1-7 1 8 1 0 1-12 1-3 1 20 1-16 1 9 1-6 1-9 1 20 1-4 1 8 1-11 1-2 1 12 1-24 1 20 1-10 1 7 1 13 1 1 1 12 1-12 1-18 1-4 1 1 1 10 1-7 1 3 1-19 1 4 1 26 1-11 1 7 1 6 1-5 1 3 1-11 1 9 1-30 1 19 1 2 1 10 1-1 1-36 1 25 1-7 1 24 1-22 1 12 1-11 1 13 1 9 1-28 1 22 1-26 1 18 1 0 1-4 1 13 1-27 1 15 1-10 1 11 1-18 1 23 1-6 1 25 1 10 1-1 1 6 1-14 1 15 1-32 1 1 1 3 1-18 1 26 1-22 1-9 1 10 1 7 1 0 1-4 1-2 1 4 1 1 1 9 1-8 1-5 1 5 1-6 1 9 1 3 1-7 1-8 1 29 1-35 1 5 1-11 1 8 1 25 1-10 1 18 1-19 1-8 1-5 1 7 1 26 1-21 1 6 1-18 1 10 1-7 1-4 1 24 1-9 1 0 1-2 1-7 1 4 1-1 1-9 1 7 1 6 1-10 1 0 1 8 1-5 1 10 1-2 1 25 1-15 1 5 1-3 1-16 1 0 1-2 1 16 1 0 1-1 1 3 1-22 1 11 1 4 1 19 1-37 1 1 1 14 1-5 1-12 1 1 1 4 1 3 1 5 1 1 1 0 1 11 1-19 1-3 1-14 1 33 1-13 1 2 1-16 1 7 1 7 1-14 1 18 1 4 1-8 1 6 1-9 1-10 1 17 1-4 1 30 1-6 1 29 1-21 1 25 1-15 1-14 1 8 1-19 1 20 1-26 1 2"/>
<path transform="translate(239.81,990.83) scale(2.25075,0.59483)" vector-effect="non-scaling-stroke" stroke="#2a8ea8" stroke-width="1.84" d="M0 74 l1-24 1 14 1 4 1-9 1 8 1 9 1-17 1 12 1 9 1-31 1 17 1 15 1-21 1 11 1-4 1-16 1 13 1-1 1-34 1-8 1-24 1-19 1 15 1-14 1 14 1-2 1-14 1-10 1-1 1 1 1-2 1 25 1 6 1 0 1-18 1 3 1 7 1-3 1-5 1-6 1 6 1-13 1 4 1 11 1 7 1-18 1-13 1 11 1 3 1-12 1 12 1 1 1-14 1 11 1 11 1-9 1 6 1 1 1 8 1-5 1-22 1 28 1-8 1 15 1-13 1-25 1 40 1-29 1 8 1 7 1 2 1-16 1-9 1 27 1-7 1-19 1 3 1 15 1-11 1-5 1 16 1 13 1-36 1 2 1 2 1 0 1-31 1-18 1-9 1 7 1-11 1-32 1-8 1 20 1 18 1-14 1 13 1-1 1-19 1 3 1 38 1-26 1-2 1 38 1 17 1 0 1 10 1 17 1-13 1-5 1 2 1 21 1-20 1-2 1 17 1-19 1 19 1 2 1 2 1 11 1-1 1-19 1 0 1 10 1 2 1-17 1 18 1-3 1 14 1-27 1 18 1-14 1 14 1-13 1 14 1-7 1 0 1-5 1 5 1 15 1-20 1 41 1-38 1 4 1 4 1 0 1 14 1-8 1-10 1 2 1-19 1 25 1-11 1 0 1-5 1 11 1 1 1 0 1 0 1 9 1 12 1-17 1-6 1 9 1-18 1 27 1-15 1-18 1 5 1 14 1-11 1 0 1-5 1 9 1 15 1-10 1-4 1-22 1 12 1 0 1-1 1-3 1 22 1-20 1-17 1 24 1-26 1 1 1-16 1-15 1-11 1-15 1 15 1-25 1 1 1-6 1-4 1 21 1-17 1 27 1-20 1-1 1 13 1 11 1 8 1-19 1 31 1 6 1 8 1 27 1-1 1 20 1-6 1 0 1-1 1 0 1-8 1 0 1-1 1-1 1 14 1-1 1-21 1 24 1-23 1 23 1-3 1-8 1-19 1 21 1 1 1-7 1 20 1-29 1 18 1 4 1-13 1 7 1-8 1-4 1-4 1 8 1-7 1 7 1-4 1 12 1 19 1-16 1-3 1-9 1 26 1-22 1 5 1 6 1-16 1 25 1-22 1-18 1 29 1 2 1 17 1-26 1 5 1 2 1 7 1-2 1 11 1-18 1 2 1-12 1 4 1 18 1-15 1 2 1 21 1-19 1-10 1-1 1-10 1 28 1-6 1 10 1-20 1-10 1 24 1-9 1 8 1 1 1 1 1-34 1-8 1-18 1-21 1 17 1-23 1-11 1-15 1-1 1-8 1-8 1-15 1 28 1 13 1 9 1-6 1 20 1 13 1 18 1-3 1 41 1-10 1 19 1-11 1 13 1-7 1 1 1 8 1-16 1 18 1-2 1-6 1 10 1-7 1-6 1-19 1 14 1-9 1 6 1 2 1 1 1-2 1 2 1-1 1 4 1 1 1 12 1-18 1 2 1-14 1 25 1 0 1-1 1-18 1 18 1-8 1-9 1 9 1 14 1-11 1 1 1-14 1 0 1 3 1-4 1 22 1-21 1 30 1-15 1 9 1-6 1-3 1 0 1-2 1 1 1-3 1 4"/>
<path transform="translate(239.81,990.83) scale(2.25075,0.59483)" vector-effect="non-scaling-stroke" stroke="#e07d2a" stroke-width="1.84" d="M0 52 l1-2 1 7 1 0 1 3 1-7 1 18 1-14 1 3 1 20 1-36 1-5 1 22 1-13 1 26 1-9 1-32 1 34 1-24 1-6 1-25 1-7 1-32 1 20 1 2 1-26 1 11 1-5 1-15 1-6 1 8 1 13 1 16 1-4 1-2 1-20 1 13 1 5 1-1 1 0 1-5 1 3 1-11 1 25 1-19 1 4 1-1 1-28 1 15 1 8 1-8 1 11 1-8 1-4 1 7 1-3 1-2 1 17 1-12 1-7 1 6 1-8 1 6 1 11 1-3 1 6 1-15 1 7 1-9 1 14 1-5 1 7 1-23 1-1 1 7 1 4 1-25 1 15 1 23 1-37 1 9 1 5 1-6 1-30 1 8 1-12 1 2 1-48 1 23 1-18 1 20 1-17 1-25 1 9 1 8 1 7 1 11 1 1 1-4 1-31 1-6 1 18 1 5 1-21 1 40 1 24 1-23 1 4 1 13 1 14 1 0 1 1 1 37 1-1 1-8 1 3 1-8 1 10 1 12 1 2 1-11 1 10 1-25 1 29 1-12 1 3 1-2 1 1 1 11 1 2 1-15 1 20 1-34 1 17 1 6 1 5 1-15 1 4 1-1 1-6 1 29 1-14 1 18 1-21 1-9 1 5 1 16 1-4 1-2 1 2 1-10 1-2 1 16 1-8 1-22 1 8 1 24 1 0 1-15 1 12 1 12 1-10 1-2 1-1 1-12 1 0 1 13 1-2 1-10 1 18 1-25 1 6 1-7 1-2 1 12 1 6 1-16 1 18 1-35 1 42 1-35 1 14 1-8 1 17 1-39 1-5 1 7 1-41 1 3 1-5 1 11 1-50 1 14 1-9 1 6 1-1 1-3 1-6 1 17 1-4 1 20 1-7 1-23 1-1 1 22 1 13 1-26 1 25 1 5 1 3 1 38 1-24 1 33 1 18 1-14 1 22 1-6 1 1 1-2 1-8 1 7 1 4 1-7 1-3 1 7 1-9 1 17 1-18 1 9 1 6 1-3 1 2 1-13 1 14 1-15 1 1 1 22 1-15 1 3 1-17 1 8 1-3 1 8 1-12 1 3 1 20 1-1 1 11 1-11 1-8 1-2 1 15 1-19 1 18 1-3 1-14 1 42 1-39 1-13 1 28 1-8 1 15 1-3 1-7 1 3 1-14 1 5 1 4 1 2 1 0 1-4 1 1 1 18 1-20 1-19 1 29 1-8 1-20 1 18 1-11 1 15 1-8 1 24 1 1 1-28 1 0 1-19 1 6 1-3 1-21 1-26 1 1 1-7 1-34 1 29 1-18 1-12 1 3 1 0 1 19 1-42 1 0 1 4 1 35 1-12 1-4 1 23 1 3 1 17 1-11 1 51 1-11 1 9 1-15 1 20 1-8 1 4 1 31 1-4 1-3 1 19 1-15 1-4 1 18 1 9 1-33 1-3 1-1 1 18 1-6 1-2 1-5 1 3 1-13 1 22 1-9 1 0 1-14 1 12 1-19 1 25 1-3 1 14 1-25 1 8 1-7 1-7 1 14 1 11 1 5 1-7 1 3 1-6 1-13 1 11 1 19 1-27 1 19 1-8 1 21 1-21 1 11 1-12 1-2 1 11 1-14 1 6"/>
<path transform="translate(239.81,990.83) scale(2.25075,0.59483)" vector-effect="non-scaling-stroke" stroke="#7088c4" stroke-width="1.84" d="M0 85 l1-21 1 25 1-5 1 0 1-7 1 14 1-13 1 1 1 23 1-46 1 14 1 26 1-27 1 18 1-8 1-21 1 28 1-31 1-17 1-8 1-29 1-20 1 5 1-10 1-3 1 18 1-14 1-21 1 2 1 15 1-11 1 11 1 18 1 3 1-22 1-3 1 14 1 4 1-17 1 0 1 10 1-10 1 19 1-9 1 8 1-24 1-3 1 9 1 5 1-6 1-8 1 7 1-20 1 35 1 5 1-22 1 24 1-23 1 16 1-12 1-14 1 7 1-8 1 12 1-15 1-18 1-4 1-18 1 17 1-8 1-16 1-14 1-2 1-1 1-6 1-24 1 9 1-5 1-13 1-5 1 3 1 9 1-40 1 16 1-9 1 16 1-26 1 4 1 12 1 21 1-8 1-14 1 1 1 27 1 14 1 13 1 8 1-16 1-43 1-6 1 15 1-20 1-42 1 21 1 15 1-29 1-17 1 12 1 24 1-30 1 9 1 28 1-8 1 28 1-10 1 16 1 11 1 19 1 2 1 21 1-12 1-4 1 14 1 11 1 11 1 0 1-1 1 37 1 13 1-14 1 23 1-19 1 18 1 9 1-11 1 5 1 1 1-13 1 10 1 10 1-9 1 22 1-1 1-31 1 7 1 8 1 11 1 2 1-8 1-20 1-4 1 40 1-32 1-5 1 12 1 1 1 3 1-12 1 20 1 6 1-14 1-4 1-7 1-3 1-7 1 6 1-14 1-15 1-10 1 18 1-37 1-10 1 14 1-12 1-3 1-10 1-16 1-20 1-2 1-6 1 3 1-18 1 33 1-42 1-5 1 9 1-48 1 24 1 10 1 8 1-27 1 40 1 5 1-4 1 10 1 5 1 14 1 25 1-8 1 9 1-2 1-40 1 10 1-6 1-15 1-29 1 31 1-2 1-12 1 23 1-9 1 42 1-16 1 0 1 17 1-12 1 10 1 2 1-7 1 10 1 21 1 3 1-18 1 32 1-3 1 14 1-6 1 20 1-6 1 17 1 2 1-13 1 24 1-22 1 32 1 4 1-20 1 19 1-24 1 9 1-5 1 8 1-15 1 17 1 10 1-1 1 12 1-15 1-3 1-6 1 11 1-5 1 4 1-7 1-6 1 26 1-18 1-23 1 29 1-6 1 30 1-23 1-11 1 12 1-3 1 1 1-11 1-22 1-1 1-5 1-7 1 4 1-31 1 5 1 14 1-35 1-13 1-11 1-2 1 18 1 3 1-1 1-27 1-33 1 23 1-13 1 10 1-16 1 11 1-24 1 2 1-3 1-35 1 64 1-19 1 17 1-11 1 22 1 19 1-23 1 16 1-13 1 8 1-1 1-8 1 23 1-15 1 7 1-23 1 44 1-15 1 10 1-12 1 15 1-13 1-16 1 36 1-9 1 10 1 10 1-14 1 2 1 37 1 8 1-43 1 31 1-4 1 1 1 9 1-6 1 16 1 20 1-10 1 3 1 12 1 24 1-26 1 5 1-5 1 7 1 6 1-9 1-10 1 16 1-5 1-1 1 15 1 0 1-5 1-3 1-13 1 8 1 13 1-18 1 24 1-12 1 18 1-23 1 33 1-19 1-1 1-14 1 4 1 9 1-1 1-4"/>
<path transform="translate(239.81,990.83) scale(2.25075,0.59483)" vector-effect="non-scaling-stroke" stroke="#d88080" stroke-width="1.84" d="M0 78 l1-31 1 30 1-6 1 4 1 14 1-8 1-11 1 8 1 7 1-35 1 14 1 13 1-12 1 8 1-7 1 1 1 9 1-13 1-24 1-15 1-15 1-33 1 26 1-19 1-16 1 31 1-25 1-2 1-13 1 8 1 4 1 19 1 0 1-9 1 2 1-7 1 12 1 5 1-13 1-9 1 4 1-1 1 7 1 1 1 5 1-16 1-19 1 30 1-13 1 3 1-5 1 7 1-1 1-16 1 5 1-21 1 11 1-23 1 24 1-28 1-24 1 20 1-11 1-5 1 5 1-13 1 10 1-22 1 7 1-16 1 5 1-21 1-15 1 7 1-6 1-40 1 14 1 12 1-9 1 2 1-3 1 25 1-36 1 18 1-20 1 20 1-14 1 7 1 13 1 3 1 3 1-12 1 8 1 31 1 14 1-3 1 12 1-23 1-14 1-14 1-7 1-22 1-25 1 21 1 17 1-24 1-32 1 5 1 4 1-29 1-1 1 20 1-7 1 4 1 2 1 1 1 11 1 23 1 15 1 18 1-3 1-4 1 0 1 13 1 12 1 13 1-12 1 23 1 35 1-9 1 13 1-17 1 18 1 4 1 36 1-9 1 4 1 24 1-22 1 26 1-2 1 10 1-18 1 3 1-6 1 8 1 4 1 5 1-7 1 0 1-33 1 35 1-12 1-3 1 4 1 6 1-14 1-6 1 10 1-9 1-5 1-17 1-8 1-14 1-3 1 6 1-19 1-19 1 15 1-17 1-15 1-18 1-1 1 3 1-1 1-9 1-9 1-25 1 10 1-15 1 12 1-25 1 37 1-33 1 0 1 27 1-46 1 31 1 3 1 18 1-15 1 16 1 8 1 10 1-9 1 4 1 18 1 27 1-18 1 36 1-29 1-20 1 8 1-11 1 1 1-32 1 8 1 13 1-11 1 14 1-22 1 27 1-7 1-8 1 7 1 3 1-14 1-14 1 28 1 4 1 17 1 15 1-34 1 29 1 2 1 10 1 7 1 6 1-9 1 18 1 1 1-6 1 18 1-19 1 34 1 21 1-4 1-10 1 11 1 7 1-2 1-1 1-2 1 12 1 6 1 3 1 6 1 2 1-6 1-10 1 25 1-29 1 23 1-8 1-5 1 15 1-24 1-13 1 24 1-22 1 2 1-18 1-16 1 7 1-9 1-6 1 7 1-11 1-14 1-8 1-11 1 16 1-28 1-10 1 15 1-26 1-20 1-6 1 3 1 25 1-28 1 16 1-19 1-15 1 10 1-1 1 14 1 6 1-9 1-20 1 14 1 3 1-5 1 41 1-17 1 2 1-3 1 16 1 16 1-14 1 13 1-19 1 30 1-22 1-6 1-2 1 24 1-12 1-14 1 47 1-23 1 13 1-27 1 15 1-17 1-11 1 24 1-8 1-1 1 5 1-2 1-6 1 24 1 14 1-35 1 14 1 9 1 8 1-1 1-5 1 26 1 1 1-16 1 9 1 16 1 16 1-15 1 13 1-4 1 28 1 4 1-11 1 2 1 20 1-3 1-20 1 25 1 2 1 9 1-5 1-10 1 4 1 0 1-10 1 27 1-14 1 17 1-8 1 4 1-8 1-8 1 2 1 12 1-11 1 11 1-10"/>
<path transform="translate(239.81,990.83) scale(2.25075,0.59483)" vector-effect="non-scaling-stroke" stroke="#8cc850" stroke-width="1.68" d="M0 76 l1-36 1 37 1-3 1 4 1 6 1-2 1-22 1 9 1 19 1-41 1 17 1 6 1-2 1-6 1 10 1-10 1 10 1-13 1-26 1-7 1-33 1-15 1 12 1-8 1-14 1 16 1-5 1-18 1 1 1 5 1 11 1 16 1-16 1 7 1-233 1 219 1-1 1 17 1-2 1-3 1-10 1-4 1 8 1 0 1 7 1-20 1-33 1-14 1-4 1-33 1-2 1-34 1 0 1-28 1 9 1-4 1 19 1-37 1 39 1-26 1 16 1 0 1-11 1 19 1 2 1-35 1 39 1-31 1 30 1-4 1-2 1-12 1-15 1 15 1-6 1-27 1 21 1 16 1-30 1 16 1-3 1 21 1-32 1 12 1-4 1 9 1-24 1 17 1 12 1 7 1 7 1-14 1 9 1 28 1 11 1 14 1-2 1-26 1-18 1-13 1 2 1-33 1-6 1 6 1 9 1-22 1-25 1 14 1 10 1-37 1-6 1 22 1-15 1 3 1 5 1-10 1 13 1-4 1 16 1 12 1-27 1-3 1-2 1 3 1-4 1 9 1-1 1 13 1 14 1-13 1 14 1-37 1 33 1 1 1 25 1-22 1 26 1-13 1 24 1 26 1 9 1 61 1-13 1 7 1 19 1 19 1 20 1 3 1-13 1-25 1-34 1 17 1-51 1-6 1-34 1 1 1-21 1 1 1 0 1 3 1-2 1-17 1 0 1-2 1 4 1 6 1 8 1-34 1 18 1-5 1-2 1-5 1-5 1 14 1 3 1-1 1-1 1-12 1 6 1 6 1 9 1-29 1 36 1-34 1 2 1 15 1-28 1 41 1-14 1 12 1-4 1 12 1 26 1-14 1 6 1 4 1 16 1 14 1 6 1 13 1-19 1-24 1-15 1 6 1-2 1-23 1 28 1-28 1 20 1-2 1 4 1 21 1-10 1-1 1-11 1 6 1 0 1-11 1-6 1-8 1 21 1-3 1-24 1 26 1-30 1 16 1 8 1 8 1-6 1-4 1 6 1-28 1 22 1-14 1 31 1-1 1 2 1 3 1-22 1 24 1-2 1 13 1 13 1 29 1 15 1 28 1 5 1 4 1 11 1-3 1 8 1-14 1-18 1-6 1-37 1 6 1-52 1-33 1-5 1-2 1 8 1-9 1-20 1 18 1-14 1 8 1 0 1-1 1-7 1-1 1 16 1 1 1-22 1 12 1 19 1-34 1-5 1-1 1 10 1 29 1-12 1 18 1-5 1-28 1 13 1-2 1 16 1 2 1 1 1-24 1 15 1 11 1-23 1 30 1-7 1 1 1 3 1 18 1 17 1-13 1 2 1 5 1 7 1-21 1 3 1 22 1-5 1 3 1-12 1 43 1-27 1 6 1-23 1 3 1 3 1-11 1 28 1-17 1-1 1-7 1-17 1 7 1 2 1 17 1-31 1 5 1 3 1 4 1-9 1-8 1 11 1 11 1-38 1 13 1 6 1 20 1-34 1 9 1-10 1 34 1 16 1-16 1-18 1 41 1 18 1-11 1 52 1 11 1 7 1 7 1 9 1-4 1 18 1 2 1 15 1-26 1 27 1-8 1 10 1-16 1-446 1 0 1 449 1-12 1 14 1-9"/>
</g>
<g clip-path="url(#clipc)" fill="none" stroke-linejoin="round">
<path transform="translate(237.58,1532.77) scale(2.25625,0.59317)" vector-effect="non-scaling-stroke" stroke="#9088b4" stroke-width="2.42" d="M0 102 l1-35 1 30 1-6 1-4 1 11 1 13 1-26 1 2 1 31 1-50 1 16 1 18 1-17 1 10 1-10 1-9 1 31 1-35 1-19 1-26 1-24 1-50 1 4 1 17 1 20 1 18 1-4 1-11 1-6 1 22 1 13 1 21 1 17 1 2 1-21 1-3 1 14 1-5 1-26 1 2 1 4 1-30 1 2 1-26 1 1 1-31 1-39 1-12 1-29 1-19 1-21 1-5 1-12 1-12 1 7 1-19 1 17 1-9 1 2 1 1 1-12 1 14 1-9 1 29 1-10 1-17 1 19 1-21 1 25 1-9 1 11 1-20 1-10 1 19 1-18 1-27 1 25 1 12 1-22 1 9 1 7 1 6 1-25 1 17 1-4 1 16 1-26 1 9 1 15 1 9 1 5 1-10 1 5 1 33 1 10 1 8 1-1 1-17 1-31 1-14 1 8 1-34 1-26 1 3 1 26 1-35 1-10 1-7 1 8 1-20 1-5 1 17 1-11 1 8 1-13 1-1 1 6 1 14 1 15 1-5 1-6 1-21 1 6 1 4 1-2 1 16 1-8 1 11 1 8 1-11 1 7 1-26 1 33 1-2 1 24 1-10 1 10 1-4 1 12 1 31 1-9 1 58 1-6 1-1 1 33 1 34 1 12 1 16 1-17 1-55 1-39 1 30 1-56 1-8 1-17 1 30 1-31 1-16 1 21 1-10 1-7 1-1 1-14 1 11 1-3 1 2 1 6 1-24 1 9 1 2 1-13 1 6 1-7 1 7 1 16 1-6 1 5 1-24 1 11 1-5 1 12 1-20 1 38 1-31 1-3 1 30 1-49 1 36 1 6 1 14 1-9 1 6 1 25 1-6 1 5 1 10 1 19 1 16 1-9 1 25 1-18 1-25 1-12 1 7 1-18 1-22 1 15 1-9 1 10 1 13 1-35 1 43 1-3 1-11 1 3 1-9 1 1 1-27 1 10 1 11 1 20 1-19 1-12 1 25 1-25 1 21 1-16 1 13 1-17 1 31 1-8 1-36 1 42 1-47 1 47 1 12 1-20 1 22 1-33 1 22 1 4 1 22 1-21 1 22 1 27 1 31 1 14 1 5 1 9 1-11 1 20 1-32 1-19 1-7 1-47 1 11 1-49 1-47 1 31 1-22 1 30 1-9 1-24 1 20 1-19 1 20 1 1 1-10 1 0 1-11 1 10 1 23 1-26 1-3 1 29 1-30 1-10 1 1 1-2 1 30 1-12 1 28 1-15 1-27 1 15 1 2 1 15 1 0 1-1 1-10 1 11 1-4 1-21 1 33 1 7 1 7 1 1 1 7 1 21 1-3 1 5 1-13 1 23 1-27 1 3 1 20 1-5 1-1 1-20 1 56 1-21 1 0 1-18 1-4 1 8 1-24 1 28 1-9 1-20 1 31 1-25 1 5 1 6 1 11 1-38 1 5 1-13 1 9 1-2 1-19 1 16 1 10 1-17 1 8 1 5 1 5 1-30 1 18 1-20 1 37 1 11 1-15 1-11 1 36 1-3 1-7 1 32 1 30 1 24 1-2 1 28 1 17 1 20 1-6 1 32 1-18 1 24 1-20 1 12 1-36 1-1 1-5 1 20 1 8 1 15 1 13"/>
<path transform="translate(237.58,1532.77) scale(2.25625,0.59317)" vector-effect="non-scaling-stroke" stroke="#78b8cc" stroke-width="2.42" d="M0 97 l1-40 1 35 1-3 1-3 1 3 1 13 1-25 1 7 1 27 1-55 1 27 1 24 1-31 1 18 1-8 1-16 1 24 1-29 1-20 1-25 1-10 1-52 1 0 1 15 1 9 1 32 1-12 1-7 1-2 1 26 1-3 1 30 1 1 1 14 1-22 1-11 1-2 1 24 1-22 1-12 1 4 1-32 1 8 1-11 1-9 1-35 1-39 1-6 1-35 1-33 1-5 1-14 1-7 1-13 1 13 1-23 1 27 1-30 1 26 1-14 1-8 1 16 1-6 1 25 1-17 1-18 1 30 1-36 1 35 1-8 1 11 1-24 1-2 1 12 1-14 1-31 1 25 1 5 1-21 1 15 1 3 1 20 1-43 1 31 1-19 1 24 1-34 1 20 1-1 1 21 1-2 1-2 1 5 1 28 1 25 1 3 1 6 1-22 1-35 1-13 1 2 1-38 1-18 1 10 1 7 1-22 1-16 1 0 1 16 1-33 1-2 1 19 1-7 1 3 1-5 1-8 1 12 1 8 1 13 1-3 1-8 1-23 1 9 1 3 1 3 1 2 1-9 1 16 1 23 1-12 1 6 1-25 1 17 1 9 1 22 1-16 1 27 1-7 1-1 1 42 1-14 1 58 1-10 1 11 1 17 1 29 1 19 1 30 1-37 1-39 1-49 1 38 1-56 1-10 1-21 1 13 1-21 1-4 1 13 1-3 1-2 1-18 1-2 1 0 1 6 1 4 1 5 1-32 1 26 1-7 1-4 1-3 1-2 1 1 1 15 1 0 1-4 1-19 1 18 1-13 1 8 1-19 1 47 1-39 1-5 1 32 1-42 1 36 1-2 1 15 1-16 1 9 1 25 1 8 1-6 1 9 1 11 1 36 1-11 1 22 1-34 1-18 1-14 1 15 1-12 1-23 1 11 1-5 1 0 1 16 1-35 1 44 1-1 1-19 1 8 1-9 1-3 1-13 1 13 1-1 1 21 1-8 1-25 1 23 1-23 1 22 1-15 1 17 1-18 1 14 1 1 1-27 1 29 1-33 1 36 1 9 1-10 1 14 1-24 1 20 1-2 1 14 1-6 1 32 1 20 1 27 1 19 1-7 1 4 1-2 1 20 1-33 1-20 1-11 1-45 1 12 1-46 1-43 1 27 1-10 1 27 1-24 1-20 1 27 1-12 1 5 1-4 1 0 1-1 1 1 1-2 1 19 1-17 1-8 1 31 1-36 1 0 1-4 1 10 1 22 1-6 1 19 1-11 1-29 1 12 1 0 1 9 1 10 1 3 1-24 1 15 1-1 1-18 1 32 1 10 1-8 1 10 1 23 1 15 1-10 1 3 1-5 1 8 1-17 1-1 1 11 1 4 1 4 1-16 1 49 1-19 1 0 1-25 1 7 1-13 1-20 1 39 1-6 1-13 1 18 1-19 1-9 1 12 1 12 1-53 1 21 1-8 1 7 1 1 1-11 1 7 1 7 1-13 1-1 1 22 1-6 1-27 1 9 1-18 1 49 1-1 1-12 1-4 1 21 1 3 1-10 1 53 1 14 1 14 1 19 1 16 1 11 1 30 1-5 1 41 1-39 1 35 1-24 1 11 1-29 1-9 1-2 1 17 1 22 1 6 1-1"/>
<path transform="translate(237.58,1532.77) scale(2.25625,0.59317)" vector-effect="non-scaling-stroke" stroke="#f09a48" stroke-width="2.73" d="M0 83 l1-46 1 45 1-15 1 14 1 7 1 8 1-26 1 6 1 22 1-49 1 24 1 12 1-18 1 17 1-1 1-17 1 19 1-29 1-17 1-26 1-26 1-67 1 4 1 16 1 4 1 32 1-19 1-16 1-4 1 37 1 4 1 15 1 8 1-2 1-3 1-14 1 3 1 5 1-13 1-10 1-4 1-28 1 12 1-16 1 5 1-29 1-43 1 4 1-34 1-21 1-5 1-4 1-18 1-4 1 5 1-13 1 23 1-31 1 17 1-6 1-4 1 13 1-8 1 20 1-5 1-16 1 21 1-17 1 21 1-2 1-7 1-19 1-4 1 17 1-15 1-29 1 25 1 9 1-14 1 4 1 13 1 11 1-30 1 14 1-16 1 25 1-16 1 2 1 8 1 14 1 5 1-8 1 18 1 15 1 23 1 4 1-6 1-23 1-30 1-12 1 10 1-31 1-19 1-3 1 17 1-19 1-28 1 11 1 6 1-29 1-9 1 27 1-12 1 9 1-9 1-11 1 14 1 6 1 24 1-6 1-11 1-16 1 6 1-3 1 6 1-4 1-4 1 23 1 13 1-17 1 16 1-37 1 25 1 9 1 24 1-13 1 13 1-6 1 21 1 22 1-8 1 62 1-8 1-7 1 31 1 30 1 15 1 31 1-38 1-38 1-40 1 22 1-48 1-17 1-19 1 18 1-19 1-15 1 18 1-1 1-5 1-2 1-19 1 9 1-3 1 11 1-2 1-25 1 9 1 10 1-13 1-6 1 8 1 13 1 4 1-9 1 3 1-18 1 10 1-6 1-1 1-8 1 40 1-31 1-2 1 20 1-36 1 32 1 2 1 11 1-7 1 9 1 20 1 1 1-5 1 7 1 30 1 27 1-2 1 11 1-35 1-24 1-9 1 17 1-9 1-26 1 7 1-3 1-1 1 10 1-22 1 40 1-3 1-7 1-11 1 10 1-4 1-20 1 12 1-9 1 27 1-10 1-17 1 24 1-23 1 24 1-24 1 21 1-12 1 13 1-3 1-21 1 29 1-39 1 34 1 6 1 0 1 14 1-33 1 29 1 1 1 8 1-13 1 34 1 17 1 29 1 23 1-6 1 3 1 5 1 19 1-37 1-22 1-11 1-42 1 12 1-52 1-39 1 26 1-12 1 23 1-23 1-23 1 30 1-9 1 5 1 0 1-10 1-1 1-1 1 12 1 12 1-27 1 5 1 23 1-28 1-13 1 0 1 13 1 23 1-7 1 19 1-14 1-21 1 11 1-1 1 18 1-1 1 2 1-23 1 17 1 6 1-31 1 45 1-1 1 9 1 3 1 14 1 20 1-20 1 9 1-7 1 15 1-8 1-9 1 18 1-6 1 3 1-22 1 52 1-23 1-3 1-21 1 6 1-3 1-10 1 21 1-10 1 2 1 13 1-23 1 0 1 9 1 14 1-42 1 9 1-1 1-1 1 2 1-20 1 17 1-4 1-18 1 18 1 7 1 3 1-30 1 11 1-8 1 32 1 9 1-13 1-4 1 23 1 6 1-10 1 45 1 17 1 16 1 7 1 14 1 9 1 27 1-14 1 29 1-25 1 32 1-28 1 14 1-38 1 2 1 0 1 3 1 20 1 17 1-5"/>
<path transform="translate(237.58,1532.77) scale(2.25625,0.59317)" vector-effect="non-scaling-stroke" stroke="#b8bcdc" stroke-width="2.42" d="M0 86 l1-26 1 20 1-7 1 13 1 8 1 3 1-16 1-1 1 37 1-59 1 18 1 19 1-18 1 22 1-21 1-9 1 19 1-20 1-18 1-25 1-37 1-50 1-7 1-1 1 20 1 28 1-2 1-30 1 8 1 17 1 5 1 23 1 13 1 3 1-25 1 2 1 3 1 3 1-25 1-5 1 2 1-27 1 5 1 1 1-3 1-34 1-34 1-4 1-28 1-24 1-13 1-2 1-14 1-11 1 11 1-15 1 23 1-23 1 15 1-2 1-7 1 17 1-21 1 31 1-18 1-11 1 25 1-23 1 35 1-15 1 6 1-23 1-8 1 15 1-14 1-23 1 27 1-2 1-12 1 13 1 10 1 4 1-39 1 18 1-8 1 24 1-26 1 13 1 6 1 14 1-12 1 6 1 15 1 21 1 23 1 0 1 11 1-20 1-40 1-9 1 6 1-48 1-18 1 18 1 6 1-21 1-29 1 12 1-3 1-22 1-3 1 28 1-21 1 4 1 2 1-5 1 7 1 18 1 7 1 4 1-12 1-20 1 14 1-9 1 2 1 5 1-5 1 17 1 21 1-21 1 15 1-39 1 25 1 4 1 33 1-21 1 27 1-11 1 4 1 34 1-15 1 65 1-1 1-4 1 39 1 26 1 15 1 21 1-32 1-42 1-45 1 23 1-54 1-7 1-9 1 9 1-20 1-10 1 16 1-4 1-3 1-8 1-12 1 5 1-4 1 9 1 2 1-24 1 8 1 3 1-2 1-8 1 4 1 1 1 13 1-5 1 2 1-14 1 7 1-2 1 4 1-12 1 44 1-34 1-9 1 21 1-34 1 24 1 14 1 7 1-10 1 12 1 21 1 6 1-4 1-3 1 30 1 25 1-10 1 20 1-23 1-24 1-3 1-1 1-2 1-30 1 13 1-13 1 10 1 20 1-27 1 26 1-1 1-13 1 0 1 5 1-3 1-26 1 17 1-9 1 26 1-6 1-27 1 37 1-46 1 34 1-15 1 10 1-3 1 14 1-15 1-10 1 15 1-25 1 35 1 19 1-20 1 14 1-27 1 21 1-1 1 17 1-20 1 36 1 19 1 35 1 13 1 7 1 1 1 0 1 8 1-31 1-20 1-10 1-48 1 19 1-52 1-35 1 16 1 0 1 18 1-16 1-23 1 22 1-6 1-3 1 6 1 1 1-8 1-4 1 4 1 12 1-9 1-3 1 27 1-46 1 6 1 2 1 1 1 24 1-8 1 34 1-29 1-20 1 18 1-8 1 23 1-6 1 5 1-20 1 10 1 5 1-21 1 44 1-3 1 5 1 9 1 6 1 15 1-16 1 9 1-5 1 13 1-13 1-2 1 14 1-5 1 5 1-19 1 51 1-23 1 1 1-13 1 2 1-9 1-12 1 22 1-3 1-11 1 15 1-15 1 1 1 11 1 9 1-51 1 16 1 3 1-8 1 8 1-14 1-2 1 2 1-14 1 21 1 12 1-8 1-18 1 3 1-17 1 38 1 11 1-12 1-6 1 21 1 3 1-16 1 51 1 28 1 8 1 13 1 10 1 14 1 18 1-11 1 37 1-37 1 42 1-22 1-5 1-22 1-9 1 1 1 12 1 11 1 16 1-4"/>
<path transform="translate(237.58,1532.77) scale(2.25625,0.59317)" vector-effect="non-scaling-stroke" stroke="#e8a49c" stroke-width="2.42" d="M0 92 l1-35 1 28 1 0 1 11 1 7 1 1 1-20 1-4 1 38 1-52 1 20 1 17 1-23 1 8 1 1 1-21 1 23 1-19 1-26 1-35 1-14 1-60 1-11 1 20 1 9 1 27 1-10 1-19 1-8 1 25 1 18 1 31 1-2 1 1 1-22 1-11 1 15 1 1 1-19 1-7 1-4 1-26 1 14 1-16 1 6 1-40 1-29 1-3 1-16 1-34 1 3 1-24 1-13 1-2 1 10 1-14 1 17 1-21 1 15 1-10 1-10 1 20 1-8 1 26 1-6 1-24 1 20 1-27 1 36 1-10 1 7 1-17 1-16 1 20 1-11 1-25 1 24 1 3 1-18 1 16 1-1 1 14 1-31 1 3 1 8 1 15 1-15 1 9 1-11 1 23 1-7 1 5 1 13 1 18 1 25 1-1 1 3 1-21 1-33 1-13 1-1 1-34 1-19 1 16 1 9 1-26 1-18 1 9 1-1 1-25 1-5 1 21 1-12 1 8 1-11 1-2 1 15 1 6 1 15 1-1 1-11 1-13 1 2 1 2 1-3 1 0 1 5 1 14 1 19 1-31 1 32 1-34 1 14 1 9 1 25 1-13 1 28 1-20 1 16 1 35 1-10 1 54 1-8 1-7 1 44 1 22 1 18 1 16 1-20 1-55 1-39 1 26 1-44 1-10 1-16 1 7 1 0 1-32 1 19 1-2 1 5 1-22 1-3 1-9 1 13 1-6 1 9 1-20 1 15 1-3 1-12 1 0 1 1 1 15 1 2 1-6 1 11 1-21 1 10 1-13 1 6 1-19 1 50 1-31 1-12 1 27 1-43 1 32 1 14 1 12 1-16 1 14 1 20 1-7 1 8 1 7 1 8 1 34 1-4 1 18 1-23 1-21 1 6 1-18 1-1 1-33 1 18 1-11 1 11 1 15 1-29 1 31 1-3 1-4 1 7 1-14 1-3 1-23 1 24 1-3 1 10 1-7 1-22 1 26 1-22 1 26 1-11 1 6 1-8 1 9 1-7 1-16 1 23 1-34 1 34 1 23 1-13 1 3 1-18 1 13 1 11 1 12 1-15 1 29 1 22 1 35 1 13 1-7 1 9 1 6 1 11 1-27 1-22 1-19 1-43 1 17 1-41 1-41 1 6 1-2 1 24 1-16 1-24 1 29 1-17 1 10 1 0 1-8 1 11 1-7 1-1 1 17 1-19 1-8 1 31 1-33 1-5 1-4 1 6 1 29 1-6 1 18 1-30 1-9 1 11 1 4 1 16 1 1 1 6 1-20 1 15 1-9 1-19 1 37 1 0 1 0 1 14 1 11 1 18 1-20 1 11 1-6 1 13 1-14 1 9 1 5 1-2 1 13 1-32 1 55 1-23 1-1 1-23 1 14 1-10 1-16 1 35 1-20 1-4 1 17 1-25 1 1 1 12 1 17 1-49 1 9 1-2 1 1 1 1 1-12 1-3 1 17 1-16 1 7 1 13 1-4 1-15 1 4 1-17 1 40 1 4 1-7 1-6 1 14 1 4 1-8 1 48 1 24 1 8 1 19 1 8 1 11 1 20 1-14 1 43 1-41 1 40 1-30 1 8 1-35 1-2 1 4 1 8 1 26 1-1 1-1"/>
</g>
<g clip-path="url(#clipd)" fill="none" stroke-linejoin="round">
<path transform="translate(244.46,2107.63) scale(2.26175,0.64183)" vector-effect="non-scaling-stroke" stroke="#a8c468" stroke-width="2.30" d="M0 82 l1-32 1 16 1 10 1 2 1 5 1 5 1-19 1 0 1 32 1-52 1 18 1 21 1-18 1 12 1-4 1-2 1-2 1-12 1-21 1-20 1-29 1-53 1-51 1 57 1 15 1 32 1-7 1-35 1-7 1 32 1-3 1 36 1 4 1 8 1-26 1-9 1 18 1-3 1-12 1-15 1 8 1-37 1 11 1-5 1-6 1-23 1-44 1-2 1-6 1-24 1-12 1 2 1-21 1-6 1 13 1-10 1 10 1-29 1 27 1-16 1-15 1 26 1-4 1 12 1-8 1-24 1 33 1-23 1 22 1-1 1-5 1-11 1-11 1 35 1-39 1-24 1 26 1 5 1-5 1 5 1-2 1 23 1-42 1 24 1-6 1 9 1-23 1 27 1 1 1 10 1-5 1 3 1 3 1 14 1 17 1 9 1 4 1-24 1-24 1-2 1-15 1-24 1-21 1 9 1 27 1-32 1-17 1-8 1 25 1-29 1-14 1 31 1-13 1 0 1-5 1-18 1 22 1 17 1-6 1 2 1-5 1 0 1-8 1 6 1-2 1 1 1-15 1 34 1 7 1-5 1-3 1-41 1 36 1 14 1 14 1-11 1 3 1 8 1 2 1 25 1-10 1 67 1-17 1-15 1 20 1 15 1 7 1 14 1-11 1-33 1-36 1 34 1-44 1-2 1-21 1 19 1-10 1-14 1 14 1 10 1-3 1-16 1-4 1 2 1-10 1 9 1 14 1-20 1 9 1-4 1-12 1 7 1 2 1-2 1 13 1-7 1-3 1-13 1 9 1-6 1 3 1-19 1 52 1-38 1-5 1 18 1-44 1 48 1 8 1 19 1-33 1 13 1 31 1-2 1 6 1-4 1 18 1 32 1-9 1 12 1-16 1-23 1-8 1 1 1-7 1-33 1 21 1-15 1 12 1 16 1-25 1 28 1 1 1-22 1 18 1-15 1 2 1-13 1 14 1-10 1 32 1-8 1-32 1 32 1-25 1 23 1-13 1 19 1-19 1 8 1-4 1-28 1 14 1-24 1 30 1 26 1-12 1 0 1-4 1 15 1 12 1 7 1-7 1 14 1 17 1 33 1 0 1-8 1-5 1-7 1 19 1-46 1 11 1-5 1-13 1 10 1-32 1-22 1 28 1-24 1 23 1-20 1-21 1 9 1-12 1 0 1-2 1 0 1-3 1-10 1 4 1 33 1-34 1 0 1 19 1-21 1-11 1-1 1 13 1 15 1-1 1 13 1-25 1-16 1 13 1 7 1 19 1-11 1 4 1-7 1 11 1-7 1-9 1 22 1 20 1-12 1 6 1 6 1 23 1-32 1 27 1-12 1 18 1-20 1-4 1 9 1-1 1 16 1-22 1 52 1-25 1 8 1-30 1 1 1 5 1-25 1 41 1-2 1-35 1 27 1-12 1-9 1 15 1 16 1-39 1 11 1-12 1-2 1 5 1-13 1 12 1 2 1-15 1 10 1 6 1 3 1-31 1 16 1-10 1 40 1-5 1-16 1 4 1 11 1 6 1-15 1 52 1 15 1 20 1 0 1 13 1 24 1-1 1-11 1 37 1-29 1 37 1-37 1 19 1-27 1-12 1 9 1 7 1 24 1-1 1 6"/>
<path transform="translate(244.46,2107.63) scale(2.26175,0.64183)" vector-effect="non-scaling-stroke" stroke="#6b42a6" stroke-width="4.00" d="M0 80 l1-31 1 30 1-7 1-14 1 23 1 20 1-29 1-4 1 33 1-42 1 10 1 11 1-18 1 17 1-3 1-26 1 32 1-21 1-20 1-26 1-6 1-72 1 7 1 4 1 8 1 28 1-8 1-9 1-16 1 32 1 17 1 7 1 4 1 6 1-23 1 3 1 9 1 1 1-27 1-4 1-4 1-15 1 3 1-16 1 4 1-22 1-32 1 1 1-23 1-17 1-13 1-12 1-5 1-21 1 25 1-13 1 10 1-14 1 25 1-23 1 0 1 5 1 3 1 14 1-5 1-23 1 20 1-14 1 14 1 8 1-16 1-15 1 10 1 7 1 6 1-38 1 18 1 14 1-25 1 12 1 3 1 22 1-39 1 14 1-2 1 7 1-30 1 26 1-12 1 20 1 5 1-12 1 14 1 16 1 19 1 6 1 3 1-13 1-24 1-9 1 0 1-34 1-21 1 7 1 22 1-36 1-6 1 10 1-4 1-29 1 6 1 13 1-13 1 9 1-6 1-1 1 14 1 5 1 20 1-11 1-10 1-25 1 19 1 3 1-1 1 2 1-12 1 19 1 15 1-23 1 25 1-40 1 29 1 0 1 20 1-17 1 25 1-15 1 12 1 25 1-3 1 52 1-11 1-12 1 12 1 10 1 8 1 12 1-17 1-10 1-42 1 39 1-38 1-19 1-11 1 12 1 9 1-20 1 5 1-1 1 5 1-25 1 11 1 6 1-14 1 27 1-6 1-22 1 3 1 10 1-17 1 0 1-2 1 7 1 6 1-12 1 14 1-26 1 3 1 9 1 4 1-20 1 40 1-26 1-10 1 24 1-34 1 37 1-8 1 24 1-28 1 31 1 2 1 9 1 4 1 9 1 17 1 15 1-6 1 18 1-20 1-32 1 0 1 4 1 2 1-35 1 20 1-18 1 15 1 5 1-16 1 34 1 1 1-19 1 3 1-8 1-4 1-17 1 18 1 1 1 18 1 0 1-26 1 29 1-40 1 15 1-1 1 21 1-21 1 1 1 5 1-21 1 10 1-15 1 41 1 1 1-8 1 12 1-18 1 27 1 4 1 6 1-1 1 10 1 19 1 34 1-8 1-14 1-8 1-4 1 20 1-30 1 5 1 7 1-33 1 16 1-32 1-31 1 44 1-27 1 21 1-8 1-33 1 1 1-10 1 16 1-9 1-14 1 2 1-12 1 25 1 8 1-21 1 0 1 33 1-41 1-10 1 1 1 11 1 24 1-1 1 17 1-23 1-26 1 11 1 5 1 9 1 12 1-7 1-10 1 1 1 14 1-24 1 43 1 5 1-26 1 18 1 21 1 16 1-18 1 8 1-16 1 27 1-39 1 18 1 9 1-13 1 22 1-26 1 44 1-14 1 2 1-15 1-2 1-23 1-2 1 34 1-5 1-20 1 18 1-17 1-4 1 8 1 28 1-36 1 3 1-8 1-4 1 8 1-11 1 9 1 2 1-5 1-14 1 23 1-9 1-19 1 7 1-6 1 41 1-5 1-8 1-5 1 11 1 8 1-12 1 52 1 16 1 9 1 6 1 7 1 10 1 18 1-19 1 39 1-37 1 43 1-33 1 6 1-21 1-7 1-11 1 22 1 18 1 3 1 6"/>
<path transform="translate(244.46,2107.63) scale(2.26175,0.64183)" vector-effect="non-scaling-stroke" stroke="#4ebfdc" stroke-width="2.30" d="M0 75 l1-36 1 35 1-22 1 17 1-1 1-2 1-5 1 1 1 34 1-47 1 12 1 18 1-13 1-3 1 6 1-19 1 32 1-39 1-10 1-24 1-16 1-29 1-25 1 23 1 8 1 20 1-13 1-2 1-13 1 25 1 7 1 19 1 11 1 2 1-28 1-11 1 18 1 1 1-22 1-7 1 14 1-32 1-3 1 0 1-9 1-13 1-33 1-10 1 1 1-17 1-14 1-4 1-10 1-1 1 4 1-28 1 37 1-31 1 21 1-4 1-16 1 17 1-4 1 13 1-9 1-11 1 13 1-11 1 23 1-11 1 2 1-23 1-5 1 23 1-28 1-12 1 25 1 4 1-20 1 5 1 0 1 16 1-30 1 26 1-16 1 20 1-25 1 13 1 2 1 21 1-16 1 13 1 0 1 8 1 20 1-1 1 2 1-6 1-40 1 3 1-2 1-18 1-18 1 1 1 13 1-5 1-28 1 4 1 5 1-27 1 2 1 21 1-15 1 0 1-1 1-11 1 14 1 24 1-8 1 14 1-13 1-18 1 6 1 1 1 2 1 1 1-6 1 16 1 8 1-16 1 24 1-32 1 32 1-14 1 28 1-24 1 7 1-2 1 12 1 19 1 19 1 45 1-14 1-34 1 16 1 19 1 2 1 10 1 0 1-23 1-31 1 40 1-54 1-2 1-11 1 15 1 1 1-21 1 15 1 1 1-7 1-13 1-8 1 17 1 4 1-3 1 3 1-24 1 1 1 17 1-9 1-1 1 3 1 2 1 11 1-5 1-9 1-14 1 7 1-4 1 12 1-21 1 50 1-42 1 2 1 23 1-40 1 38 1-4 1 7 1-9 1 12 1 22 1-16 1 22 1-6 1 14 1 23 1 1 1 13 1-37 1-15 1 2 1 5 1 3 1-42 1 14 1-13 1 19 1 16 1-32 1 42 1-22 1 2 1-1 1 1 1-8 1-9 1 15 1-16 1 30 1-3 1-29 1 25 1-21 1 17 1-17 1 4 1-5 1 18 1-13 1-16 1 12 1-9 1 20 1 12 1-2 1 6 1-16 1 28 1-3 1 20 1-18 1 24 1 18 1 8 1 3 1-6 1-2 1-16 1 11 1-29 1 21 1-9 1-19 1 31 1-40 1-32 1 35 1-13 1 8 1-3 1-22 1 2 1-12 1-1 1 1 1-4 1 2 1-3 1-8 1 24 1-24 1-16 1 38 1-27 1-9 1 3 1 0 1 7 1 13 1 15 1-16 1-16 1 15 1 2 1-1 1 15 1-8 1-15 1 6 1 14 1-21 1 40 1-17 1 0 1 9 1 4 1 18 1 0 1-4 1-10 1 20 1-15 1 9 1-2 1 12 1-1 1-25 1 56 1-23 1 10 1-30 1 7 1-1 1-24 1 25 1-11 1 4 1 6 1-8 1-7 1 4 1 25 1-40 1 0 1 0 1 6 1-5 1-6 1 13 1 5 1-10 1 4 1 7 1-12 1-17 1 8 1-12 1 34 1 16 1-13 1-13 1 21 1 4 1-11 1 28 1 25 1 16 1 2 1 4 1 13 1 15 1-10 1 31 1-42 1 36 1-35 1 19 1-30 1 2 1-3 1-2 1 23 1 7 1-3"/>
<path transform="translate(244.46,2107.63) scale(2.26175,0.64183)" vector-effect="non-scaling-stroke" stroke="#f4a868" stroke-width="2.30" d="M0 67 l1-32 1 33 1-7 1-2 1-2 1 30 1-22 1-16 1 35 1-55 1 27 1 13 1-17 1 12 1-11 1 7 1 1 1-9 1-29 1-14 1-5 1-47 1 0 1 13 1-3 1 38 1-26 1-16 1-1 1 23 1 7 1 14 1 10 1 2 1-22 1-8 1 17 1 7 1-36 1 11 1-5 1-33 1 19 1 4 1-12 1-22 1-24 1-4 1-6 1-19 1-7 1-8 1-7 1-1 1 16 1-22 1 10 1-16 1 20 1-13 1-10 1 15 1-5 1 18 1-17 1-4 1 20 1-26 1 17 1-11 1 15 1-14 1-23 1 18 1-12 1-22 1 26 1 10 1-20 1 18 1-2 1 3 1-20 1 13 1-8 1 11 1-13 1 5 1-2 1 21 1-20 1 7 1 12 1 0 1 25 1 5 1-5 1-20 1-5 1-11 1 5 1-26 1-23 1 21 1 0 1-1 1-36 1 16 1-3 1-17 1 0 1 18 1-15 1 10 1 0 1-21 1 16 1 19 1-6 1 4 1-1 1-32 1 12 1 6 1 0 1 4 1 11 1 0 1 20 1-13 1 9 1-38 1 17 1 13 1 16 1-9 1 9 1-25 1 33 1 13 1-5 1 50 1-22 1-5 1 0 1 13 1 9 1 7 1-10 1-19 1-29 1 41 1-42 1-11 1-6 1 13 1 2 1-11 1 9 1 3 1-1 1-18 1 10 1 0 1-11 1 6 1 11 1-43 1 24 1 5 1 3 1-15 1 3 1 1 1 12 1-9 1 7 1-18 1 16 1-15 1 10 1-15 1 29 1-26 1-5 1 24 1-28 1 25 1 8 1 12 1-22 1 10 1 15 1 6 1-7 1 24 1-3 1 12 1 3 1 15 1-31 1-15 1 9 1-9 1 3 1-31 1 9 1-1 1 17 1 9 1-15 1 19 1-7 1 11 1-24 1 12 1-8 1-15 1 13 1-4 1 19 1 5 1-28 1 22 1-24 1 24 1-14 1 11 1-12 1 4 1 4 1-36 1 26 1-12 1 25 1 8 1-4 1 20 1-30 1 15 1-2 1 16 1-13 1 16 1 16 1 18 1-3 1-8 1-9 1 0 1 20 1-23 1-9 1 5 1-8 1 11 1-22 1-28 1 29 1-17 1 13 1-14 1-16 1 13 1-21 1 12 1-4 1-1 1 1 1-7 1-8 1 20 1-23 1-9 1 37 1-28 1-2 1-5 1 13 1 24 1-28 1 23 1-4 1-43 1 28 1-7 1 26 1 3 1-12 1-6 1 2 1 11 1-26 1 32 1 16 1-10 1 0 1 4 1 17 1-18 1 6 1 3 1 1 1-9 1 2 1 14 1-1 1-1 1-15 1 56 1-16 1-16 1-8 1 4 1-13 1-18 1 37 1-15 1-8 1 16 1-18 1 4 1 10 1 7 1-47 1 27 1 3 1-10 1-3 1-18 1 15 1 6 1-6 1-2 1 3 1 20 1-32 1 12 1 7 1 10 1 2 1-2 1-5 1 6 1 14 1-19 1 28 1 26 1-2 1 30 1-9 1-2 1 19 1-13 1 32 1-33 1 21 1-19 1 20 1-24 1-7 1-3 1 8 1 17 1 2 1 8"/>
<path transform="translate(244.46,2107.63) scale(2.26175,0.64183)" vector-effect="non-scaling-stroke" stroke="#a4b4d8" stroke-width="2.30" d="M0 43 l1-5 1 13 1-3 1-4 1 13 1 7 1-10 1-1 1 21 1-35 1-1 1 26 1-18 1 13 1-12 1 0 1 7 1-7 1-26 1-9 1 7 1-53 1 9 1 3 1 9 1 23 1 0 1-32 1 0 1 20 1-1 1 21 1 3 1 6 1-33 1 12 1-2 1 5 1-25 1-5 1 2 1-6 1 12 1-12 1-8 1-24 1-10 1-8 1-10 1-7 1-8 1-7 1 0 1-17 1 4 1-15 1 18 1-14 1 23 1-19 1-6 1 6 1 10 1 9 1-2 1-23 1 15 1-20 1 16 1 11 1-14 1-3 1-16 1 24 1-18 1-24 1 16 1 8 1-3 1-1 1 1 1 0 1-17 1 17 1-9 1 20 1-24 1 10 1 1 1 17 1-15 1 6 1 2 1 5 1 14 1 2 1 11 1-15 1-27 1-1 1 11 1-27 1-13 1 4 1 19 1-18 1-11 1 0 1 7 1-23 1-15 1 23 1-2 1 11 1-11 1-6 1-5 1 14 1 13 1-1 1-11 1-4 1 1 1 5 1 4 1-8 1-2 1 24 1-6 1-12 1 20 1-40 1 37 1-4 1 18 1-25 1 16 1 3 1 3 1 17 1 9 1 32 1-20 1-11 1 16 1 17 1-6 1 17 1-16 1-10 1-29 1 24 1-21 1-6 1-20 1 18 1-7 1-1 1 3 1 1 1 12 1-15 1-12 1 3 1 8 1-9 1 9 1-25 1 24 1-11 1-3 1-4 1-3 1 9 1 4 1 0 1-8 1-4 1 18 1-28 1 19 1-12 1 17 1-5 1-13 1 25 1-30 1 18 1-3 1 13 1-11 1 15 1 3 1 3 1-2 1 4 1 28 1 13 1-8 1 8 1-5 1-17 1-14 1 3 1 3 1-33 1 14 1-2 1 7 1 18 1-30 1 25 1 1 1 6 1 0 1-14 1-3 1-14 1 8 1-12 1 42 1-19 1-21 1 19 1-14 1 11 1-3 1 7 1-11 1 12 1-8 1-19 1 19 1-23 1 31 1 7 1-14 1 9 1-6 1 12 1-2 1 11 1-10 1 20 1 5 1 27 1 2 1-14 1-12 1 11 1 12 1-23 1 1 1-1 1-8 1 18 1-37 1-26 1 29 1-13 1 20 1-17 1-20 1 7 1 0 1-3 1 11 1-12 1 6 1-23 1 7 1 19 1-22 1-3 1 35 1-38 1 1 1-6 1 4 1 19 1-1 1 19 1-26 1-2 1 9 1-16 1 21 1-11 1 10 1-16 1 15 1-2 1-11 1 18 1-1 1 6 1 2 1 11 1 9 1-8 1 0 1-7 1 30 1-25 1 14 1-2 1-5 1 12 1-23 1 39 1-20 1 15 1-21 1-6 1 2 1-10 1 24 1-16 1-1 1 10 1-10 1 10 1 0 1 0 1-42 1 31 1-12 1-6 1 0 1-7 1 23 1 1 1-14 1-2 1 24 1-2 1-28 1 7 1-10 1 34 1 6 1-14 1-5 1 1 1 16 1-11 1 37 1 7 1 14 1-5 1 1 1 21 1-4 1-4 1 22 1-20 1 21 1-31 1 8 1-18 1 6 1-9 1 8 1 30 1-1 1 4"/>
<path transform="translate(244.46,2107.63) scale(2.26175,0.64183)" vector-effect="non-scaling-stroke" stroke="#e8a4b0" stroke-width="2.30" d="M0 61 l1-33 1 22 1 1 1 6 1 3 1 6 1-18 1-11 1 36 1-40 1 21 1 1 1-5 1 2 1-6 1-6 1 20 1-31 1-6 1-12 1-2 1-20 1-1 1-11 1 16 1 20 1-18 1-14 1 1 1 28 1 3 1 4 1 2 1 6 1-29 1-5 1 17 1 11 1-35 1 6 1 1 1-16 1 8 1-3 1 8 1-35 1-22 1 10 1-12 1-13 1-1 1-12 1-10 1 4 1-3 1-1 1 7 1-23 1 22 1 0 1-16 1 9 1-9 1 16 1-2 1-14 1 16 1-22 1 27 1-7 1-15 1-6 1-7 1 15 1-10 1-14 1 11 1 6 1-19 1 8 1 7 1 17 1-28 1 22 1-18 1 17 1-20 1 10 1-1 1 19 1-19 1 0 1-7 1 23 1 11 1 6 1-7 1 0 1-28 1 0 1 13 1-26 1-17 1 20 1 5 1-28 1-2 1 7 1 3 1-22 1 0 1 11 1-6 1-1 1 18 1-28 1 20 1 1 1 13 1 7 1-14 1-12 1 1 1 6 1-3 1-2 1-10 1 9 1 28 1-26 1 20 1-35 1 28 1-1 1 28 1-26 1 14 1-14 1 3 1 31 1-4 1 32 1-9 1-17 1 15 1 1 1 5 1 18 1-12 1-23 1-14 1 28 1-32 1-11 1 5 1 15 1-8 1-27 1 25 1 5 1-6 1-10 1-1 1 0 1-16 1 15 1 1 1-13 1 11 1 7 1-16 1-1 1-1 1 6 1 13 1-12 1-4 1-4 1-4 1-1 1 2 1 5 1 16 1-3 1-34 1 37 1-39 1 33 1-9 1 13 1-11 1 10 1 17 1 1 1-5 1 4 1 14 1 15 1-21 1 30 1-21 1-16 1 2 1-12 1 8 1-21 1 20 1-12 1 12 1 0 1-6 1 15 1-4 1 2 1 2 1-6 1-8 1-12 1 3 1-3 1 31 1-14 1-15 1 25 1-23 1 25 1-21 1 17 1-16 1 17 1-17 1-16 1 27 1-26 1 12 1 27 1-11 1 10 1-9 1-1 1 4 1 14 1-22 1 22 1 12 1 7 1 25 1-24 1-8 1-10 1 28 1-36 1 8 1 26 1-39 1 27 1-30 1-31 1 27 1-7 1 9 1-5 1-8 1 4 1-12 1 2 1 2 1-14 1 15 1-9 1 4 1 9 1-25 1 9 1 18 1-15 1-9 1 0 1 4 1 9 1 7 1 4 1 0 1-38 1 23 1-2 1 3 1 5 1 13 1-25 1-6 1 19 1-10 1 27 1-8 1 6 1-11 1 21 1 1 1-10 1 3 1 2 1 7 1-14 1 5 1 11 1-3 1 13 1-29 1 61 1-37 1 6 1-5 1 7 1-21 1-17 1 38 1-22 1 2 1 14 1-20 1 5 1 11 1 3 1-30 1 7 1 2 1-6 1 10 1-20 1 22 1-11 1 9 1 1 1 1 1 7 1-23 1 7 1-12 1 20 1 3 1-6 1-4 1 16 1 2 1-10 1 32 1 24 1-21 1 17 1 2 1-1 1 8 1-17 1 36 1-28 1 27 1-23 1 18 1-41 1-3 1 3 1 13 1 14 1 4 1 3"/>
<path transform="translate(244.46,2107.63) scale(2.26175,0.64183)" vector-effect="non-scaling-stroke" stroke="#c8d898" stroke-width="2.30" d="M0 54 l1-33 1 30 1 3 1-1 1 2 1-1 1-23 1 14 1 24 1-34 1-2 1 17 1-10 1 6 1 2 1-15 1 18 1-28 1-10 1-9 1 21 1-28 1 6 1-4 1 0 1 12 1-7 1-19 1-4 1 28 1-15 1 30 1-3 1 5 1-26 1-3 1 32 1-24 1-4 1-15 1 5 1-18 1 5 1 8 1-7 1-21 1-8 1-7 1-15 1-6 1 9 1-17 1 4 1-19 1 21 1-25 1 20 1-11 1 15 1-15 1-4 1 2 1 0 1 12 1-9 1-13 1 20 1-22 1 22 1-5 1-2 1 1 1-20 1 15 1-18 1-24 1 35 1 2 1-18 1 2 1 14 1 3 1-32 1 23 1-12 1 23 1-22 1 17 1-22 1 14 1-4 1 0 1 9 1 7 1 15 1-11 1 0 1 6 1-17 1-11 1 6 1-11 1-7 1 7 1 7 1-14 1-15 1 8 1-6 1-20 1 3 1 17 1-10 1 3 1-8 1-11 1 19 1 11 1 11 1 1 1-3 1-34 1 20 1-7 1-6 1 14 1-11 1 17 1 17 1-19 1 13 1-24 1 9 1 12 1 17 1-11 1-8 1 6 1-7 1 27 1-5 1 32 1-5 1-19 1 17 1 3 1-7 1 7 1 12 1-26 1-13 1 26 1-49 1 12 1-6 1 10 1 2 1-7 1 5 1 2 1-2 1 0 1-14 1-2 1 8 1 9 1-7 1-16 1-3 1 18 1-19 1 8 1-4 1 18 1 3 1-16 1 15 1-22 1 13 1-16 1 6 1-13 1 35 1-19 1-3 1 5 1-22 1 14 1 10 1 12 1-26 1 25 1 4 1-4 1 3 1 7 1 10 1 16 1-7 1 15 1-12 1-16 1 2 1-8 1 4 1-15 1 7 1 3 1 6 1 5 1-27 1 38 1-14 1-4 1 5 1-5 1-9 1-7 1 8 1-6 1 12 1 2 1-15 1 17 1-22 1 12 1-3 1 13 1-17 1 8 1 3 1-21 1 25 1-18 1 8 1 15 1 1 1-2 1-12 1 7 1 3 1 1 1-11 1 28 1 5 1 10 1 2 1 0 1-12 1-8 1 20 1-23 1 6 1 2 1-8 1 1 1-19 1-15 1 26 1-14 1 10 1-16 1-2 1 16 1-16 1-5 1 3 1-7 1 6 1-2 1 2 1 4 1-11 1-1 1 25 1-35 1 2 1 2 1 0 1 27 1-7 1 7 1-19 1-11 1 17 1-5 1 16 1-4 1 0 1-21 1 10 1 9 1-14 1 29 1-1 1 2 1-4 1 7 1-2 1-10 1 3 1 4 1 4 1 6 1-12 1 16 1 9 1-11 1-17 1 44 1-15 1 3 1-19 1-1 1-4 1-15 1 36 1-19 1-4 1 23 1-14 1-19 1 26 1 2 1-25 1 7 1-9 1 5 1 0 1-4 1-2 1 18 1-22 1 15 1 7 1-13 1-14 1 8 1 0 1 21 1 0 1-13 1-1 1 21 1 3 1-20 1 29 1 12 1 4 1-4 1 8 1-6 1-4 1-5 1 40 1-40 1 39 1-29 1 5 1-28 1 4 1 8 1-2 1 19 1 9 1-5"/>
<path transform="translate(244.46,2107.63) scale(2.26175,0.64183)" vector-effect="non-scaling-stroke" stroke="#b8a4d8" stroke-width="2.30" d="M0 43 l1-14 1 20 1-5 1 0 1 10 1 0 1-23 1 2 1 25 1-28 1-8 1 27 1-27 1 12 1 12 1-7 1 9 1-22 1-6 1-4 1-2 1-21 1 11 1-4 1-2 1 28 1-24 1-2 1-22 1 39 1-13 1 13 1 9 1 2 1-24 1-6 1 15 1 13 1-22 1-17 1 5 1-8 1-2 1 0 1 8 1-23 1-19 1 8 1-5 1-6 1-19 1-2 1 1 1-6 1 11 1-6 1-3 1-15 1 21 1-11 1-2 1 2 1-8 1 28 1-23 1 3 1-8 1-5 1 26 1 2 1-23 1 3 1-11 1 11 1-4 1-22 1 29 1-10 1-15 1 1 1 9 1 14 1-29 1 15 1-5 1 9 1-8 1-8 1 5 1 12 1-15 1-1 1 7 1 8 1-12 1 16 1 6 1-5 1-15 1 17 1-9 1-7 1-27 1 23 1 2 1-16 1-1 1 1 1 6 1-21 1-17 1 34 1-17 1 4 1 7 1-15 1 19 1 5 1-6 1 3 1-12 1-6 1 1 1 7 1-5 1 1 1-2 1 20 1 11 1-13 1 5 1-25 1 16 1 17 1 8 1-16 1 9 1-24 1 22 1 5 1 8 1 28 1-21 1-8 1 11 1-10 1 15 1 15 1-3 1-14 1-30 1 39 1-44 1 1 1-1 1 19 1-2 1-12 1 21 1-10 1 0 1-13 1 4 1 4 1-2 1 3 1 1 1-27 1 22 1-7 1-9 1 0 1 2 1 13 1-4 1-3 1-7 1-4 1-2 1 4 1 9 1-12 1 24 1-33 1 3 1 21 1-27 1 16 1 6 1 14 1-32 1 34 1-5 1 3 1 8 1 1 1 3 1 23 1-7 1 10 1-21 1-17 1 1 1 10 1 13 1-36 1 16 1-16 1 7 1 18 1-18 1 25 1-2 1-20 1 4 1-2 1-2 1 7 1-5 1 1 1 21 1-8 1-24 1 11 1-6 1 0 1 13 1 3 1-2 1 10 1-17 1-14 1 11 1-7 1 16 1 6 1-4 1 12 1-25 1 16 1 7 1-1 1-14 1 26 1-7 1 16 1-1 1 1 1-11 1-5 1 20 1-27 1 8 1 5 1-29 1 31 1-27 1-18 1 37 1-21 1 17 1-17 1-4 1-1 1-6 1 15 1-9 1-10 1 6 1-1 1 6 1 5 1-18 1 0 1 14 1-14 1-6 1 5 1 6 1 3 1 3 1 10 1-7 1-36 1 24 1-7 1 13 1-8 1 19 1-8 1 3 1-9 1-13 1 27 1 0 1-7 1 4 1 7 1 8 1 1 1-10 1 3 1 1 1 1 1-12 1 24 1-9 1 2 1-12 1 33 1-14 1 4 1-6 1-9 1 10 1-24 1 28 1-13 1-7 1 16 1-24 1 3 1 11 1 5 1-27 1 23 1-13 1-3 1 3 1-6 1 6 1 27 1-41 1 13 1 17 1 7 1-12 1-8 1-1 1 18 1 5 1-10 1-7 1 38 1-28 1-12 1 40 1-6 1 9 1 1 1 6 1-13 1 7 1-1 1 12 1-25 1 20 1-9 1 10 1-37 1-5 1 6 1 5 1 18 1 10 1-6"/>
<path transform="translate(244.46,2107.63) scale(2.26175,0.64183)" vector-effect="non-scaling-stroke" stroke="#98d4e8" stroke-width="2.30" d="M0 30 l1-22 1 18 1 3 1 6 1 4 1 7 1-21 1 3 1 24 1-33 1 17 1 10 1-17 1 16 1-11 1-13 1 17 1-17 1-6 1-6 1 1 1-12 1 13 1 2 1-15 1 27 1-10 1-16 1 1 1 11 1 0 1 11 1-5 1 12 1-27 1-7 1 17 1 4 1-18 1-2 1 6 1-17 1 9 1-2 1-2 1-19 1-7 1-6 1-2 1 8 1-12 1-16 1 8 1-21 1 23 1-14 1 15 1-23 1 18 1-12 1-1 1 6 1-10 1 27 1-10 1-20 1 21 1-22 1 11 1 1 1 3 1-19 1-14 1 24 1-10 1-21 1 13 1 5 1-12 1 14 1 6 1-2 1-11 1-5 1 5 1 15 1-23 1-4 1 3 1 18 1 0 1-18 1 2 1 11 1 10 1 0 1-1 1-1 1-26 1 5 1 21 1-12 1-27 1 26 1-2 1-17 1 11 1-9 1 4 1-24 1 6 1 17 1-25 1 14 1 6 1-8 1 10 1 1 1-1 1 3 1 3 1-19 1 12 1-8 1-13 1 15 1-10 1 17 1 17 1-8 1-1 1-27 1 19 1 8 1 22 1-26 1 4 1-3 1 3 1 19 1-7 1 22 1-7 1-16 1 8 1 11 1-6 1 16 1-10 1-10 1-15 1 20 1-12 1-8 1-3 1 14 1 2 1-18 1 14 1 11 1-15 1 4 1-12 1 2 1 2 1 1 1-9 1-4 1 7 1 13 1-18 1-7 1 5 1 3 1 4 1-4 1 1 1-10 1 2 1-11 1 11 1-12 1 31 1-30 1 14 1 11 1-30 1 18 1 11 1 0 1-9 1 11 1 8 1 0 1 1 1-7 1 14 1 4 1 3 1 12 1-22 1-6 1 5 1-3 1 1 1-14 1 16 1-16 1-2 1 16 1-17 1 30 1-5 1-4 1 4 1 0 1-4 1-13 1-9 1 17 1 9 1 4 1-23 1 19 1-26 1 21 1 1 1 0 1 0 1 8 1-21 1-8 1 15 1-12 1 6 1 17 1-17 1 28 1-32 1-3 1 13 1 16 1-29 1 27 1 3 1 20 1-8 1-6 1-4 1-12 1 20 1-15 1 0 1 15 1-28 1 30 1-20 1-30 1 14 1-3 1 24 1-13 1-18 1 26 1-7 1 3 1-6 1-4 1 6 1-6 1 12 1 0 1-25 1-1 1 27 1-24 1-7 1 2 1-4 1 21 1-6 1 8 1-7 1-19 1 6 1-3 1 11 1 9 1 17 1-18 1-2 1 0 1-15 1 29 1-3 1-1 1-5 1 3 1 9 1-8 1-8 1 13 1 6 1-7 1-4 1 8 1 9 1 2 1-22 1 36 1-7 1 4 1-19 1 0 1-2 1-22 1 30 1 6 1-18 1 14 1-23 1 5 1-1 1 23 1-30 1 13 1-1 1 5 1-2 1-21 1 19 1 2 1-11 1 12 1 18 1-9 1-6 1-2 1-19 1 27 1 2 1-6 1-18 1 17 1-1 1-12 1 33 1 3 1-13 1 20 1-5 1 4 1 8 1-24 1 18 1-18 1 15 1-27 1 14 1-5 1-13 1 15 1-6 1 11 1 15 1-2"/>
<path transform="translate(244.46,2107.63) scale(2.26175,0.64183)" vector-effect="non-scaling-stroke" stroke="#f8c4a0" stroke-width="2.30" d="M0 31 l1-11 1 10 1-8 1 1 1 18 1-5 1-14 1-5 1 31 1-22 1 1 1 12 1-5 1-5 1 4 1-17 1 14 1-14 1-8 1 7 1 4 1-24 1 25 1-15 1 7 1 15 1-5 1-16 1-18 1 17 1 0 1 24 1-1 1 1 1-15 1-18 1 12 1 7 1-8 1-6 1 7 1-25 1 0 1 12 1-7 1-14 1-14 1 12 1-5 1-7 1 0 1 7 1-8 1-14 1 18 1-22 1 17 1-12 1 4 1-10 1 2 1 2 1-6 1 21 1-14 1-8 1 10 1-2 1 0 1 4 1-5 1-12 1-8 1 23 1-13 1-11 1 7 1-9 1-2 1 7 1 0 1 16 1-32 1 9 1 1 1 22 1-32 1-5 1 9 1 6 1 5 1-12 1 1 1-1 1 11 1-5 1 4 1 2 1-5 1-3 1 25 1-31 1-8 1 3 1 12 1-13 1 0 1-2 1 13 1-33 1-7 1 20 1 1 1 2 1 1 1-8 1 10 1 4 1 5 1 0 1-1 1-4 1-11 1 14 1-14 1-2 1-7 1 22 1 8 1 5 1-2 1-31 1 13 1 9 1 2 1-7 1 20 1-21 1 5 1 17 1-9 1 31 1-11 1-18 1 13 1-2 1 0 1 15 1 3 1-29 1-17 1 34 1-21 1 3 1-15 1 24 1-11 1 2 1 7 1 17 1-8 1-5 1-10 1 12 1-8 1-6 1 7 1-23 1 14 1 2 1-8 1-7 1 5 1 3 1 12 1-14 1 6 1-30 1 11 1 6 1 15 1-17 1 26 1-27 1-4 1 22 1-28 1 16 1 4 1 15 1-19 1-3 1 24 1-17 1 6 1-12 1 19 1 16 1-7 1 15 1-10 1-13 1-5 1 11 1 2 1-13 1 12 1-27 1 18 1 8 1-16 1 23 1 6 1-10 1-7 1 9 1-12 1-5 1-6 1 4 1 27 1-2 1-16 1 0 1-15 1 20 1-11 1 19 1-22 1 19 1-14 1-11 1 12 1-17 1 30 1 12 1-18 1 8 1-20 1 11 1-6 1-2 1-12 1 27 1-12 1 18 1 12 1-18 1-6 1 4 1 29 1-34 1 10 1 6 1-21 1 34 1-31 1-15 1 32 1-26 1 8 1 0 1-7 1 7 1 1 1-7 1 3 1 0 1 1 1-6 1-6 1 29 1-29 1-5 1 22 1-23 1 1 1 1 1-3 1 28 1-2 1 2 1-18 1-15 1 9 1 6 1 5 1 7 1 1 1-17 1 8 1-6 1 6 1 3 1 2 1 0 1 10 1-11 1 22 1-28 1 17 1-18 1 16 1-6 1 0 1 9 1 13 1-12 1-14 1 45 1-15 1-3 1-12 1-8 1 11 1-21 1 22 1-5 1-10 1 7 1-6 1 9 1 16 1-4 1-34 1 12 1-5 1 8 1-6 1-4 1 7 1 6 1-1 1 8 1-2 1 4 1-14 1-1 1-13 1 39 1-12 1 6 1-10 1 0 1 11 1 1 1 11 1-4 1 9 1-5 1 2 1-8 1-2 1-4 1 17 1-29 1 21 1-33 1 26 1-17 1-1 1-3 1 3 1 17 1 13 1-1"/>
<path transform="translate(244.46,2107.63) scale(2.26175,0.64183)" vector-effect="non-scaling-stroke" stroke="#000000" stroke-width="2.60" d="M0 48 l1-16 1 13 1-13 1-15 1 14 1-7 1 3 1 8 1 5 1 15 1-3 1-28 1 25 1-14 1 38 1-17 1 7 1-5 1-14 1-1 1 1 1 17 1-2 1-5 1 5 1-9 1-8 1 21 1-2 1 0 1-9 1-10 1-12 1 2 1-20 1 40 1-13 1-5 1-19 1 8 1-11 1-2 1-6 1-23 1 21 1-22 1 25 1-21 1-6 1 10 1-2 1 11 1 18 1-13 1-21 1-14 1-8 1 8 1 3 1-19 1 20 1-1 1-17 1 10 1-11 1-4 1-5 1-1 1 1 1 0 1-10 1 12 1-28 1 43 1-3 1-20 1-1 1 4 1-1 1 10 1 0 1-17 1 10 1-20 1 14 1-7 1 5 1-5 1-6 1-18 1 68 1-15 1 20 1 14 1-10 1 51 1 9 1-11 1-15 1-27 1-13 1-29 1-29 1 2 1 8 1-11 1 10 1-12 1 11 1 4 1 4 1-17 1-9 1 8 1 10 1-8 1 12 1 3 1-6 1-7 1 1 1-5 1 17 1 4 1 2 1-4 1-10 1-5 1-4 1 27 1-16 1-16 1 18 1-37 1 33 1 2 1 8 1-10 1 11 1-10 1-5 1 18 1-9 1 4 1 1 1 13 1-49 1 28 1-6 1-8 1 16 1-26 1 34 1-20 1-4 1 14 1-10 1 3 1 19 1-3 1-8 1 9 1-27 1 26 1 30 1-35 1-5 1 18 1-5 1 14 1 2 1-7 1 22 1-19 1-21 1 2 1 3 1-30 1 18 1 3 1 5 1 10 1-14 1 26 1-3 1-12 1-15 1 3 1-5 1-5 1 5 1 41 1-6 1 13 1 9 1 10 1 27 1 32 1-24 1-8 1-8 1 11 1-27 1-27 1 20 1-2 1-8 1-39 1 47 1-31 1 17 1-34 1 15 1-5 1-12 1 20 1-14 1-9 1 2 1 13 1-18 1 2 1 9 1-8 1-2 1 0 1-19 1 28 1 0 1 15 1 3 1-17 1 14 1 10 1 5 1-13 1 10 1-19 1-4 1-15 1 41 1-14 1-10 1 22 1 8 1-14 1 6 1 11 1-16 1-16 1 17 1-34 1 0 1 5 1 1 1-33 1 40 1 5 1-7 1-9 1 5 1-3 1-23 1 3 1 29 1 18 1 7 1-29 1 1 1 27 1-51 1-5 1 10 1 7 1-8 1 24 1-14 1-5 1-21 1 36 1-15 1 17 1-21 1 6 1-17 1-2 1 21 1-14 1 34 1-18 1 19 1 2 1 13 1 2 1-1 1 22 1 8 1 5 1 13 1 9 1-32 1 47 1-25 1-2 1-18 1 30 1-34 1 5 1 3 1-28 1 5 1-3 1-14 1 10 1-41 1 14 1 19 1-21 1-2 1 30 1-17 1-5 1 0 1 9 1 1 1-6 1-22 1 24 1-9 1 38 1-37 1 15 1-9 1 12 1 3 1-11 1-22 1 10 1 24 1 12 1-6 1 10 1-29 1 17 1 7 1 19 1-27 1 21 1-24 1 2 1 12 1 21 1-19 1 14 1-21 1 3 1 13 1-33 1 13 1-7 1-10 1-13 1 14 1-6 1 8 1 9"/>
</g>
<line x1="1223.2" y1="84.8" x2="1223.2" y2="656.7" stroke="rgba(255,0,225,0.66)" stroke-width="3.2"/>
<line x1="1403.3" y1="84.8" x2="1403.3" y2="656.7" stroke="rgba(255,0,225,0.66)" stroke-width="3.2"/>
<rect x="1153.4" y="84.8" width="55.6" height="291.2" fill="#fff" stroke="#7e9ab2" stroke-width="1.8"/>
<rect x="1153.4" y="376" width="55.6" height="129.6" fill="#fff" stroke="#7e9ab2" stroke-width="1.8"/>
<rect x="1153.4" y="505.6" width="55.6" height="151.1" fill="#fff" stroke="#7e9ab2" stroke-width="1.8"/>
<text transform="translate(1193.0,289.8) rotate(-90)" font-size="34" font-weight="bold" textLength="87.3" lengthAdjust="spacingAndGlyphs">Drain</text>
<text transform="translate(1193.5,480.3) rotate(-90)" font-size="34" font-weight="bold" textLength="73.6" lengthAdjust="spacingAndGlyphs">Hold</text>
<text transform="translate(1193.0,616.6) rotate(-90)" font-size="34" font-weight="bold" textLength="65.0" lengthAdjust="spacingAndGlyphs">Rise</text>
<line x1="1225" y1="376.3" x2="1402" y2="376.3" stroke="rgba(255,230,230,0.35)" stroke-width="1.2"/>
<line x1="1225" y1="506" x2="1402" y2="506" stroke="rgba(255,230,230,0.3)" stroke-width="1.2"/>
<line x1="1233" y1="664.8" x2="1400.5" y2="664.8" stroke="#000" stroke-width="3.3" stroke-linecap="round"/>
<path d="M1223.8 664.8 L1235.2 659.6 L1235.2 670.2 Z" fill="#000"/>
<text transform="translate(1180.4,66.2) scale(1.15,1)" font-size="25.5" font-weight="bold" fill="#e31ccb" text-anchor="middle">3</text>
<text x="1235.9" y="60.5" font-size="24.5" font-weight="bold" textLength="153" lengthAdjust="spacingAndGlyphs">Length (mm)</text>
<text x="1215.4" y="77.3" font-size="11.8" fill="#444" textLength="40.5" lengthAdjust="spacingAndGlyphs">1000</text>
<text x="1356.4" y="77.3" font-size="11.8" fill="#444" textLength="40.5" lengthAdjust="spacingAndGlyphs">1200</text>
<line x1="1235.5" y1="84.8" x2="1235.5" y2="92" stroke="#2a7a7a" stroke-width="1"/>
<line x1="1376.8" y1="84.8" x2="1376.8" y2="92" stroke="#2a7a7a" stroke-width="1"/>
<rect x="1154.9" y="841.6" width="52.6" height="152.1" fill="#fff"/>
<line x1="1220.1" y1="841.6" x2="1220.1" y2="993.7" stroke="rgba(255,0,225,0.66)" stroke-width="3"/>
<line x1="1401.3" y1="841.6" x2="1401.3" y2="993.7" stroke="rgba(255,0,225,0.66)" stroke-width="3"/>
<rect x="1154.9" y="843.1" width="274.2" height="149.1" fill="none" stroke="#000" stroke-width="3"/>
<text transform="translate(1192.0,951.7) rotate(-90)" font-size="34" font-weight="bold" textLength="64.2" lengthAdjust="spacingAndGlyphs">Rise</text>
<rect x="1154.9" y="1396.2" width="55.5" height="132.6" fill="#fff"/>
<line x1="1220.1" y1="1396.2" x2="1220.1" y2="1528.8" stroke="rgba(255,0,225,0.66)" stroke-width="3"/>
<line x1="1403.0" y1="1396.2" x2="1403.0" y2="1528.8" stroke="rgba(255,0,225,0.66)" stroke-width="3"/>
<rect x="1154.9" y="1397.7" width="277.4" height="129.6" fill="none" stroke="#000" stroke-width="3"/>
<text transform="translate(1194.0,1499.8) rotate(-90)" font-size="34" font-weight="bold" textLength="74.0" lengthAdjust="spacingAndGlyphs">Hold</text>
<rect x="1156.2" y="1893.0" width="55.2" height="294.8" fill="#fff"/>
<line x1="1221.2" y1="1893.0" x2="1221.2" y2="2187.8" stroke="rgba(255,0,225,0.66)" stroke-width="3"/>
<line x1="1402.0" y1="1893.0" x2="1402.0" y2="2187.8" stroke="rgba(255,0,225,0.66)" stroke-width="3"/>
<rect x="1156.2" y="1894.5" width="276.1" height="291.8" fill="none" stroke="#000" stroke-width="3"/>
<text transform="translate(1197.4,2083.1) rotate(-90)" font-size="34" font-weight="bold" textLength="85.9" lengthAdjust="spacingAndGlyphs">Drain</text>
<rect x="22.8" y="9.7" width="1450" height="2370" rx="3.5" fill="none" stroke="#0a2ec2" stroke-width="5.6"/>
<rect x="1449.4" y="7" width="10" height="2360" fill="#0a2ec2"/>
<rect x="20" y="2356.8" width="1440" height="10" fill="#0a2ec2"/>
<line x1="25" y1="690.3" x2="1449" y2="690.3" stroke="#0b1d55" stroke-width="3"/>
<line x1="25" y1="1225.1" x2="1449" y2="1225.1" stroke="#0b1d55" stroke-width="3"/>
<line x1="25" y1="1772.7" x2="1449" y2="1772.7" stroke="#0b1d55" stroke-width="3"/>
</svg></div></body></html>
